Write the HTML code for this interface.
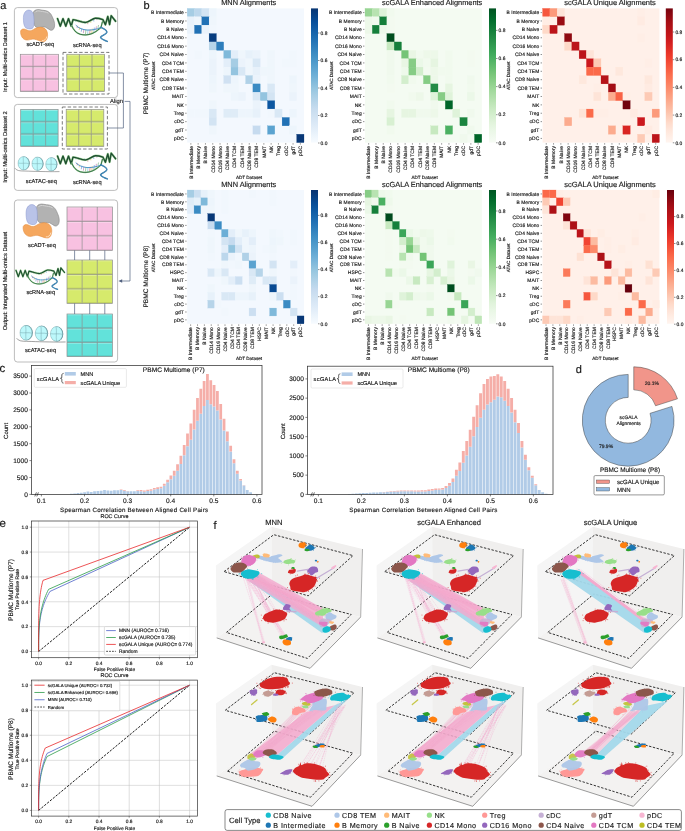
<!DOCTYPE html>
<html><head><meta charset="utf-8"><title>scGALA figure</title>
<style>html,body{margin:0;padding:0;background:#fff;} svg{display:block;will-change:transform;} text{font-family:'Liberation Sans', sans-serif;text-rendering:geometricPrecision;stroke:#1a1a1a;stroke-width:0.15px;} text.s{stroke-width:0.16px;}</style>
</head><body>
<svg width="685" height="831" viewBox="0 0 685 831" font-family="'Liberation Sans', sans-serif">
<rect width="685" height="831" fill="#fff"/>
<text transform="translate(0.20,8.60)" font-size="11" text-anchor="start" fill="#1a1a1a">a</text>
<rect x="14.4" y="7.6" width="103.2" height="90" rx="3" fill="#fff" stroke="#909090" stroke-width="0.6"/>
<rect x="14.4" y="104.4" width="103.2" height="86" rx="3" fill="#fff" stroke="#909090" stroke-width="0.6"/>
<rect x="14.4" y="200" width="103.2" height="162" rx="3" fill="#fff" stroke="#909090" stroke-width="0.6"/>
<text transform="translate(6.60,57.00) rotate(-90)" font-size="5.65" text-anchor="middle" fill="#1a1a1a">Input: Multi-omics Dataset 1</text>
<text transform="translate(6.60,147.00) rotate(-90)" font-size="5.75" text-anchor="middle" fill="#1a1a1a">Input: Multi-omics Dataset 2</text>
<text transform="translate(6.60,281.00) rotate(-90)" font-size="5.75" text-anchor="middle" fill="#1a1a1a">Output: Integrated Multi-omics Dataset</text>
<g transform="translate(0.00,0.00) scale(1.0)"><path d="M33.5,12 C34.5,9.8 37.5,9.2 40,9.8 C42,10.3 43.5,10.2 45.5,10.6 C48.5,11.2 51,13.5 52.2,16.5 C53.5,19.5 55,22.5 54.6,26 C54.3,29 52.5,30.8 50.5,30.2 C48.5,29.6 47.5,27.8 45.5,27.2 C43,26.5 40.5,27.8 38,27.6 C35.5,27.4 34,25.5 33.8,23 C33.5,19.5 32.8,15 33.5,12 Z" fill="#b2b2b2" stroke="#858585" stroke-width="0.6"/><path d="M35,12.5 C36,10.8 38.5,10.6 40.5,11.2 C43,11.8 46,11.6 48.5,13.2" fill="none" stroke="#d4d4d4" stroke-width="0.9"/><path d="M28.5,10.1 C31.5,10 33.6,12.5 33.8,16.5 C34,20 34.5,24.5 33.2,27.5 C32,29.5 28.5,29.3 26,28 C23.8,26.5 23.3,22 23.4,17.5 C23.5,13.5 25.5,10.2 28.5,10.1 Z" fill="#b9c3e8" stroke="#8d9bd0" stroke-width="0.5"/><path d="M20.6,31 C21.5,28.5 24.5,28.6 26.5,29.8 C29,31.2 31,31.2 33.5,29.4 C36,27.6 39.5,26.4 43,27.6 C46.5,28.8 47.8,32 47.6,35.5 C47.4,39 46,41.8 43,41.6 C40,41.4 37.5,39.8 34.5,39.2 C31.5,38.6 29,40.6 26,40 C22.5,39.2 20.3,35.5 20.6,31 Z" fill="#f5a75e" stroke="#e38a3c" stroke-width="0.5"/><path d="M42,40.6 C44.5,40.8 46.4,39.2 46.8,36.5" fill="none" stroke="#fde3c4" stroke-width="0.9"/></g>
<g transform="translate(0.00,0.00) scale(1.0)" fill="none" stroke-linecap="round" stroke-linejoin="round"><line x1="77.55" y1="26.09" x2="77.15" y2="27.48" stroke="#c84a5a" stroke-width="0.55"/><line x1="79.64" y1="27.40" x2="79.24" y2="29.56" stroke="#d8b040" stroke-width="0.55"/><line x1="81.73" y1="28.53" x2="81.33" y2="31.38" stroke="#4a7ac8" stroke-width="0.55"/><line x1="83.82" y1="29.39" x2="83.42" y2="32.79" stroke="#b060a0" stroke-width="0.55"/><line x1="85.91" y1="29.89" x2="85.51" y2="33.69" stroke="#5aa060" stroke-width="0.55"/><line x1="88.00" y1="29.99" x2="87.60" y2="34.00" stroke="#6ab0d8" stroke-width="0.55"/><line x1="90.09" y1="29.67" x2="89.69" y2="33.69" stroke="#c84a5a" stroke-width="0.55"/><line x1="92.18" y1="28.98" x2="91.78" y2="32.79" stroke="#d8b040" stroke-width="0.55"/><line x1="94.27" y1="27.97" x2="93.87" y2="31.38" stroke="#4a7ac8" stroke-width="0.55"/><line x1="96.36" y1="26.73" x2="95.96" y2="29.56" stroke="#b060a0" stroke-width="0.55"/><line x1="98.45" y1="25.40" x2="98.05" y2="27.48" stroke="#5aa060" stroke-width="0.55"/><line x1="75.50" y1="19.60" x2="75.80" y2="21.40" stroke="#4a7ac8" stroke-width="0.55"/><line x1="78.50" y1="20.28" x2="78.80" y2="22.08" stroke="#b060a0" stroke-width="0.55"/><line x1="81.50" y1="20.89" x2="81.80" y2="22.69" stroke="#5aa060" stroke-width="0.55"/><line x1="84.50" y1="21.38" x2="84.80" y2="23.18" stroke="#6ab0d8" stroke-width="0.55"/><line x1="87.50" y1="21.97" x2="87.80" y2="23.77" stroke="#c84a5a" stroke-width="0.55"/><line x1="90.50" y1="20.62" x2="90.80" y2="22.43" stroke="#d8b040" stroke-width="0.55"/><line x1="93.50" y1="19.27" x2="93.80" y2="21.07" stroke="#4a7ac8" stroke-width="0.55"/><line x1="96.50" y1="17.92" x2="96.80" y2="19.72" stroke="#b060a0" stroke-width="0.55"/><path d="M57.5,18.6 L60.3,26.2 L63,18.6 L65.8,26.2 L68.5,18.6 L71.2,26.2 L73,19.6 C78,20.2 82.5,23 86,22.4 C89.5,21.7 92.5,18.6 95.4,18.2 C98,18 100.5,18.8 102.9,19.6 L105.4,24.8 L107.8,16.4 L109.6,24.6 L111.2,15.6 L115.6,21.2" stroke="#a8d8a0" stroke-width="2.3"/><path d="M57.5,18.6 L60.3,26.2 L63,18.6 L65.8,26.2 L68.5,18.6 L71.2,26.2 L73,19.6 C78,20.2 82.5,23 86,22.4 C89.5,21.7 92.5,18.6 95.4,18.2 C98,18 100.5,18.8 102.9,19.6 L105.4,24.8 L107.8,16.4 L109.6,24.6 L111.2,15.6 L115.6,21.2" stroke="#1f4f32" stroke-width="1.4"/><path d="M71.8,25.8 C73.5,30 76,33 80,34.2 C84,35.3 88,35.2 92,33.6 C96,32 99,29.2 101,27.4 L102.4,21.9" stroke="#9ccf98" stroke-width="1.6"/><path d="M71.8,25.8 C73.5,30 76,33 80,34.2 C84,35.3 88,35.2 92,33.6 C96,32 99,29.2 101,27.4 L102.4,21.9" stroke="#2f6a44" stroke-width="0.9"/><path d="M76,25.4 C78,27.6 80.5,28.7 84,29.6 C88,30.5 92,30.1 96,29.1 C98.5,28.5 100,27.9 101,27.4" stroke="#3f8fc4" stroke-width="0.9"/><path d="M101,27.4 C104,28.8 107.2,30.6 106.8,32.4 C106.2,34.6 101.4,35.4 100.6,37.3 C100.8,39.4 105,40.4 107.3,41.4" stroke="#256a9a" stroke-width="1.5"/><path d="M101,27.4 C104,28.8 107.2,30.6 106.8,32.4 C106.2,34.6 101.4,35.4 100.6,37.3 C100.8,39.4 105,40.4 107.3,41.4" stroke="#6ab4e0" stroke-width="0.5"/></g>
<text transform="translate(40.30,46.40)" font-size="5.7" text-anchor="middle" fill="#1a1a1a">scADT-seq</text>
<text transform="translate(87.30,46.60)" font-size="5.7" text-anchor="middle" fill="#1a1a1a">scRNA-seq</text>
<rect x="20.30" y="54.30" width="38.20" height="37.20" fill="#f8c1e1" stroke="#8e8e8e" stroke-width="0.7"/>
<rect x="20.80" y="65.40" width="11.73" height="1.0" fill="#000" opacity="0.1"/>
<rect x="20.80" y="54.70" width="11.73" height="0.9" fill="#fff" opacity="0.35"/>
<rect x="20.80" y="77.80" width="11.73" height="1.0" fill="#000" opacity="0.1"/>
<rect x="20.80" y="67.10" width="11.73" height="0.9" fill="#fff" opacity="0.35"/>
<rect x="20.80" y="90.20" width="11.73" height="1.0" fill="#000" opacity="0.1"/>
<rect x="20.80" y="79.50" width="11.73" height="0.9" fill="#fff" opacity="0.35"/>
<rect x="33.53" y="65.40" width="11.73" height="1.0" fill="#000" opacity="0.1"/>
<rect x="33.53" y="54.70" width="11.73" height="0.9" fill="#fff" opacity="0.35"/>
<rect x="33.53" y="77.80" width="11.73" height="1.0" fill="#000" opacity="0.1"/>
<rect x="33.53" y="67.10" width="11.73" height="0.9" fill="#fff" opacity="0.35"/>
<rect x="33.53" y="90.20" width="11.73" height="1.0" fill="#000" opacity="0.1"/>
<rect x="33.53" y="79.50" width="11.73" height="0.9" fill="#fff" opacity="0.35"/>
<rect x="46.27" y="65.40" width="11.73" height="1.0" fill="#000" opacity="0.1"/>
<rect x="46.27" y="54.70" width="11.73" height="0.9" fill="#fff" opacity="0.35"/>
<rect x="46.27" y="77.80" width="11.73" height="1.0" fill="#000" opacity="0.1"/>
<rect x="46.27" y="67.10" width="11.73" height="0.9" fill="#fff" opacity="0.35"/>
<rect x="46.27" y="90.20" width="11.73" height="1.0" fill="#000" opacity="0.1"/>
<rect x="46.27" y="79.50" width="11.73" height="0.9" fill="#fff" opacity="0.35"/>
<line x1="33.03" y1="54.30" x2="33.03" y2="91.50" stroke="#8e8e8e" stroke-width="0.7"/>
<line x1="20.30" y1="66.70" x2="58.50" y2="66.70" stroke="#8e8e8e" stroke-width="0.7"/>
<line x1="45.77" y1="54.30" x2="45.77" y2="91.50" stroke="#8e8e8e" stroke-width="0.7"/>
<line x1="20.30" y1="79.10" x2="58.50" y2="79.10" stroke="#8e8e8e" stroke-width="0.7"/>
<rect x="63" y="52.4" width="46" height="41.6" fill="none" stroke="#5a5a5a" stroke-width="0.8" stroke-dasharray="3.4,2"/>
<rect x="66.80" y="54.30" width="37.80" height="37.20" fill="#d6ea6c" stroke="#8e8e8e" stroke-width="0.7"/>
<rect x="67.30" y="65.40" width="11.60" height="1.0" fill="#000" opacity="0.1"/>
<rect x="67.30" y="54.70" width="11.60" height="0.9" fill="#fff" opacity="0.35"/>
<rect x="67.30" y="77.80" width="11.60" height="1.0" fill="#000" opacity="0.1"/>
<rect x="67.30" y="67.10" width="11.60" height="0.9" fill="#fff" opacity="0.35"/>
<rect x="67.30" y="90.20" width="11.60" height="1.0" fill="#000" opacity="0.1"/>
<rect x="67.30" y="79.50" width="11.60" height="0.9" fill="#fff" opacity="0.35"/>
<rect x="79.90" y="65.40" width="11.60" height="1.0" fill="#000" opacity="0.1"/>
<rect x="79.90" y="54.70" width="11.60" height="0.9" fill="#fff" opacity="0.35"/>
<rect x="79.90" y="77.80" width="11.60" height="1.0" fill="#000" opacity="0.1"/>
<rect x="79.90" y="67.10" width="11.60" height="0.9" fill="#fff" opacity="0.35"/>
<rect x="79.90" y="90.20" width="11.60" height="1.0" fill="#000" opacity="0.1"/>
<rect x="79.90" y="79.50" width="11.60" height="0.9" fill="#fff" opacity="0.35"/>
<rect x="92.50" y="65.40" width="11.60" height="1.0" fill="#000" opacity="0.1"/>
<rect x="92.50" y="54.70" width="11.60" height="0.9" fill="#fff" opacity="0.35"/>
<rect x="92.50" y="77.80" width="11.60" height="1.0" fill="#000" opacity="0.1"/>
<rect x="92.50" y="67.10" width="11.60" height="0.9" fill="#fff" opacity="0.35"/>
<rect x="92.50" y="90.20" width="11.60" height="1.0" fill="#000" opacity="0.1"/>
<rect x="92.50" y="79.50" width="11.60" height="0.9" fill="#fff" opacity="0.35"/>
<line x1="79.40" y1="54.30" x2="79.40" y2="91.50" stroke="#8e8e8e" stroke-width="0.7"/>
<line x1="66.80" y1="66.70" x2="104.60" y2="66.70" stroke="#8e8e8e" stroke-width="0.7"/>
<line x1="92.00" y1="54.30" x2="92.00" y2="91.50" stroke="#8e8e8e" stroke-width="0.7"/>
<line x1="66.80" y1="79.10" x2="104.60" y2="79.10" stroke="#8e8e8e" stroke-width="0.7"/>
<rect x="20.70" y="109.60" width="37.40" height="36.80" fill="#62e2da" stroke="#8e8e8e" stroke-width="0.7"/>
<rect x="21.20" y="120.57" width="11.47" height="1.0" fill="#000" opacity="0.1"/>
<rect x="21.20" y="110.00" width="11.47" height="0.9" fill="#fff" opacity="0.35"/>
<rect x="21.20" y="132.83" width="11.47" height="1.0" fill="#000" opacity="0.1"/>
<rect x="21.20" y="122.27" width="11.47" height="0.9" fill="#fff" opacity="0.35"/>
<rect x="21.20" y="145.10" width="11.47" height="1.0" fill="#000" opacity="0.1"/>
<rect x="21.20" y="134.53" width="11.47" height="0.9" fill="#fff" opacity="0.35"/>
<rect x="33.67" y="120.57" width="11.47" height="1.0" fill="#000" opacity="0.1"/>
<rect x="33.67" y="110.00" width="11.47" height="0.9" fill="#fff" opacity="0.35"/>
<rect x="33.67" y="132.83" width="11.47" height="1.0" fill="#000" opacity="0.1"/>
<rect x="33.67" y="122.27" width="11.47" height="0.9" fill="#fff" opacity="0.35"/>
<rect x="33.67" y="145.10" width="11.47" height="1.0" fill="#000" opacity="0.1"/>
<rect x="33.67" y="134.53" width="11.47" height="0.9" fill="#fff" opacity="0.35"/>
<rect x="46.13" y="120.57" width="11.47" height="1.0" fill="#000" opacity="0.1"/>
<rect x="46.13" y="110.00" width="11.47" height="0.9" fill="#fff" opacity="0.35"/>
<rect x="46.13" y="132.83" width="11.47" height="1.0" fill="#000" opacity="0.1"/>
<rect x="46.13" y="122.27" width="11.47" height="0.9" fill="#fff" opacity="0.35"/>
<rect x="46.13" y="145.10" width="11.47" height="1.0" fill="#000" opacity="0.1"/>
<rect x="46.13" y="134.53" width="11.47" height="0.9" fill="#fff" opacity="0.35"/>
<line x1="33.17" y1="109.60" x2="33.17" y2="146.40" stroke="#8e8e8e" stroke-width="0.7"/>
<line x1="20.70" y1="121.87" x2="58.10" y2="121.87" stroke="#8e8e8e" stroke-width="0.7"/>
<line x1="45.63" y1="109.60" x2="45.63" y2="146.40" stroke="#8e8e8e" stroke-width="0.7"/>
<line x1="20.70" y1="134.13" x2="58.10" y2="134.13" stroke="#8e8e8e" stroke-width="0.7"/>
<rect x="62.3" y="107" width="45.1" height="42" fill="none" stroke="#5a5a5a" stroke-width="0.8" stroke-dasharray="3.4,2"/>
<rect x="66.20" y="109.60" width="37.60" height="36.80" fill="#d6ea6c" stroke="#8e8e8e" stroke-width="0.7"/>
<rect x="66.70" y="120.57" width="11.53" height="1.0" fill="#000" opacity="0.1"/>
<rect x="66.70" y="110.00" width="11.53" height="0.9" fill="#fff" opacity="0.35"/>
<rect x="66.70" y="132.83" width="11.53" height="1.0" fill="#000" opacity="0.1"/>
<rect x="66.70" y="122.27" width="11.53" height="0.9" fill="#fff" opacity="0.35"/>
<rect x="66.70" y="145.10" width="11.53" height="1.0" fill="#000" opacity="0.1"/>
<rect x="66.70" y="134.53" width="11.53" height="0.9" fill="#fff" opacity="0.35"/>
<rect x="79.23" y="120.57" width="11.53" height="1.0" fill="#000" opacity="0.1"/>
<rect x="79.23" y="110.00" width="11.53" height="0.9" fill="#fff" opacity="0.35"/>
<rect x="79.23" y="132.83" width="11.53" height="1.0" fill="#000" opacity="0.1"/>
<rect x="79.23" y="122.27" width="11.53" height="0.9" fill="#fff" opacity="0.35"/>
<rect x="79.23" y="145.10" width="11.53" height="1.0" fill="#000" opacity="0.1"/>
<rect x="79.23" y="134.53" width="11.53" height="0.9" fill="#fff" opacity="0.35"/>
<rect x="91.77" y="120.57" width="11.53" height="1.0" fill="#000" opacity="0.1"/>
<rect x="91.77" y="110.00" width="11.53" height="0.9" fill="#fff" opacity="0.35"/>
<rect x="91.77" y="132.83" width="11.53" height="1.0" fill="#000" opacity="0.1"/>
<rect x="91.77" y="122.27" width="11.53" height="0.9" fill="#fff" opacity="0.35"/>
<rect x="91.77" y="145.10" width="11.53" height="1.0" fill="#000" opacity="0.1"/>
<rect x="91.77" y="134.53" width="11.53" height="0.9" fill="#fff" opacity="0.35"/>
<line x1="78.73" y1="109.60" x2="78.73" y2="146.40" stroke="#8e8e8e" stroke-width="0.7"/>
<line x1="66.20" y1="121.87" x2="103.80" y2="121.87" stroke="#8e8e8e" stroke-width="0.7"/>
<line x1="91.27" y1="109.60" x2="91.27" y2="146.40" stroke="#8e8e8e" stroke-width="0.7"/>
<line x1="66.20" y1="134.13" x2="103.80" y2="134.13" stroke="#8e8e8e" stroke-width="0.7"/>
<g transform="translate(0.00,0.00) scale(1.0)"><path d="M15,168.2 C16.5,170.8 20,171 24,171 C30,171.2 34,171.4 40,171.5 C47,171.6 53,171.8 59.5,171.6" fill="none" stroke="#555" stroke-width="0.5"/><ellipse cx="24.0" cy="163.3" rx="5.7" ry="6.8" fill="#5f8f96"/><ellipse cx="23.5" cy="163.3" rx="5.5" ry="6.7" fill="#bdf8fb" stroke="#6d9aa0" stroke-width="0.35"/><path d="M23.2,156.8 C23.8,161.3 23.0,165.3 23.5,169.9 M18.1,163.10000000000002 C21.5,163.70000000000002 25.5,162.70000000000002 28.9,163.60000000000002" fill="none" stroke="#6d9aa0" stroke-width="0.4"/><ellipse cx="37.9" cy="163.7" rx="5.7" ry="6.8" fill="#5f8f96"/><ellipse cx="37.4" cy="163.7" rx="5.5" ry="6.7" fill="#bdf8fb" stroke="#6d9aa0" stroke-width="0.35"/><path d="M37.1,157.2 C37.699999999999996,161.7 36.9,165.7 37.4,170.29999999999998 M32.0,163.5 C35.4,164.1 39.4,163.1 42.8,164.0" fill="none" stroke="#6d9aa0" stroke-width="0.4"/><ellipse cx="51.7" cy="164.3" rx="5.7" ry="6.8" fill="#5f8f96"/><ellipse cx="51.2" cy="164.3" rx="5.5" ry="6.7" fill="#bdf8fb" stroke="#6d9aa0" stroke-width="0.35"/><path d="M50.900000000000006,157.8 C51.5,162.3 50.7,166.3 51.2,170.9 M45.800000000000004,164.10000000000002 C49.2,164.70000000000002 53.2,163.70000000000002 56.6,164.60000000000002" fill="none" stroke="#6d9aa0" stroke-width="0.4"/></g>
<g transform="translate(0.00,137.50) scale(1.0)" fill="none" stroke-linecap="round" stroke-linejoin="round"><line x1="77.55" y1="26.09" x2="77.15" y2="27.48" stroke="#c84a5a" stroke-width="0.55"/><line x1="79.64" y1="27.40" x2="79.24" y2="29.56" stroke="#d8b040" stroke-width="0.55"/><line x1="81.73" y1="28.53" x2="81.33" y2="31.38" stroke="#4a7ac8" stroke-width="0.55"/><line x1="83.82" y1="29.39" x2="83.42" y2="32.79" stroke="#b060a0" stroke-width="0.55"/><line x1="85.91" y1="29.89" x2="85.51" y2="33.69" stroke="#5aa060" stroke-width="0.55"/><line x1="88.00" y1="29.99" x2="87.60" y2="34.00" stroke="#6ab0d8" stroke-width="0.55"/><line x1="90.09" y1="29.67" x2="89.69" y2="33.69" stroke="#c84a5a" stroke-width="0.55"/><line x1="92.18" y1="28.98" x2="91.78" y2="32.79" stroke="#d8b040" stroke-width="0.55"/><line x1="94.27" y1="27.97" x2="93.87" y2="31.38" stroke="#4a7ac8" stroke-width="0.55"/><line x1="96.36" y1="26.73" x2="95.96" y2="29.56" stroke="#b060a0" stroke-width="0.55"/><line x1="98.45" y1="25.40" x2="98.05" y2="27.48" stroke="#5aa060" stroke-width="0.55"/><line x1="75.50" y1="19.60" x2="75.80" y2="21.40" stroke="#4a7ac8" stroke-width="0.55"/><line x1="78.50" y1="20.28" x2="78.80" y2="22.08" stroke="#b060a0" stroke-width="0.55"/><line x1="81.50" y1="20.89" x2="81.80" y2="22.69" stroke="#5aa060" stroke-width="0.55"/><line x1="84.50" y1="21.38" x2="84.80" y2="23.18" stroke="#6ab0d8" stroke-width="0.55"/><line x1="87.50" y1="21.97" x2="87.80" y2="23.77" stroke="#c84a5a" stroke-width="0.55"/><line x1="90.50" y1="20.62" x2="90.80" y2="22.43" stroke="#d8b040" stroke-width="0.55"/><line x1="93.50" y1="19.27" x2="93.80" y2="21.07" stroke="#4a7ac8" stroke-width="0.55"/><line x1="96.50" y1="17.92" x2="96.80" y2="19.72" stroke="#b060a0" stroke-width="0.55"/><path d="M57.5,18.6 L60.3,26.2 L63,18.6 L65.8,26.2 L68.5,18.6 L71.2,26.2 L73,19.6 C78,20.2 82.5,23 86,22.4 C89.5,21.7 92.5,18.6 95.4,18.2 C98,18 100.5,18.8 102.9,19.6 L105.4,24.8 L107.8,16.4 L109.6,24.6 L111.2,15.6 L115.6,21.2" stroke="#a8d8a0" stroke-width="2.3"/><path d="M57.5,18.6 L60.3,26.2 L63,18.6 L65.8,26.2 L68.5,18.6 L71.2,26.2 L73,19.6 C78,20.2 82.5,23 86,22.4 C89.5,21.7 92.5,18.6 95.4,18.2 C98,18 100.5,18.8 102.9,19.6 L105.4,24.8 L107.8,16.4 L109.6,24.6 L111.2,15.6 L115.6,21.2" stroke="#1f4f32" stroke-width="1.4"/><path d="M71.8,25.8 C73.5,30 76,33 80,34.2 C84,35.3 88,35.2 92,33.6 C96,32 99,29.2 101,27.4 L102.4,21.9" stroke="#9ccf98" stroke-width="1.6"/><path d="M71.8,25.8 C73.5,30 76,33 80,34.2 C84,35.3 88,35.2 92,33.6 C96,32 99,29.2 101,27.4 L102.4,21.9" stroke="#2f6a44" stroke-width="0.9"/><path d="M76,25.4 C78,27.6 80.5,28.7 84,29.6 C88,30.5 92,30.1 96,29.1 C98.5,28.5 100,27.9 101,27.4" stroke="#3f8fc4" stroke-width="0.9"/><path d="M101,27.4 C104,28.8 107.2,30.6 106.8,32.4 C106.2,34.6 101.4,35.4 100.6,37.3 C100.8,39.4 105,40.4 107.3,41.4" stroke="#256a9a" stroke-width="1.5"/><path d="M101,27.4 C104,28.8 107.2,30.6 106.8,32.4 C106.2,34.6 101.4,35.4 100.6,37.3 C100.8,39.4 105,40.4 107.3,41.4" stroke="#6ab4e0" stroke-width="0.5"/></g>
<text transform="translate(41.40,183.40)" font-size="5.7" text-anchor="middle" fill="#1a1a1a">scATAC-seq</text>
<text transform="translate(87.30,183.60)" font-size="5.7" text-anchor="middle" fill="#1a1a1a">scRNA-seq</text>
<path d="M109,73 H123.4 V128 H107.6" fill="none" stroke="#51617f" stroke-width="0.7"/>
<text transform="translate(110.00,103.30)" font-size="5.8" text-anchor="start" fill="#1a1a1a">Align</text>
<path d="M124.6,101.4 H130 V281 H120.5" fill="none" stroke="#51617f" stroke-width="0.7"/>
<path d="M118.4,281 L122.2,279.2 L122.2,282.8 Z" fill="#51617f"/>
<g transform="translate(1.30,193.90) scale(1.06)"><path d="M33.5,12 C34.5,9.8 37.5,9.2 40,9.8 C42,10.3 43.5,10.2 45.5,10.6 C48.5,11.2 51,13.5 52.2,16.5 C53.5,19.5 55,22.5 54.6,26 C54.3,29 52.5,30.8 50.5,30.2 C48.5,29.6 47.5,27.8 45.5,27.2 C43,26.5 40.5,27.8 38,27.6 C35.5,27.4 34,25.5 33.8,23 C33.5,19.5 32.8,15 33.5,12 Z" fill="#b2b2b2" stroke="#858585" stroke-width="0.6"/><path d="M35,12.5 C36,10.8 38.5,10.6 40.5,11.2 C43,11.8 46,11.6 48.5,13.2" fill="none" stroke="#d4d4d4" stroke-width="0.9"/><path d="M28.5,10.1 C31.5,10 33.6,12.5 33.8,16.5 C34,20 34.5,24.5 33.2,27.5 C32,29.5 28.5,29.3 26,28 C23.8,26.5 23.3,22 23.4,17.5 C23.5,13.5 25.5,10.2 28.5,10.1 Z" fill="#b9c3e8" stroke="#8d9bd0" stroke-width="0.5"/><path d="M20.6,31 C21.5,28.5 24.5,28.6 26.5,29.8 C29,31.2 31,31.2 33.5,29.4 C36,27.6 39.5,26.4 43,27.6 C46.5,28.8 47.8,32 47.6,35.5 C47.4,39 46,41.8 43,41.6 C40,41.4 37.5,39.8 34.5,39.2 C31.5,38.6 29,40.6 26,40 C22.5,39.2 20.3,35.5 20.6,31 Z" fill="#f5a75e" stroke="#e38a3c" stroke-width="0.5"/><path d="M42,40.6 C44.5,40.8 46.4,39.2 46.8,36.5" fill="none" stroke="#fde3c4" stroke-width="0.9"/></g>
<text transform="translate(42.00,246.60)" font-size="5.7" text-anchor="middle" fill="#1a1a1a">scADT-seq</text>
<rect x="67.00" y="207.00" width="45.40" height="43.40" fill="#f8c1e1" stroke="#8e8e8e" stroke-width="0.7"/>
<rect x="67.50" y="220.17" width="14.13" height="1.0" fill="#000" opacity="0.1"/>
<rect x="67.50" y="207.40" width="14.13" height="0.9" fill="#fff" opacity="0.35"/>
<rect x="67.50" y="234.63" width="14.13" height="1.0" fill="#000" opacity="0.1"/>
<rect x="67.50" y="221.87" width="14.13" height="0.9" fill="#fff" opacity="0.35"/>
<rect x="67.50" y="249.10" width="14.13" height="1.0" fill="#000" opacity="0.1"/>
<rect x="67.50" y="236.33" width="14.13" height="0.9" fill="#fff" opacity="0.35"/>
<rect x="82.63" y="220.17" width="14.13" height="1.0" fill="#000" opacity="0.1"/>
<rect x="82.63" y="207.40" width="14.13" height="0.9" fill="#fff" opacity="0.35"/>
<rect x="82.63" y="234.63" width="14.13" height="1.0" fill="#000" opacity="0.1"/>
<rect x="82.63" y="221.87" width="14.13" height="0.9" fill="#fff" opacity="0.35"/>
<rect x="82.63" y="249.10" width="14.13" height="1.0" fill="#000" opacity="0.1"/>
<rect x="82.63" y="236.33" width="14.13" height="0.9" fill="#fff" opacity="0.35"/>
<rect x="97.77" y="220.17" width="14.13" height="1.0" fill="#000" opacity="0.1"/>
<rect x="97.77" y="207.40" width="14.13" height="0.9" fill="#fff" opacity="0.35"/>
<rect x="97.77" y="234.63" width="14.13" height="1.0" fill="#000" opacity="0.1"/>
<rect x="97.77" y="221.87" width="14.13" height="0.9" fill="#fff" opacity="0.35"/>
<rect x="97.77" y="249.10" width="14.13" height="1.0" fill="#000" opacity="0.1"/>
<rect x="97.77" y="236.33" width="14.13" height="0.9" fill="#fff" opacity="0.35"/>
<line x1="82.13" y1="207.00" x2="82.13" y2="250.40" stroke="#8e8e8e" stroke-width="0.7"/>
<line x1="67.00" y1="221.47" x2="112.40" y2="221.47" stroke="#8e8e8e" stroke-width="0.7"/>
<line x1="97.27" y1="207.00" x2="97.27" y2="250.40" stroke="#8e8e8e" stroke-width="0.7"/>
<line x1="67.00" y1="235.93" x2="112.40" y2="235.93" stroke="#8e8e8e" stroke-width="0.7"/>
<rect x="67.00" y="260.00" width="45.40" height="43.40" fill="#d6ea6c" stroke="#8e8e8e" stroke-width="0.7"/>
<rect x="67.50" y="273.17" width="14.13" height="1.0" fill="#000" opacity="0.1"/>
<rect x="67.50" y="260.40" width="14.13" height="0.9" fill="#fff" opacity="0.35"/>
<rect x="67.50" y="287.63" width="14.13" height="1.0" fill="#000" opacity="0.1"/>
<rect x="67.50" y="274.87" width="14.13" height="0.9" fill="#fff" opacity="0.35"/>
<rect x="67.50" y="302.10" width="14.13" height="1.0" fill="#000" opacity="0.1"/>
<rect x="67.50" y="289.33" width="14.13" height="0.9" fill="#fff" opacity="0.35"/>
<rect x="82.63" y="273.17" width="14.13" height="1.0" fill="#000" opacity="0.1"/>
<rect x="82.63" y="260.40" width="14.13" height="0.9" fill="#fff" opacity="0.35"/>
<rect x="82.63" y="287.63" width="14.13" height="1.0" fill="#000" opacity="0.1"/>
<rect x="82.63" y="274.87" width="14.13" height="0.9" fill="#fff" opacity="0.35"/>
<rect x="82.63" y="302.10" width="14.13" height="1.0" fill="#000" opacity="0.1"/>
<rect x="82.63" y="289.33" width="14.13" height="0.9" fill="#fff" opacity="0.35"/>
<rect x="97.77" y="273.17" width="14.13" height="1.0" fill="#000" opacity="0.1"/>
<rect x="97.77" y="260.40" width="14.13" height="0.9" fill="#fff" opacity="0.35"/>
<rect x="97.77" y="287.63" width="14.13" height="1.0" fill="#000" opacity="0.1"/>
<rect x="97.77" y="274.87" width="14.13" height="0.9" fill="#fff" opacity="0.35"/>
<rect x="97.77" y="302.10" width="14.13" height="1.0" fill="#000" opacity="0.1"/>
<rect x="97.77" y="289.33" width="14.13" height="0.9" fill="#fff" opacity="0.35"/>
<line x1="82.13" y1="260.00" x2="82.13" y2="303.40" stroke="#8e8e8e" stroke-width="0.7"/>
<line x1="67.00" y1="274.47" x2="112.40" y2="274.47" stroke="#8e8e8e" stroke-width="0.7"/>
<line x1="97.27" y1="260.00" x2="97.27" y2="303.40" stroke="#8e8e8e" stroke-width="0.7"/>
<line x1="67.00" y1="288.93" x2="112.40" y2="288.93" stroke="#8e8e8e" stroke-width="0.7"/>
<rect x="67.00" y="314.00" width="45.40" height="42.60" fill="#62e2da" stroke="#8e8e8e" stroke-width="0.7"/>
<rect x="67.50" y="326.90" width="14.13" height="1.0" fill="#000" opacity="0.1"/>
<rect x="67.50" y="314.40" width="14.13" height="0.9" fill="#fff" opacity="0.35"/>
<rect x="67.50" y="341.10" width="14.13" height="1.0" fill="#000" opacity="0.1"/>
<rect x="67.50" y="328.60" width="14.13" height="0.9" fill="#fff" opacity="0.35"/>
<rect x="67.50" y="355.30" width="14.13" height="1.0" fill="#000" opacity="0.1"/>
<rect x="67.50" y="342.80" width="14.13" height="0.9" fill="#fff" opacity="0.35"/>
<rect x="82.63" y="326.90" width="14.13" height="1.0" fill="#000" opacity="0.1"/>
<rect x="82.63" y="314.40" width="14.13" height="0.9" fill="#fff" opacity="0.35"/>
<rect x="82.63" y="341.10" width="14.13" height="1.0" fill="#000" opacity="0.1"/>
<rect x="82.63" y="328.60" width="14.13" height="0.9" fill="#fff" opacity="0.35"/>
<rect x="82.63" y="355.30" width="14.13" height="1.0" fill="#000" opacity="0.1"/>
<rect x="82.63" y="342.80" width="14.13" height="0.9" fill="#fff" opacity="0.35"/>
<rect x="97.77" y="326.90" width="14.13" height="1.0" fill="#000" opacity="0.1"/>
<rect x="97.77" y="314.40" width="14.13" height="0.9" fill="#fff" opacity="0.35"/>
<rect x="97.77" y="341.10" width="14.13" height="1.0" fill="#000" opacity="0.1"/>
<rect x="97.77" y="328.60" width="14.13" height="0.9" fill="#fff" opacity="0.35"/>
<rect x="97.77" y="355.30" width="14.13" height="1.0" fill="#000" opacity="0.1"/>
<rect x="97.77" y="342.80" width="14.13" height="0.9" fill="#fff" opacity="0.35"/>
<line x1="82.13" y1="314.00" x2="82.13" y2="356.60" stroke="#8e8e8e" stroke-width="0.7"/>
<line x1="67.00" y1="328.20" x2="112.40" y2="328.20" stroke="#8e8e8e" stroke-width="0.7"/>
<line x1="97.27" y1="314.00" x2="97.27" y2="356.60" stroke="#8e8e8e" stroke-width="0.7"/>
<line x1="67.00" y1="342.40" x2="112.40" y2="342.40" stroke="#8e8e8e" stroke-width="0.7"/>
<line x1="74.6" y1="250.4" x2="74.6" y2="260" stroke="#51617f" stroke-width="0.7"/>
<line x1="74.6" y1="303.4" x2="74.6" y2="314" stroke="#51617f" stroke-width="0.7"/>
<line x1="89.7" y1="250.4" x2="89.7" y2="260" stroke="#51617f" stroke-width="0.7"/>
<line x1="89.7" y1="303.4" x2="89.7" y2="314" stroke="#51617f" stroke-width="0.7"/>
<line x1="104.8" y1="250.4" x2="104.8" y2="260" stroke="#51617f" stroke-width="0.7"/>
<line x1="104.8" y1="303.4" x2="104.8" y2="314" stroke="#51617f" stroke-width="0.7"/>
<g transform="translate(-32.00,254.80) scale(0.835)" fill="none" stroke-linecap="round" stroke-linejoin="round"><line x1="77.55" y1="26.09" x2="77.15" y2="27.48" stroke="#c84a5a" stroke-width="0.55"/><line x1="79.64" y1="27.40" x2="79.24" y2="29.56" stroke="#d8b040" stroke-width="0.55"/><line x1="81.73" y1="28.53" x2="81.33" y2="31.38" stroke="#4a7ac8" stroke-width="0.55"/><line x1="83.82" y1="29.39" x2="83.42" y2="32.79" stroke="#b060a0" stroke-width="0.55"/><line x1="85.91" y1="29.89" x2="85.51" y2="33.69" stroke="#5aa060" stroke-width="0.55"/><line x1="88.00" y1="29.99" x2="87.60" y2="34.00" stroke="#6ab0d8" stroke-width="0.55"/><line x1="90.09" y1="29.67" x2="89.69" y2="33.69" stroke="#c84a5a" stroke-width="0.55"/><line x1="92.18" y1="28.98" x2="91.78" y2="32.79" stroke="#d8b040" stroke-width="0.55"/><line x1="94.27" y1="27.97" x2="93.87" y2="31.38" stroke="#4a7ac8" stroke-width="0.55"/><line x1="96.36" y1="26.73" x2="95.96" y2="29.56" stroke="#b060a0" stroke-width="0.55"/><line x1="98.45" y1="25.40" x2="98.05" y2="27.48" stroke="#5aa060" stroke-width="0.55"/><line x1="75.50" y1="19.60" x2="75.80" y2="21.40" stroke="#4a7ac8" stroke-width="0.55"/><line x1="78.50" y1="20.28" x2="78.80" y2="22.08" stroke="#b060a0" stroke-width="0.55"/><line x1="81.50" y1="20.89" x2="81.80" y2="22.69" stroke="#5aa060" stroke-width="0.55"/><line x1="84.50" y1="21.38" x2="84.80" y2="23.18" stroke="#6ab0d8" stroke-width="0.55"/><line x1="87.50" y1="21.97" x2="87.80" y2="23.77" stroke="#c84a5a" stroke-width="0.55"/><line x1="90.50" y1="20.62" x2="90.80" y2="22.43" stroke="#d8b040" stroke-width="0.55"/><line x1="93.50" y1="19.27" x2="93.80" y2="21.07" stroke="#4a7ac8" stroke-width="0.55"/><line x1="96.50" y1="17.92" x2="96.80" y2="19.72" stroke="#b060a0" stroke-width="0.55"/><path d="M57.5,18.6 L60.3,26.2 L63,18.6 L65.8,26.2 L68.5,18.6 L71.2,26.2 L73,19.6 C78,20.2 82.5,23 86,22.4 C89.5,21.7 92.5,18.6 95.4,18.2 C98,18 100.5,18.8 102.9,19.6 L105.4,24.8 L107.8,16.4 L109.6,24.6 L111.2,15.6 L115.6,21.2" stroke="#a8d8a0" stroke-width="2.3"/><path d="M57.5,18.6 L60.3,26.2 L63,18.6 L65.8,26.2 L68.5,18.6 L71.2,26.2 L73,19.6 C78,20.2 82.5,23 86,22.4 C89.5,21.7 92.5,18.6 95.4,18.2 C98,18 100.5,18.8 102.9,19.6 L105.4,24.8 L107.8,16.4 L109.6,24.6 L111.2,15.6 L115.6,21.2" stroke="#1f4f32" stroke-width="1.4"/><path d="M71.8,25.8 C73.5,30 76,33 80,34.2 C84,35.3 88,35.2 92,33.6 C96,32 99,29.2 101,27.4 L102.4,21.9" stroke="#9ccf98" stroke-width="1.6"/><path d="M71.8,25.8 C73.5,30 76,33 80,34.2 C84,35.3 88,35.2 92,33.6 C96,32 99,29.2 101,27.4 L102.4,21.9" stroke="#2f6a44" stroke-width="0.9"/><path d="M76,25.4 C78,27.6 80.5,28.7 84,29.6 C88,30.5 92,30.1 96,29.1 C98.5,28.5 100,27.9 101,27.4" stroke="#3f8fc4" stroke-width="0.9"/><path d="M101,27.4 C104,28.8 107.2,30.6 106.8,32.4 C106.2,34.6 101.4,35.4 100.6,37.3 C100.8,39.4 105,40.4 107.3,41.4" stroke="#256a9a" stroke-width="1.5"/><path d="M101,27.4 C104,28.8 107.2,30.6 106.8,32.4 C106.2,34.6 101.4,35.4 100.6,37.3 C100.8,39.4 105,40.4 107.3,41.4" stroke="#6ab4e0" stroke-width="0.5"/></g>
<text transform="translate(40.80,294.20)" font-size="5.7" text-anchor="middle" fill="#1a1a1a">scRNA-seq</text>
<g transform="translate(0.15,153.20) scale(1.1)"><path d="M15,168.2 C16.5,170.8 20,171 24,171 C30,171.2 34,171.4 40,171.5 C47,171.6 53,171.8 59.5,171.6" fill="none" stroke="#555" stroke-width="0.5"/><ellipse cx="24.0" cy="163.3" rx="5.7" ry="6.8" fill="#5f8f96"/><ellipse cx="23.5" cy="163.3" rx="5.5" ry="6.7" fill="#bdf8fb" stroke="#6d9aa0" stroke-width="0.35"/><path d="M23.2,156.8 C23.8,161.3 23.0,165.3 23.5,169.9 M18.1,163.10000000000002 C21.5,163.70000000000002 25.5,162.70000000000002 28.9,163.60000000000002" fill="none" stroke="#6d9aa0" stroke-width="0.4"/><ellipse cx="37.9" cy="163.7" rx="5.7" ry="6.8" fill="#5f8f96"/><ellipse cx="37.4" cy="163.7" rx="5.5" ry="6.7" fill="#bdf8fb" stroke="#6d9aa0" stroke-width="0.35"/><path d="M37.1,157.2 C37.699999999999996,161.7 36.9,165.7 37.4,170.29999999999998 M32.0,163.5 C35.4,164.1 39.4,163.1 42.8,164.0" fill="none" stroke="#6d9aa0" stroke-width="0.4"/><ellipse cx="51.7" cy="164.3" rx="5.7" ry="6.8" fill="#5f8f96"/><ellipse cx="51.2" cy="164.3" rx="5.5" ry="6.7" fill="#bdf8fb" stroke="#6d9aa0" stroke-width="0.35"/><path d="M50.900000000000006,157.8 C51.5,162.3 50.7,166.3 51.2,170.9 M45.800000000000004,164.10000000000002 C49.2,164.70000000000002 53.2,163.70000000000002 56.6,164.60000000000002" fill="none" stroke="#6d9aa0" stroke-width="0.4"/></g>
<text transform="translate(40.50,351.80)" font-size="5.7" text-anchor="middle" fill="#1a1a1a">scATAC-seq</text>
<rect x="187.20" y="8.40" width="116.80" height="134.20" fill="#f3f8fe"/>
<rect x="187.20" y="8.40" width="7.30" height="8.39" fill="#a6cde4" stroke="#a6cde4" stroke-width="0.25"/>
<rect x="194.50" y="8.40" width="7.30" height="8.39" fill="#bcd7ec" stroke="#bcd7ec" stroke-width="0.25"/>
<rect x="201.80" y="8.40" width="7.30" height="8.39" fill="#d3e4f3" stroke="#d3e4f3" stroke-width="0.25"/>
<rect x="209.10" y="8.40" width="7.30" height="8.39" fill="#edf5fc" stroke="#edf5fc" stroke-width="0.25"/>
<rect x="187.20" y="16.79" width="7.30" height="8.39" fill="#e9f2fb" stroke="#e9f2fb" stroke-width="0.25"/>
<rect x="194.50" y="16.79" width="7.30" height="8.39" fill="#eff6fc" stroke="#eff6fc" stroke-width="0.25"/>
<rect x="201.80" y="16.79" width="7.30" height="8.39" fill="#2171b5" stroke="#2171b5" stroke-width="0.25"/>
<rect x="209.10" y="16.79" width="7.30" height="8.39" fill="#eff6fc" stroke="#eff6fc" stroke-width="0.25"/>
<rect x="187.20" y="25.17" width="7.30" height="8.39" fill="#ebf3fb" stroke="#ebf3fb" stroke-width="0.25"/>
<rect x="194.50" y="25.17" width="7.30" height="8.39" fill="#2171b5" stroke="#2171b5" stroke-width="0.25"/>
<rect x="201.80" y="25.17" width="7.30" height="8.39" fill="#ebf3fb" stroke="#ebf3fb" stroke-width="0.25"/>
<rect x="209.10" y="25.17" width="7.30" height="8.39" fill="#f1f7fd" stroke="#f1f7fd" stroke-width="0.25"/>
<rect x="209.10" y="33.56" width="7.30" height="8.39" fill="#083d7f" stroke="#083d7f" stroke-width="0.25"/>
<rect x="209.10" y="41.95" width="7.30" height="8.39" fill="#b6d4e9" stroke="#b6d4e9" stroke-width="0.25"/>
<rect x="216.40" y="41.95" width="7.30" height="8.39" fill="#2e7ebc" stroke="#2e7ebc" stroke-width="0.25"/>
<rect x="194.50" y="50.34" width="7.30" height="8.39" fill="#f1f7fd" stroke="#f1f7fd" stroke-width="0.25"/>
<rect x="209.10" y="50.34" width="7.30" height="8.39" fill="#edf5fc" stroke="#edf5fc" stroke-width="0.25"/>
<rect x="223.70" y="50.34" width="7.30" height="8.39" fill="#7fb9da" stroke="#7fb9da" stroke-width="0.25"/>
<rect x="231.00" y="50.34" width="7.30" height="8.39" fill="#e3eef9" stroke="#e3eef9" stroke-width="0.25"/>
<rect x="238.30" y="50.34" width="7.30" height="8.39" fill="#eff6fc" stroke="#eff6fc" stroke-width="0.25"/>
<rect x="245.60" y="50.34" width="7.30" height="8.39" fill="#e7f1fa" stroke="#e7f1fa" stroke-width="0.25"/>
<rect x="252.90" y="50.34" width="7.30" height="8.39" fill="#ebf3fb" stroke="#ebf3fb" stroke-width="0.25"/>
<rect x="267.50" y="50.34" width="7.30" height="8.39" fill="#eff6fc" stroke="#eff6fc" stroke-width="0.25"/>
<rect x="289.40" y="50.34" width="7.30" height="8.39" fill="#f1f7fd" stroke="#f1f7fd" stroke-width="0.25"/>
<rect x="209.10" y="58.72" width="7.30" height="8.39" fill="#ebf3fb" stroke="#ebf3fb" stroke-width="0.25"/>
<rect x="223.70" y="58.72" width="7.30" height="8.39" fill="#e3eef9" stroke="#e3eef9" stroke-width="0.25"/>
<rect x="231.00" y="58.72" width="7.30" height="8.39" fill="#a6cde4" stroke="#a6cde4" stroke-width="0.25"/>
<rect x="238.30" y="58.72" width="7.30" height="8.39" fill="#ebf3fb" stroke="#ebf3fb" stroke-width="0.25"/>
<rect x="245.60" y="58.72" width="7.30" height="8.39" fill="#eff6fc" stroke="#eff6fc" stroke-width="0.25"/>
<rect x="252.90" y="58.72" width="7.30" height="8.39" fill="#d9e8f5" stroke="#d9e8f5" stroke-width="0.25"/>
<rect x="267.50" y="58.72" width="7.30" height="8.39" fill="#eff6fc" stroke="#eff6fc" stroke-width="0.25"/>
<rect x="282.10" y="58.72" width="7.30" height="8.39" fill="#f1f7fd" stroke="#f1f7fd" stroke-width="0.25"/>
<rect x="289.40" y="58.72" width="7.30" height="8.39" fill="#f1f7fd" stroke="#f1f7fd" stroke-width="0.25"/>
<rect x="209.10" y="67.11" width="7.30" height="8.39" fill="#ebf3fb" stroke="#ebf3fb" stroke-width="0.25"/>
<rect x="223.70" y="67.11" width="7.30" height="8.39" fill="#edf5fc" stroke="#edf5fc" stroke-width="0.25"/>
<rect x="231.00" y="67.11" width="7.30" height="8.39" fill="#94c4df" stroke="#94c4df" stroke-width="0.25"/>
<rect x="238.30" y="67.11" width="7.30" height="8.39" fill="#d9e8f5" stroke="#d9e8f5" stroke-width="0.25"/>
<rect x="245.60" y="67.11" width="7.30" height="8.39" fill="#eff6fc" stroke="#eff6fc" stroke-width="0.25"/>
<rect x="252.90" y="67.11" width="7.30" height="8.39" fill="#e7f1fa" stroke="#e7f1fa" stroke-width="0.25"/>
<rect x="260.20" y="67.11" width="7.30" height="8.39" fill="#eff6fc" stroke="#eff6fc" stroke-width="0.25"/>
<rect x="267.50" y="67.11" width="7.30" height="8.39" fill="#eff6fc" stroke="#eff6fc" stroke-width="0.25"/>
<rect x="209.10" y="75.50" width="7.30" height="8.39" fill="#edf5fc" stroke="#edf5fc" stroke-width="0.25"/>
<rect x="223.70" y="75.50" width="7.30" height="8.39" fill="#d0e1f2" stroke="#d0e1f2" stroke-width="0.25"/>
<rect x="231.00" y="75.50" width="7.30" height="8.39" fill="#edf5fc" stroke="#edf5fc" stroke-width="0.25"/>
<rect x="245.60" y="75.50" width="7.30" height="8.39" fill="#b0d1e7" stroke="#b0d1e7" stroke-width="0.25"/>
<rect x="252.90" y="75.50" width="7.30" height="8.39" fill="#ebf3fb" stroke="#ebf3fb" stroke-width="0.25"/>
<rect x="267.50" y="75.50" width="7.30" height="8.39" fill="#eff6fc" stroke="#eff6fc" stroke-width="0.25"/>
<rect x="289.40" y="75.50" width="7.30" height="8.39" fill="#edf5fc" stroke="#edf5fc" stroke-width="0.25"/>
<rect x="209.10" y="83.89" width="7.30" height="8.39" fill="#eff6fc" stroke="#eff6fc" stroke-width="0.25"/>
<rect x="223.70" y="83.89" width="7.30" height="8.39" fill="#eff6fc" stroke="#eff6fc" stroke-width="0.25"/>
<rect x="231.00" y="83.89" width="7.30" height="8.39" fill="#eff6fc" stroke="#eff6fc" stroke-width="0.25"/>
<rect x="252.90" y="83.89" width="7.30" height="8.39" fill="#3b8bc3" stroke="#3b8bc3" stroke-width="0.25"/>
<rect x="267.50" y="83.89" width="7.30" height="8.39" fill="#d9e8f5" stroke="#d9e8f5" stroke-width="0.25"/>
<rect x="289.40" y="83.89" width="7.30" height="8.39" fill="#eff6fc" stroke="#eff6fc" stroke-width="0.25"/>
<rect x="231.00" y="92.28" width="7.30" height="8.39" fill="#edf5fc" stroke="#edf5fc" stroke-width="0.25"/>
<rect x="238.30" y="92.28" width="7.30" height="8.39" fill="#ebf3fb" stroke="#ebf3fb" stroke-width="0.25"/>
<rect x="252.90" y="92.28" width="7.30" height="8.39" fill="#d9e8f5" stroke="#d9e8f5" stroke-width="0.25"/>
<rect x="260.20" y="92.28" width="7.30" height="8.39" fill="#94c4df" stroke="#94c4df" stroke-width="0.25"/>
<rect x="267.50" y="92.28" width="7.30" height="8.39" fill="#d3e4f3" stroke="#d3e4f3" stroke-width="0.25"/>
<rect x="289.40" y="92.28" width="7.30" height="8.39" fill="#ebf3fb" stroke="#ebf3fb" stroke-width="0.25"/>
<rect x="209.10" y="100.66" width="7.30" height="8.39" fill="#eff6fc" stroke="#eff6fc" stroke-width="0.25"/>
<rect x="252.90" y="100.66" width="7.30" height="8.39" fill="#ebf3fb" stroke="#ebf3fb" stroke-width="0.25"/>
<rect x="267.50" y="100.66" width="7.30" height="8.39" fill="#0d57a1" stroke="#0d57a1" stroke-width="0.25"/>
<rect x="187.20" y="109.05" width="7.30" height="8.39" fill="#f1f7fd" stroke="#f1f7fd" stroke-width="0.25"/>
<rect x="194.50" y="109.05" width="7.30" height="8.39" fill="#f1f7fd" stroke="#f1f7fd" stroke-width="0.25"/>
<rect x="201.80" y="109.05" width="7.30" height="8.39" fill="#f1f7fd" stroke="#f1f7fd" stroke-width="0.25"/>
<rect x="209.10" y="109.05" width="7.30" height="8.39" fill="#d9e8f5" stroke="#d9e8f5" stroke-width="0.25"/>
<rect x="223.70" y="109.05" width="7.30" height="8.39" fill="#dfecf7" stroke="#dfecf7" stroke-width="0.25"/>
<rect x="231.00" y="109.05" width="7.30" height="8.39" fill="#dfecf7" stroke="#dfecf7" stroke-width="0.25"/>
<rect x="238.30" y="109.05" width="7.30" height="8.39" fill="#edf5fc" stroke="#edf5fc" stroke-width="0.25"/>
<rect x="245.60" y="109.05" width="7.30" height="8.39" fill="#edf5fc" stroke="#edf5fc" stroke-width="0.25"/>
<rect x="252.90" y="109.05" width="7.30" height="8.39" fill="#e7f1fa" stroke="#e7f1fa" stroke-width="0.25"/>
<rect x="267.50" y="109.05" width="7.30" height="8.39" fill="#f1f7fd" stroke="#f1f7fd" stroke-width="0.25"/>
<rect x="274.80" y="109.05" width="7.30" height="8.39" fill="#d9e8f5" stroke="#d9e8f5" stroke-width="0.25"/>
<rect x="289.40" y="109.05" width="7.30" height="8.39" fill="#edf5fc" stroke="#edf5fc" stroke-width="0.25"/>
<rect x="209.10" y="117.44" width="7.30" height="8.39" fill="#d3e4f3" stroke="#d3e4f3" stroke-width="0.25"/>
<rect x="282.10" y="117.44" width="7.30" height="8.39" fill="#2171b5" stroke="#2171b5" stroke-width="0.25"/>
<rect x="209.10" y="125.82" width="7.30" height="8.39" fill="#eff6fc" stroke="#eff6fc" stroke-width="0.25"/>
<rect x="252.90" y="125.82" width="7.30" height="8.39" fill="#c6dbef" stroke="#c6dbef" stroke-width="0.25"/>
<rect x="267.50" y="125.82" width="7.30" height="8.39" fill="#5ba3d0" stroke="#5ba3d0" stroke-width="0.25"/>
<rect x="289.40" y="125.82" width="7.30" height="8.39" fill="#edf5fc" stroke="#edf5fc" stroke-width="0.25"/>
<rect x="296.70" y="134.21" width="7.30" height="8.39" fill="#083877" stroke="#083877" stroke-width="0.25"/>
<line x1="185.20" y1="12.59" x2="186.60" y2="12.59" stroke="#222" stroke-width="0.5"/>
<text class="s" transform="translate(183.90,14.29)" font-size="4.9" text-anchor="end" fill="#1a1a1a" letter-spacing="0.07">B Intermediate</text>
<line x1="185.20" y1="20.98" x2="186.60" y2="20.98" stroke="#222" stroke-width="0.5"/>
<text class="s" transform="translate(183.90,22.68)" font-size="4.9" text-anchor="end" fill="#1a1a1a" letter-spacing="0.07">B Memory</text>
<line x1="185.20" y1="29.37" x2="186.60" y2="29.37" stroke="#222" stroke-width="0.5"/>
<text class="s" transform="translate(183.90,31.07)" font-size="4.9" text-anchor="end" fill="#1a1a1a" letter-spacing="0.07">B Naive</text>
<line x1="185.20" y1="37.76" x2="186.60" y2="37.76" stroke="#222" stroke-width="0.5"/>
<text class="s" transform="translate(183.90,39.46)" font-size="4.9" text-anchor="end" fill="#1a1a1a" letter-spacing="0.07">CD14 Mono</text>
<line x1="185.20" y1="46.14" x2="186.60" y2="46.14" stroke="#222" stroke-width="0.5"/>
<text class="s" transform="translate(183.90,47.84)" font-size="4.9" text-anchor="end" fill="#1a1a1a" letter-spacing="0.07">CD16 Mono</text>
<line x1="185.20" y1="54.53" x2="186.60" y2="54.53" stroke="#222" stroke-width="0.5"/>
<text class="s" transform="translate(183.90,56.23)" font-size="4.9" text-anchor="end" fill="#1a1a1a" letter-spacing="0.07">CD4 Naive</text>
<line x1="185.20" y1="62.92" x2="186.60" y2="62.92" stroke="#222" stroke-width="0.5"/>
<text class="s" transform="translate(183.90,64.62)" font-size="4.9" text-anchor="end" fill="#1a1a1a" letter-spacing="0.07">CD4 TCM</text>
<line x1="185.20" y1="71.31" x2="186.60" y2="71.31" stroke="#222" stroke-width="0.5"/>
<text class="s" transform="translate(183.90,73.01)" font-size="4.9" text-anchor="end" fill="#1a1a1a" letter-spacing="0.07">CD4 TEM</text>
<line x1="185.20" y1="79.69" x2="186.60" y2="79.69" stroke="#222" stroke-width="0.5"/>
<text class="s" transform="translate(183.90,81.39)" font-size="4.9" text-anchor="end" fill="#1a1a1a" letter-spacing="0.07">CD8 Naive</text>
<line x1="185.20" y1="88.08" x2="186.60" y2="88.08" stroke="#222" stroke-width="0.5"/>
<text class="s" transform="translate(183.90,89.78)" font-size="4.9" text-anchor="end" fill="#1a1a1a" letter-spacing="0.07">CD8 TEM</text>
<line x1="185.20" y1="96.47" x2="186.60" y2="96.47" stroke="#222" stroke-width="0.5"/>
<text class="s" transform="translate(183.90,98.17)" font-size="4.9" text-anchor="end" fill="#1a1a1a" letter-spacing="0.07">MAIT</text>
<line x1="185.20" y1="104.86" x2="186.60" y2="104.86" stroke="#222" stroke-width="0.5"/>
<text class="s" transform="translate(183.90,106.56)" font-size="4.9" text-anchor="end" fill="#1a1a1a" letter-spacing="0.07">NK</text>
<line x1="185.20" y1="113.24" x2="186.60" y2="113.24" stroke="#222" stroke-width="0.5"/>
<text class="s" transform="translate(183.90,114.94)" font-size="4.9" text-anchor="end" fill="#1a1a1a" letter-spacing="0.07">Treg</text>
<line x1="185.20" y1="121.63" x2="186.60" y2="121.63" stroke="#222" stroke-width="0.5"/>
<text class="s" transform="translate(183.90,123.33)" font-size="4.9" text-anchor="end" fill="#1a1a1a" letter-spacing="0.07">cDC</text>
<line x1="185.20" y1="130.02" x2="186.60" y2="130.02" stroke="#222" stroke-width="0.5"/>
<text class="s" transform="translate(183.90,131.72)" font-size="4.9" text-anchor="end" fill="#1a1a1a" letter-spacing="0.07">gdT</text>
<line x1="185.20" y1="138.41" x2="186.60" y2="138.41" stroke="#222" stroke-width="0.5"/>
<text class="s" transform="translate(183.90,140.11)" font-size="4.9" text-anchor="end" fill="#1a1a1a" letter-spacing="0.07">pDC</text>
<line x1="190.85" y1="143.20" x2="190.85" y2="144.60" stroke="#222" stroke-width="0.5"/>
<text class="s" transform="translate(192.60,145.90) rotate(-90)" font-size="4.9" text-anchor="end" fill="#1a1a1a" letter-spacing="0.07">B Intermediate</text>
<line x1="198.15" y1="143.20" x2="198.15" y2="144.60" stroke="#222" stroke-width="0.5"/>
<text class="s" transform="translate(199.90,145.90) rotate(-90)" font-size="4.9" text-anchor="end" fill="#1a1a1a" letter-spacing="0.07">B Memory</text>
<line x1="205.45" y1="143.20" x2="205.45" y2="144.60" stroke="#222" stroke-width="0.5"/>
<text class="s" transform="translate(207.20,145.90) rotate(-90)" font-size="4.9" text-anchor="end" fill="#1a1a1a" letter-spacing="0.07">B Naive</text>
<line x1="212.75" y1="143.20" x2="212.75" y2="144.60" stroke="#222" stroke-width="0.5"/>
<text class="s" transform="translate(214.50,145.90) rotate(-90)" font-size="4.9" text-anchor="end" fill="#1a1a1a" letter-spacing="0.07">CD14 Mono</text>
<line x1="220.05" y1="143.20" x2="220.05" y2="144.60" stroke="#222" stroke-width="0.5"/>
<text class="s" transform="translate(221.80,145.90) rotate(-90)" font-size="4.9" text-anchor="end" fill="#1a1a1a" letter-spacing="0.07">CD16 Mono</text>
<line x1="227.35" y1="143.20" x2="227.35" y2="144.60" stroke="#222" stroke-width="0.5"/>
<text class="s" transform="translate(229.10,145.90) rotate(-90)" font-size="4.9" text-anchor="end" fill="#1a1a1a" letter-spacing="0.07">CD4 Naive</text>
<line x1="234.65" y1="143.20" x2="234.65" y2="144.60" stroke="#222" stroke-width="0.5"/>
<text class="s" transform="translate(236.40,145.90) rotate(-90)" font-size="4.9" text-anchor="end" fill="#1a1a1a" letter-spacing="0.07">CD4 TCM</text>
<line x1="241.95" y1="143.20" x2="241.95" y2="144.60" stroke="#222" stroke-width="0.5"/>
<text class="s" transform="translate(243.70,145.90) rotate(-90)" font-size="4.9" text-anchor="end" fill="#1a1a1a" letter-spacing="0.07">CD4 TEM</text>
<line x1="249.25" y1="143.20" x2="249.25" y2="144.60" stroke="#222" stroke-width="0.5"/>
<text class="s" transform="translate(251.00,145.90) rotate(-90)" font-size="4.9" text-anchor="end" fill="#1a1a1a" letter-spacing="0.07">CD8 Naive</text>
<line x1="256.55" y1="143.20" x2="256.55" y2="144.60" stroke="#222" stroke-width="0.5"/>
<text class="s" transform="translate(258.30,145.90) rotate(-90)" font-size="4.9" text-anchor="end" fill="#1a1a1a" letter-spacing="0.07">CD8 TEM</text>
<line x1="263.85" y1="143.20" x2="263.85" y2="144.60" stroke="#222" stroke-width="0.5"/>
<text class="s" transform="translate(265.60,145.90) rotate(-90)" font-size="4.9" text-anchor="end" fill="#1a1a1a" letter-spacing="0.07">MAIT</text>
<line x1="271.15" y1="143.20" x2="271.15" y2="144.60" stroke="#222" stroke-width="0.5"/>
<text class="s" transform="translate(272.90,145.90) rotate(-90)" font-size="4.9" text-anchor="end" fill="#1a1a1a" letter-spacing="0.07">NK</text>
<line x1="278.45" y1="143.20" x2="278.45" y2="144.60" stroke="#222" stroke-width="0.5"/>
<text class="s" transform="translate(280.20,145.90) rotate(-90)" font-size="4.9" text-anchor="end" fill="#1a1a1a" letter-spacing="0.07">Treg</text>
<line x1="285.75" y1="143.20" x2="285.75" y2="144.60" stroke="#222" stroke-width="0.5"/>
<text class="s" transform="translate(287.50,145.90) rotate(-90)" font-size="4.9" text-anchor="end" fill="#1a1a1a" letter-spacing="0.07">cDC</text>
<line x1="293.05" y1="143.20" x2="293.05" y2="144.60" stroke="#222" stroke-width="0.5"/>
<text class="s" transform="translate(294.80,145.90) rotate(-90)" font-size="4.9" text-anchor="end" fill="#1a1a1a" letter-spacing="0.07">gdT</text>
<line x1="300.35" y1="143.20" x2="300.35" y2="144.60" stroke="#222" stroke-width="0.5"/>
<text class="s" transform="translate(302.10,145.90) rotate(-90)" font-size="4.9" text-anchor="end" fill="#1a1a1a" letter-spacing="0.07">pDC</text>
<rect x="365.00" y="8.40" width="116.80" height="134.20" fill="#f4fbf2"/>
<rect x="365.00" y="8.40" width="7.30" height="8.39" fill="#98d594" stroke="#98d594" stroke-width="0.25"/>
<rect x="372.30" y="8.40" width="7.30" height="8.39" fill="#b8e3b1" stroke="#b8e3b1" stroke-width="0.25"/>
<rect x="379.60" y="8.40" width="7.30" height="8.39" fill="#dff3da" stroke="#dff3da" stroke-width="0.25"/>
<rect x="386.90" y="8.40" width="7.30" height="8.39" fill="#f1faee" stroke="#f1faee" stroke-width="0.25"/>
<rect x="365.00" y="16.79" width="7.30" height="8.39" fill="#edf8e9" stroke="#edf8e9" stroke-width="0.25"/>
<rect x="372.30" y="16.79" width="7.30" height="8.39" fill="#f1faee" stroke="#f1faee" stroke-width="0.25"/>
<rect x="379.60" y="16.79" width="7.30" height="8.39" fill="#157f3b" stroke="#157f3b" stroke-width="0.25"/>
<rect x="386.90" y="16.79" width="7.30" height="8.39" fill="#f3faf0" stroke="#f3faf0" stroke-width="0.25"/>
<rect x="365.00" y="25.17" width="7.30" height="8.39" fill="#edf8e9" stroke="#edf8e9" stroke-width="0.25"/>
<rect x="372.30" y="25.17" width="7.30" height="8.39" fill="#157f3b" stroke="#157f3b" stroke-width="0.25"/>
<rect x="379.60" y="25.17" width="7.30" height="8.39" fill="#eef9eb" stroke="#eef9eb" stroke-width="0.25"/>
<rect x="386.90" y="25.17" width="7.30" height="8.39" fill="#f3faf0" stroke="#f3faf0" stroke-width="0.25"/>
<rect x="386.90" y="33.56" width="7.30" height="8.39" fill="#004e1f" stroke="#004e1f" stroke-width="0.25"/>
<rect x="386.90" y="41.95" width="7.30" height="8.39" fill="#c7e9c0" stroke="#c7e9c0" stroke-width="0.25"/>
<rect x="394.20" y="41.95" width="7.30" height="8.39" fill="#157f3b" stroke="#157f3b" stroke-width="0.25"/>
<rect x="386.90" y="50.34" width="7.30" height="8.39" fill="#f0f9ed" stroke="#f0f9ed" stroke-width="0.25"/>
<rect x="401.50" y="50.34" width="7.30" height="8.39" fill="#74c476" stroke="#74c476" stroke-width="0.25"/>
<rect x="408.80" y="50.34" width="7.30" height="8.39" fill="#e9f6e4" stroke="#e9f6e4" stroke-width="0.25"/>
<rect x="416.10" y="50.34" width="7.30" height="8.39" fill="#f1faee" stroke="#f1faee" stroke-width="0.25"/>
<rect x="423.40" y="50.34" width="7.30" height="8.39" fill="#edf8e9" stroke="#edf8e9" stroke-width="0.25"/>
<rect x="430.70" y="50.34" width="7.30" height="8.39" fill="#edf8e9" stroke="#edf8e9" stroke-width="0.25"/>
<rect x="445.30" y="50.34" width="7.30" height="8.39" fill="#f1faee" stroke="#f1faee" stroke-width="0.25"/>
<rect x="467.20" y="50.34" width="7.30" height="8.39" fill="#f3faf0" stroke="#f3faf0" stroke-width="0.25"/>
<rect x="386.90" y="58.72" width="7.30" height="8.39" fill="#f0f9ed" stroke="#f0f9ed" stroke-width="0.25"/>
<rect x="401.50" y="58.72" width="7.30" height="8.39" fill="#e9f6e4" stroke="#e9f6e4" stroke-width="0.25"/>
<rect x="408.80" y="58.72" width="7.30" height="8.39" fill="#86cc85" stroke="#86cc85" stroke-width="0.25"/>
<rect x="416.10" y="58.72" width="7.30" height="8.39" fill="#ebf8e8" stroke="#ebf8e8" stroke-width="0.25"/>
<rect x="423.40" y="58.72" width="7.30" height="8.39" fill="#f1faee" stroke="#f1faee" stroke-width="0.25"/>
<rect x="430.70" y="58.72" width="7.30" height="8.39" fill="#e6f5e1" stroke="#e6f5e1" stroke-width="0.25"/>
<rect x="445.30" y="58.72" width="7.30" height="8.39" fill="#f1faee" stroke="#f1faee" stroke-width="0.25"/>
<rect x="467.20" y="58.72" width="7.30" height="8.39" fill="#f3faf0" stroke="#f3faf0" stroke-width="0.25"/>
<rect x="386.90" y="67.11" width="7.30" height="8.39" fill="#f0f9ed" stroke="#f0f9ed" stroke-width="0.25"/>
<rect x="401.50" y="67.11" width="7.30" height="8.39" fill="#eef9eb" stroke="#eef9eb" stroke-width="0.25"/>
<rect x="408.80" y="67.11" width="7.30" height="8.39" fill="#86cc85" stroke="#86cc85" stroke-width="0.25"/>
<rect x="416.10" y="67.11" width="7.30" height="8.39" fill="#d3eecd" stroke="#d3eecd" stroke-width="0.25"/>
<rect x="423.40" y="67.11" width="7.30" height="8.39" fill="#f3faf0" stroke="#f3faf0" stroke-width="0.25"/>
<rect x="430.70" y="67.11" width="7.30" height="8.39" fill="#edf8e9" stroke="#edf8e9" stroke-width="0.25"/>
<rect x="438.00" y="67.11" width="7.30" height="8.39" fill="#f1faee" stroke="#f1faee" stroke-width="0.25"/>
<rect x="445.30" y="67.11" width="7.30" height="8.39" fill="#f1faee" stroke="#f1faee" stroke-width="0.25"/>
<rect x="386.90" y="75.50" width="7.30" height="8.39" fill="#f1faee" stroke="#f1faee" stroke-width="0.25"/>
<rect x="401.50" y="75.50" width="7.30" height="8.39" fill="#d3eecd" stroke="#d3eecd" stroke-width="0.25"/>
<rect x="408.80" y="75.50" width="7.30" height="8.39" fill="#f1faee" stroke="#f1faee" stroke-width="0.25"/>
<rect x="423.40" y="75.50" width="7.30" height="8.39" fill="#86cc85" stroke="#86cc85" stroke-width="0.25"/>
<rect x="430.70" y="75.50" width="7.30" height="8.39" fill="#edf8e9" stroke="#edf8e9" stroke-width="0.25"/>
<rect x="445.30" y="75.50" width="7.30" height="8.39" fill="#f1faee" stroke="#f1faee" stroke-width="0.25"/>
<rect x="467.20" y="75.50" width="7.30" height="8.39" fill="#f0f9ed" stroke="#f0f9ed" stroke-width="0.25"/>
<rect x="386.90" y="83.89" width="7.30" height="8.39" fill="#f3faf0" stroke="#f3faf0" stroke-width="0.25"/>
<rect x="430.70" y="83.89" width="7.30" height="8.39" fill="#238b45" stroke="#238b45" stroke-width="0.25"/>
<rect x="445.30" y="83.89" width="7.30" height="8.39" fill="#e6f5e1" stroke="#e6f5e1" stroke-width="0.25"/>
<rect x="467.20" y="83.89" width="7.30" height="8.39" fill="#f1faee" stroke="#f1faee" stroke-width="0.25"/>
<rect x="408.80" y="92.28" width="7.30" height="8.39" fill="#f1faee" stroke="#f1faee" stroke-width="0.25"/>
<rect x="416.10" y="92.28" width="7.30" height="8.39" fill="#edf8e9" stroke="#edf8e9" stroke-width="0.25"/>
<rect x="430.70" y="92.28" width="7.30" height="8.39" fill="#dff3da" stroke="#dff3da" stroke-width="0.25"/>
<rect x="438.00" y="92.28" width="7.30" height="8.39" fill="#86cc85" stroke="#86cc85" stroke-width="0.25"/>
<rect x="445.30" y="92.28" width="7.30" height="8.39" fill="#dff3da" stroke="#dff3da" stroke-width="0.25"/>
<rect x="467.20" y="92.28" width="7.30" height="8.39" fill="#ebf8e8" stroke="#ebf8e8" stroke-width="0.25"/>
<rect x="386.90" y="100.66" width="7.30" height="8.39" fill="#f1faee" stroke="#f1faee" stroke-width="0.25"/>
<rect x="430.70" y="100.66" width="7.30" height="8.39" fill="#f0f9ed" stroke="#f0f9ed" stroke-width="0.25"/>
<rect x="445.30" y="100.66" width="7.30" height="8.39" fill="#006529" stroke="#006529" stroke-width="0.25"/>
<rect x="386.90" y="109.05" width="7.30" height="8.39" fill="#e6f5e1" stroke="#e6f5e1" stroke-width="0.25"/>
<rect x="401.50" y="109.05" width="7.30" height="8.39" fill="#e6f5e1" stroke="#e6f5e1" stroke-width="0.25"/>
<rect x="408.80" y="109.05" width="7.30" height="8.39" fill="#e6f5e1" stroke="#e6f5e1" stroke-width="0.25"/>
<rect x="416.10" y="109.05" width="7.30" height="8.39" fill="#f0f9ed" stroke="#f0f9ed" stroke-width="0.25"/>
<rect x="423.40" y="109.05" width="7.30" height="8.39" fill="#f0f9ed" stroke="#f0f9ed" stroke-width="0.25"/>
<rect x="430.70" y="109.05" width="7.30" height="8.39" fill="#edf8e9" stroke="#edf8e9" stroke-width="0.25"/>
<rect x="452.60" y="109.05" width="7.30" height="8.39" fill="#dff3da" stroke="#dff3da" stroke-width="0.25"/>
<rect x="467.20" y="109.05" width="7.30" height="8.39" fill="#f0f9ed" stroke="#f0f9ed" stroke-width="0.25"/>
<rect x="386.90" y="117.44" width="7.30" height="8.39" fill="#d8f0d2" stroke="#d8f0d2" stroke-width="0.25"/>
<rect x="459.90" y="117.44" width="7.30" height="8.39" fill="#1b843f" stroke="#1b843f" stroke-width="0.25"/>
<rect x="386.90" y="125.82" width="7.30" height="8.39" fill="#f1faee" stroke="#f1faee" stroke-width="0.25"/>
<rect x="430.70" y="125.82" width="7.30" height="8.39" fill="#c7e9c0" stroke="#c7e9c0" stroke-width="0.25"/>
<rect x="445.30" y="125.82" width="7.30" height="8.39" fill="#4bb062" stroke="#4bb062" stroke-width="0.25"/>
<rect x="467.20" y="125.82" width="7.30" height="8.39" fill="#f0f9ed" stroke="#f0f9ed" stroke-width="0.25"/>
<rect x="459.90" y="134.21" width="7.30" height="8.39" fill="#f0f9ed" stroke="#f0f9ed" stroke-width="0.25"/>
<rect x="474.50" y="134.21" width="7.30" height="8.39" fill="#006529" stroke="#006529" stroke-width="0.25"/>
<line x1="363.00" y1="12.59" x2="364.40" y2="12.59" stroke="#222" stroke-width="0.5"/>
<text class="s" transform="translate(361.70,14.29)" font-size="4.9" text-anchor="end" fill="#1a1a1a" letter-spacing="0.07">B Intermediate</text>
<line x1="363.00" y1="20.98" x2="364.40" y2="20.98" stroke="#222" stroke-width="0.5"/>
<text class="s" transform="translate(361.70,22.68)" font-size="4.9" text-anchor="end" fill="#1a1a1a" letter-spacing="0.07">B Memory</text>
<line x1="363.00" y1="29.37" x2="364.40" y2="29.37" stroke="#222" stroke-width="0.5"/>
<text class="s" transform="translate(361.70,31.07)" font-size="4.9" text-anchor="end" fill="#1a1a1a" letter-spacing="0.07">B Naive</text>
<line x1="363.00" y1="37.76" x2="364.40" y2="37.76" stroke="#222" stroke-width="0.5"/>
<text class="s" transform="translate(361.70,39.46)" font-size="4.9" text-anchor="end" fill="#1a1a1a" letter-spacing="0.07">CD14 Mono</text>
<line x1="363.00" y1="46.14" x2="364.40" y2="46.14" stroke="#222" stroke-width="0.5"/>
<text class="s" transform="translate(361.70,47.84)" font-size="4.9" text-anchor="end" fill="#1a1a1a" letter-spacing="0.07">CD16 Mono</text>
<line x1="363.00" y1="54.53" x2="364.40" y2="54.53" stroke="#222" stroke-width="0.5"/>
<text class="s" transform="translate(361.70,56.23)" font-size="4.9" text-anchor="end" fill="#1a1a1a" letter-spacing="0.07">CD4 Naive</text>
<line x1="363.00" y1="62.92" x2="364.40" y2="62.92" stroke="#222" stroke-width="0.5"/>
<text class="s" transform="translate(361.70,64.62)" font-size="4.9" text-anchor="end" fill="#1a1a1a" letter-spacing="0.07">CD4 TCM</text>
<line x1="363.00" y1="71.31" x2="364.40" y2="71.31" stroke="#222" stroke-width="0.5"/>
<text class="s" transform="translate(361.70,73.01)" font-size="4.9" text-anchor="end" fill="#1a1a1a" letter-spacing="0.07">CD4 TEM</text>
<line x1="363.00" y1="79.69" x2="364.40" y2="79.69" stroke="#222" stroke-width="0.5"/>
<text class="s" transform="translate(361.70,81.39)" font-size="4.9" text-anchor="end" fill="#1a1a1a" letter-spacing="0.07">CD8 Naive</text>
<line x1="363.00" y1="88.08" x2="364.40" y2="88.08" stroke="#222" stroke-width="0.5"/>
<text class="s" transform="translate(361.70,89.78)" font-size="4.9" text-anchor="end" fill="#1a1a1a" letter-spacing="0.07">CD8 TEM</text>
<line x1="363.00" y1="96.47" x2="364.40" y2="96.47" stroke="#222" stroke-width="0.5"/>
<text class="s" transform="translate(361.70,98.17)" font-size="4.9" text-anchor="end" fill="#1a1a1a" letter-spacing="0.07">MAIT</text>
<line x1="363.00" y1="104.86" x2="364.40" y2="104.86" stroke="#222" stroke-width="0.5"/>
<text class="s" transform="translate(361.70,106.56)" font-size="4.9" text-anchor="end" fill="#1a1a1a" letter-spacing="0.07">NK</text>
<line x1="363.00" y1="113.24" x2="364.40" y2="113.24" stroke="#222" stroke-width="0.5"/>
<text class="s" transform="translate(361.70,114.94)" font-size="4.9" text-anchor="end" fill="#1a1a1a" letter-spacing="0.07">Treg</text>
<line x1="363.00" y1="121.63" x2="364.40" y2="121.63" stroke="#222" stroke-width="0.5"/>
<text class="s" transform="translate(361.70,123.33)" font-size="4.9" text-anchor="end" fill="#1a1a1a" letter-spacing="0.07">cDC</text>
<line x1="363.00" y1="130.02" x2="364.40" y2="130.02" stroke="#222" stroke-width="0.5"/>
<text class="s" transform="translate(361.70,131.72)" font-size="4.9" text-anchor="end" fill="#1a1a1a" letter-spacing="0.07">gdT</text>
<line x1="363.00" y1="138.41" x2="364.40" y2="138.41" stroke="#222" stroke-width="0.5"/>
<text class="s" transform="translate(361.70,140.11)" font-size="4.9" text-anchor="end" fill="#1a1a1a" letter-spacing="0.07">pDC</text>
<line x1="368.65" y1="143.20" x2="368.65" y2="144.60" stroke="#222" stroke-width="0.5"/>
<text class="s" transform="translate(370.40,145.90) rotate(-90)" font-size="4.9" text-anchor="end" fill="#1a1a1a" letter-spacing="0.07">B Intermediate</text>
<line x1="375.95" y1="143.20" x2="375.95" y2="144.60" stroke="#222" stroke-width="0.5"/>
<text class="s" transform="translate(377.70,145.90) rotate(-90)" font-size="4.9" text-anchor="end" fill="#1a1a1a" letter-spacing="0.07">B Memory</text>
<line x1="383.25" y1="143.20" x2="383.25" y2="144.60" stroke="#222" stroke-width="0.5"/>
<text class="s" transform="translate(385.00,145.90) rotate(-90)" font-size="4.9" text-anchor="end" fill="#1a1a1a" letter-spacing="0.07">B Naive</text>
<line x1="390.55" y1="143.20" x2="390.55" y2="144.60" stroke="#222" stroke-width="0.5"/>
<text class="s" transform="translate(392.30,145.90) rotate(-90)" font-size="4.9" text-anchor="end" fill="#1a1a1a" letter-spacing="0.07">CD14 Mono</text>
<line x1="397.85" y1="143.20" x2="397.85" y2="144.60" stroke="#222" stroke-width="0.5"/>
<text class="s" transform="translate(399.60,145.90) rotate(-90)" font-size="4.9" text-anchor="end" fill="#1a1a1a" letter-spacing="0.07">CD16 Mono</text>
<line x1="405.15" y1="143.20" x2="405.15" y2="144.60" stroke="#222" stroke-width="0.5"/>
<text class="s" transform="translate(406.90,145.90) rotate(-90)" font-size="4.9" text-anchor="end" fill="#1a1a1a" letter-spacing="0.07">CD4 Naive</text>
<line x1="412.45" y1="143.20" x2="412.45" y2="144.60" stroke="#222" stroke-width="0.5"/>
<text class="s" transform="translate(414.20,145.90) rotate(-90)" font-size="4.9" text-anchor="end" fill="#1a1a1a" letter-spacing="0.07">CD4 TCM</text>
<line x1="419.75" y1="143.20" x2="419.75" y2="144.60" stroke="#222" stroke-width="0.5"/>
<text class="s" transform="translate(421.50,145.90) rotate(-90)" font-size="4.9" text-anchor="end" fill="#1a1a1a" letter-spacing="0.07">CD4 TEM</text>
<line x1="427.05" y1="143.20" x2="427.05" y2="144.60" stroke="#222" stroke-width="0.5"/>
<text class="s" transform="translate(428.80,145.90) rotate(-90)" font-size="4.9" text-anchor="end" fill="#1a1a1a" letter-spacing="0.07">CD8 Naive</text>
<line x1="434.35" y1="143.20" x2="434.35" y2="144.60" stroke="#222" stroke-width="0.5"/>
<text class="s" transform="translate(436.10,145.90) rotate(-90)" font-size="4.9" text-anchor="end" fill="#1a1a1a" letter-spacing="0.07">CD8 TEM</text>
<line x1="441.65" y1="143.20" x2="441.65" y2="144.60" stroke="#222" stroke-width="0.5"/>
<text class="s" transform="translate(443.40,145.90) rotate(-90)" font-size="4.9" text-anchor="end" fill="#1a1a1a" letter-spacing="0.07">MAIT</text>
<line x1="448.95" y1="143.20" x2="448.95" y2="144.60" stroke="#222" stroke-width="0.5"/>
<text class="s" transform="translate(450.70,145.90) rotate(-90)" font-size="4.9" text-anchor="end" fill="#1a1a1a" letter-spacing="0.07">NK</text>
<line x1="456.25" y1="143.20" x2="456.25" y2="144.60" stroke="#222" stroke-width="0.5"/>
<text class="s" transform="translate(458.00,145.90) rotate(-90)" font-size="4.9" text-anchor="end" fill="#1a1a1a" letter-spacing="0.07">Treg</text>
<line x1="463.55" y1="143.20" x2="463.55" y2="144.60" stroke="#222" stroke-width="0.5"/>
<text class="s" transform="translate(465.30,145.90) rotate(-90)" font-size="4.9" text-anchor="end" fill="#1a1a1a" letter-spacing="0.07">cDC</text>
<line x1="470.85" y1="143.20" x2="470.85" y2="144.60" stroke="#222" stroke-width="0.5"/>
<text class="s" transform="translate(472.60,145.90) rotate(-90)" font-size="4.9" text-anchor="end" fill="#1a1a1a" letter-spacing="0.07">gdT</text>
<line x1="478.15" y1="143.20" x2="478.15" y2="144.60" stroke="#222" stroke-width="0.5"/>
<text class="s" transform="translate(479.90,145.90) rotate(-90)" font-size="4.9" text-anchor="end" fill="#1a1a1a" letter-spacing="0.07">pDC</text>
<rect x="542.60" y="8.40" width="116.80" height="134.20" fill="#fff0e9"/>
<rect x="542.60" y="8.40" width="7.30" height="8.39" fill="#f6573e" stroke="#f6573e" stroke-width="0.25"/>
<rect x="549.90" y="8.40" width="7.30" height="8.39" fill="#fc9a7b" stroke="#fc9a7b" stroke-width="0.25"/>
<rect x="557.20" y="8.40" width="7.30" height="8.39" fill="#fee4d8" stroke="#fee4d8" stroke-width="0.25"/>
<rect x="637.50" y="8.40" width="7.30" height="8.39" fill="#ffeee6" stroke="#ffeee6" stroke-width="0.25"/>
<rect x="542.60" y="16.79" width="7.30" height="8.39" fill="#ffede4" stroke="#ffede4" stroke-width="0.25"/>
<rect x="557.20" y="16.79" width="7.30" height="8.39" fill="#990c13" stroke="#990c13" stroke-width="0.25"/>
<rect x="637.50" y="16.79" width="7.30" height="8.39" fill="#ffebe2" stroke="#ffebe2" stroke-width="0.25"/>
<rect x="542.60" y="25.17" width="7.30" height="8.39" fill="#fed9c8" stroke="#fed9c8" stroke-width="0.25"/>
<rect x="549.90" y="25.17" width="7.30" height="8.39" fill="#bc141a" stroke="#bc141a" stroke-width="0.25"/>
<rect x="564.50" y="33.56" width="7.30" height="8.39" fill="#8f0a12" stroke="#8f0a12" stroke-width="0.25"/>
<rect x="637.50" y="33.56" width="7.30" height="8.39" fill="#ffeee6" stroke="#ffeee6" stroke-width="0.25"/>
<rect x="564.50" y="41.95" width="7.30" height="8.39" fill="#fed9c8" stroke="#fed9c8" stroke-width="0.25"/>
<rect x="571.80" y="41.95" width="7.30" height="8.39" fill="#bc141a" stroke="#bc141a" stroke-width="0.25"/>
<rect x="579.10" y="50.34" width="7.30" height="8.39" fill="#bc141a" stroke="#bc141a" stroke-width="0.25"/>
<rect x="586.40" y="50.34" width="7.30" height="8.39" fill="#fee4d8" stroke="#fee4d8" stroke-width="0.25"/>
<rect x="586.40" y="58.72" width="7.30" height="8.39" fill="#cb181d" stroke="#cb181d" stroke-width="0.25"/>
<rect x="593.70" y="58.72" width="7.30" height="8.39" fill="#fdcab5" stroke="#fdcab5" stroke-width="0.25"/>
<rect x="644.80" y="58.72" width="7.30" height="8.39" fill="#ffeee6" stroke="#ffeee6" stroke-width="0.25"/>
<rect x="586.40" y="67.11" width="7.30" height="8.39" fill="#fb6a4a" stroke="#fb6a4a" stroke-width="0.25"/>
<rect x="593.70" y="67.11" width="7.30" height="8.39" fill="#fb6a4a" stroke="#fb6a4a" stroke-width="0.25"/>
<rect x="615.60" y="67.11" width="7.30" height="8.39" fill="#fee8dd" stroke="#fee8dd" stroke-width="0.25"/>
<rect x="579.10" y="75.50" width="7.30" height="8.39" fill="#fee8dd" stroke="#fee8dd" stroke-width="0.25"/>
<rect x="601.00" y="75.50" width="7.30" height="8.39" fill="#b61319" stroke="#b61319" stroke-width="0.25"/>
<rect x="644.80" y="75.50" width="7.30" height="8.39" fill="#fee8dd" stroke="#fee8dd" stroke-width="0.25"/>
<rect x="593.70" y="83.89" width="7.30" height="8.39" fill="#ffeee6" stroke="#ffeee6" stroke-width="0.25"/>
<rect x="608.30" y="83.89" width="7.30" height="8.39" fill="#a30e15" stroke="#a30e15" stroke-width="0.25"/>
<rect x="644.80" y="83.89" width="7.30" height="8.39" fill="#ffebe2" stroke="#ffebe2" stroke-width="0.25"/>
<rect x="593.70" y="92.28" width="7.30" height="8.39" fill="#fee4d8" stroke="#fee4d8" stroke-width="0.25"/>
<rect x="608.30" y="92.28" width="7.30" height="8.39" fill="#fcab8e" stroke="#fcab8e" stroke-width="0.25"/>
<rect x="615.60" y="92.28" width="7.30" height="8.39" fill="#f96245" stroke="#f96245" stroke-width="0.25"/>
<rect x="622.90" y="92.28" width="7.30" height="8.39" fill="#ffeee6" stroke="#ffeee6" stroke-width="0.25"/>
<rect x="644.80" y="92.28" width="7.30" height="8.39" fill="#fdcab5" stroke="#fdcab5" stroke-width="0.25"/>
<rect x="622.90" y="100.66" width="7.30" height="8.39" fill="#71020e" stroke="#71020e" stroke-width="0.25"/>
<rect x="579.10" y="109.05" width="7.30" height="8.39" fill="#fee4d8" stroke="#fee4d8" stroke-width="0.25"/>
<rect x="586.40" y="109.05" width="7.30" height="8.39" fill="#fb6a4a" stroke="#fb6a4a" stroke-width="0.25"/>
<rect x="593.70" y="109.05" width="7.30" height="8.39" fill="#ffeee6" stroke="#ffeee6" stroke-width="0.25"/>
<rect x="601.00" y="109.05" width="7.30" height="8.39" fill="#ffeee6" stroke="#ffeee6" stroke-width="0.25"/>
<rect x="630.20" y="109.05" width="7.30" height="8.39" fill="#ffebe2" stroke="#ffebe2" stroke-width="0.25"/>
<rect x="652.10" y="109.05" width="7.30" height="8.39" fill="#fc9a7b" stroke="#fc9a7b" stroke-width="0.25"/>
<rect x="564.50" y="117.44" width="7.30" height="8.39" fill="#fcab8e" stroke="#fcab8e" stroke-width="0.25"/>
<rect x="637.50" y="117.44" width="7.30" height="8.39" fill="#cb181d" stroke="#cb181d" stroke-width="0.25"/>
<rect x="608.30" y="125.82" width="7.30" height="8.39" fill="#fcab8e" stroke="#fcab8e" stroke-width="0.25"/>
<rect x="622.90" y="125.82" width="7.30" height="8.39" fill="#d92623" stroke="#d92623" stroke-width="0.25"/>
<rect x="644.80" y="125.82" width="7.30" height="8.39" fill="#ffebe2" stroke="#ffebe2" stroke-width="0.25"/>
<rect x="637.50" y="134.21" width="7.30" height="8.39" fill="#fdcab5" stroke="#fdcab5" stroke-width="0.25"/>
<rect x="652.10" y="134.21" width="7.30" height="8.39" fill="#bc141a" stroke="#bc141a" stroke-width="0.25"/>
<line x1="540.60" y1="12.59" x2="542.00" y2="12.59" stroke="#222" stroke-width="0.5"/>
<text class="s" transform="translate(539.30,14.29)" font-size="4.9" text-anchor="end" fill="#1a1a1a" letter-spacing="0.07">B Intermediate</text>
<line x1="540.60" y1="20.98" x2="542.00" y2="20.98" stroke="#222" stroke-width="0.5"/>
<text class="s" transform="translate(539.30,22.68)" font-size="4.9" text-anchor="end" fill="#1a1a1a" letter-spacing="0.07">B Memory</text>
<line x1="540.60" y1="29.37" x2="542.00" y2="29.37" stroke="#222" stroke-width="0.5"/>
<text class="s" transform="translate(539.30,31.07)" font-size="4.9" text-anchor="end" fill="#1a1a1a" letter-spacing="0.07">B Naive</text>
<line x1="540.60" y1="37.76" x2="542.00" y2="37.76" stroke="#222" stroke-width="0.5"/>
<text class="s" transform="translate(539.30,39.46)" font-size="4.9" text-anchor="end" fill="#1a1a1a" letter-spacing="0.07">CD14 Mono</text>
<line x1="540.60" y1="46.14" x2="542.00" y2="46.14" stroke="#222" stroke-width="0.5"/>
<text class="s" transform="translate(539.30,47.84)" font-size="4.9" text-anchor="end" fill="#1a1a1a" letter-spacing="0.07">CD16 Mono</text>
<line x1="540.60" y1="54.53" x2="542.00" y2="54.53" stroke="#222" stroke-width="0.5"/>
<text class="s" transform="translate(539.30,56.23)" font-size="4.9" text-anchor="end" fill="#1a1a1a" letter-spacing="0.07">CD4 Naive</text>
<line x1="540.60" y1="62.92" x2="542.00" y2="62.92" stroke="#222" stroke-width="0.5"/>
<text class="s" transform="translate(539.30,64.62)" font-size="4.9" text-anchor="end" fill="#1a1a1a" letter-spacing="0.07">CD4 TCM</text>
<line x1="540.60" y1="71.31" x2="542.00" y2="71.31" stroke="#222" stroke-width="0.5"/>
<text class="s" transform="translate(539.30,73.01)" font-size="4.9" text-anchor="end" fill="#1a1a1a" letter-spacing="0.07">CD4 TEM</text>
<line x1="540.60" y1="79.69" x2="542.00" y2="79.69" stroke="#222" stroke-width="0.5"/>
<text class="s" transform="translate(539.30,81.39)" font-size="4.9" text-anchor="end" fill="#1a1a1a" letter-spacing="0.07">CD8 Naive</text>
<line x1="540.60" y1="88.08" x2="542.00" y2="88.08" stroke="#222" stroke-width="0.5"/>
<text class="s" transform="translate(539.30,89.78)" font-size="4.9" text-anchor="end" fill="#1a1a1a" letter-spacing="0.07">CD8 TEM</text>
<line x1="540.60" y1="96.47" x2="542.00" y2="96.47" stroke="#222" stroke-width="0.5"/>
<text class="s" transform="translate(539.30,98.17)" font-size="4.9" text-anchor="end" fill="#1a1a1a" letter-spacing="0.07">MAIT</text>
<line x1="540.60" y1="104.86" x2="542.00" y2="104.86" stroke="#222" stroke-width="0.5"/>
<text class="s" transform="translate(539.30,106.56)" font-size="4.9" text-anchor="end" fill="#1a1a1a" letter-spacing="0.07">NK</text>
<line x1="540.60" y1="113.24" x2="542.00" y2="113.24" stroke="#222" stroke-width="0.5"/>
<text class="s" transform="translate(539.30,114.94)" font-size="4.9" text-anchor="end" fill="#1a1a1a" letter-spacing="0.07">Treg</text>
<line x1="540.60" y1="121.63" x2="542.00" y2="121.63" stroke="#222" stroke-width="0.5"/>
<text class="s" transform="translate(539.30,123.33)" font-size="4.9" text-anchor="end" fill="#1a1a1a" letter-spacing="0.07">cDC</text>
<line x1="540.60" y1="130.02" x2="542.00" y2="130.02" stroke="#222" stroke-width="0.5"/>
<text class="s" transform="translate(539.30,131.72)" font-size="4.9" text-anchor="end" fill="#1a1a1a" letter-spacing="0.07">gdT</text>
<line x1="540.60" y1="138.41" x2="542.00" y2="138.41" stroke="#222" stroke-width="0.5"/>
<text class="s" transform="translate(539.30,140.11)" font-size="4.9" text-anchor="end" fill="#1a1a1a" letter-spacing="0.07">pDC</text>
<line x1="546.25" y1="143.20" x2="546.25" y2="144.60" stroke="#222" stroke-width="0.5"/>
<text class="s" transform="translate(548.00,145.90) rotate(-90)" font-size="4.9" text-anchor="end" fill="#1a1a1a" letter-spacing="0.07">B Intermediate</text>
<line x1="553.55" y1="143.20" x2="553.55" y2="144.60" stroke="#222" stroke-width="0.5"/>
<text class="s" transform="translate(555.30,145.90) rotate(-90)" font-size="4.9" text-anchor="end" fill="#1a1a1a" letter-spacing="0.07">B Memory</text>
<line x1="560.85" y1="143.20" x2="560.85" y2="144.60" stroke="#222" stroke-width="0.5"/>
<text class="s" transform="translate(562.60,145.90) rotate(-90)" font-size="4.9" text-anchor="end" fill="#1a1a1a" letter-spacing="0.07">B Naive</text>
<line x1="568.15" y1="143.20" x2="568.15" y2="144.60" stroke="#222" stroke-width="0.5"/>
<text class="s" transform="translate(569.90,145.90) rotate(-90)" font-size="4.9" text-anchor="end" fill="#1a1a1a" letter-spacing="0.07">CD14 Mono</text>
<line x1="575.45" y1="143.20" x2="575.45" y2="144.60" stroke="#222" stroke-width="0.5"/>
<text class="s" transform="translate(577.20,145.90) rotate(-90)" font-size="4.9" text-anchor="end" fill="#1a1a1a" letter-spacing="0.07">CD16 Mono</text>
<line x1="582.75" y1="143.20" x2="582.75" y2="144.60" stroke="#222" stroke-width="0.5"/>
<text class="s" transform="translate(584.50,145.90) rotate(-90)" font-size="4.9" text-anchor="end" fill="#1a1a1a" letter-spacing="0.07">CD4 Naive</text>
<line x1="590.05" y1="143.20" x2="590.05" y2="144.60" stroke="#222" stroke-width="0.5"/>
<text class="s" transform="translate(591.80,145.90) rotate(-90)" font-size="4.9" text-anchor="end" fill="#1a1a1a" letter-spacing="0.07">CD4 TCM</text>
<line x1="597.35" y1="143.20" x2="597.35" y2="144.60" stroke="#222" stroke-width="0.5"/>
<text class="s" transform="translate(599.10,145.90) rotate(-90)" font-size="4.9" text-anchor="end" fill="#1a1a1a" letter-spacing="0.07">CD4 TEM</text>
<line x1="604.65" y1="143.20" x2="604.65" y2="144.60" stroke="#222" stroke-width="0.5"/>
<text class="s" transform="translate(606.40,145.90) rotate(-90)" font-size="4.9" text-anchor="end" fill="#1a1a1a" letter-spacing="0.07">CD8 Naive</text>
<line x1="611.95" y1="143.20" x2="611.95" y2="144.60" stroke="#222" stroke-width="0.5"/>
<text class="s" transform="translate(613.70,145.90) rotate(-90)" font-size="4.9" text-anchor="end" fill="#1a1a1a" letter-spacing="0.07">CD8 TEM</text>
<line x1="619.25" y1="143.20" x2="619.25" y2="144.60" stroke="#222" stroke-width="0.5"/>
<text class="s" transform="translate(621.00,145.90) rotate(-90)" font-size="4.9" text-anchor="end" fill="#1a1a1a" letter-spacing="0.07">MAIT</text>
<line x1="626.55" y1="143.20" x2="626.55" y2="144.60" stroke="#222" stroke-width="0.5"/>
<text class="s" transform="translate(628.30,145.90) rotate(-90)" font-size="4.9" text-anchor="end" fill="#1a1a1a" letter-spacing="0.07">NK</text>
<line x1="633.85" y1="143.20" x2="633.85" y2="144.60" stroke="#222" stroke-width="0.5"/>
<text class="s" transform="translate(635.60,145.90) rotate(-90)" font-size="4.9" text-anchor="end" fill="#1a1a1a" letter-spacing="0.07">Treg</text>
<line x1="641.15" y1="143.20" x2="641.15" y2="144.60" stroke="#222" stroke-width="0.5"/>
<text class="s" transform="translate(642.90,145.90) rotate(-90)" font-size="4.9" text-anchor="end" fill="#1a1a1a" letter-spacing="0.07">cDC</text>
<line x1="648.45" y1="143.20" x2="648.45" y2="144.60" stroke="#222" stroke-width="0.5"/>
<text class="s" transform="translate(650.20,145.90) rotate(-90)" font-size="4.9" text-anchor="end" fill="#1a1a1a" letter-spacing="0.07">gdT</text>
<line x1="655.75" y1="143.20" x2="655.75" y2="144.60" stroke="#222" stroke-width="0.5"/>
<text class="s" transform="translate(657.50,145.90) rotate(-90)" font-size="4.9" text-anchor="end" fill="#1a1a1a" letter-spacing="0.07">pDC</text>
<rect x="187.20" y="190.00" width="116.80" height="133.80" fill="#f3f8fe"/>
<rect x="187.20" y="190.00" width="6.87" height="7.87" fill="#a6cde4" stroke="#a6cde4" stroke-width="0.25"/>
<rect x="194.07" y="190.00" width="6.87" height="7.87" fill="#ccdff1" stroke="#ccdff1" stroke-width="0.25"/>
<rect x="200.94" y="190.00" width="6.87" height="7.87" fill="#e7f1fa" stroke="#e7f1fa" stroke-width="0.25"/>
<rect x="207.81" y="190.00" width="6.87" height="7.87" fill="#eff6fc" stroke="#eff6fc" stroke-width="0.25"/>
<rect x="221.55" y="190.00" width="6.87" height="7.87" fill="#f1f7fd" stroke="#f1f7fd" stroke-width="0.25"/>
<rect x="249.04" y="190.00" width="6.87" height="7.87" fill="#f1f7fd" stroke="#f1f7fd" stroke-width="0.25"/>
<rect x="269.65" y="190.00" width="6.87" height="7.87" fill="#f1f7fd" stroke="#f1f7fd" stroke-width="0.25"/>
<rect x="187.20" y="197.87" width="6.87" height="7.87" fill="#dfecf7" stroke="#dfecf7" stroke-width="0.25"/>
<rect x="194.07" y="197.87" width="6.87" height="7.87" fill="#e7f1fa" stroke="#e7f1fa" stroke-width="0.25"/>
<rect x="200.94" y="197.87" width="6.87" height="7.87" fill="#7fb9da" stroke="#7fb9da" stroke-width="0.25"/>
<rect x="207.81" y="197.87" width="6.87" height="7.87" fill="#edf5fc" stroke="#edf5fc" stroke-width="0.25"/>
<rect x="221.55" y="197.87" width="6.87" height="7.87" fill="#f1f7fd" stroke="#f1f7fd" stroke-width="0.25"/>
<rect x="269.65" y="197.87" width="6.87" height="7.87" fill="#f1f7fd" stroke="#f1f7fd" stroke-width="0.25"/>
<rect x="187.20" y="205.74" width="6.87" height="7.87" fill="#e3eef9" stroke="#e3eef9" stroke-width="0.25"/>
<rect x="194.07" y="205.74" width="6.87" height="7.87" fill="#3b8bc3" stroke="#3b8bc3" stroke-width="0.25"/>
<rect x="200.94" y="205.74" width="6.87" height="7.87" fill="#eff6fc" stroke="#eff6fc" stroke-width="0.25"/>
<rect x="207.81" y="205.74" width="6.87" height="7.87" fill="#eff6fc" stroke="#eff6fc" stroke-width="0.25"/>
<rect x="221.55" y="205.74" width="6.87" height="7.87" fill="#f1f7fd" stroke="#f1f7fd" stroke-width="0.25"/>
<rect x="207.81" y="213.61" width="6.87" height="7.87" fill="#083877" stroke="#083877" stroke-width="0.25"/>
<rect x="207.81" y="221.48" width="6.87" height="7.87" fill="#c6dbef" stroke="#c6dbef" stroke-width="0.25"/>
<rect x="214.68" y="221.48" width="6.87" height="7.87" fill="#3b8bc3" stroke="#3b8bc3" stroke-width="0.25"/>
<rect x="207.81" y="229.35" width="6.87" height="7.87" fill="#f1f7fd" stroke="#f1f7fd" stroke-width="0.25"/>
<rect x="221.55" y="229.35" width="6.87" height="7.87" fill="#6baed6" stroke="#6baed6" stroke-width="0.25"/>
<rect x="228.42" y="229.35" width="6.87" height="7.87" fill="#e3eef9" stroke="#e3eef9" stroke-width="0.25"/>
<rect x="235.29" y="229.35" width="6.87" height="7.87" fill="#eff6fc" stroke="#eff6fc" stroke-width="0.25"/>
<rect x="242.16" y="229.35" width="6.87" height="7.87" fill="#e7f1fa" stroke="#e7f1fa" stroke-width="0.25"/>
<rect x="249.04" y="229.35" width="6.87" height="7.87" fill="#edf5fc" stroke="#edf5fc" stroke-width="0.25"/>
<rect x="269.65" y="229.35" width="6.87" height="7.87" fill="#eff6fc" stroke="#eff6fc" stroke-width="0.25"/>
<rect x="276.52" y="229.35" width="6.87" height="7.87" fill="#f1f7fd" stroke="#f1f7fd" stroke-width="0.25"/>
<rect x="290.26" y="229.35" width="6.87" height="7.87" fill="#f1f7fd" stroke="#f1f7fd" stroke-width="0.25"/>
<rect x="207.81" y="237.22" width="6.87" height="7.87" fill="#eff6fc" stroke="#eff6fc" stroke-width="0.25"/>
<rect x="221.55" y="237.22" width="6.87" height="7.87" fill="#d3e4f3" stroke="#d3e4f3" stroke-width="0.25"/>
<rect x="228.42" y="237.22" width="6.87" height="7.87" fill="#c6dbef" stroke="#c6dbef" stroke-width="0.25"/>
<rect x="235.29" y="237.22" width="6.87" height="7.87" fill="#e3eef9" stroke="#e3eef9" stroke-width="0.25"/>
<rect x="242.16" y="237.22" width="6.87" height="7.87" fill="#eff6fc" stroke="#eff6fc" stroke-width="0.25"/>
<rect x="249.04" y="237.22" width="6.87" height="7.87" fill="#e3eef9" stroke="#e3eef9" stroke-width="0.25"/>
<rect x="269.65" y="237.22" width="6.87" height="7.87" fill="#edf5fc" stroke="#edf5fc" stroke-width="0.25"/>
<rect x="276.52" y="237.22" width="6.87" height="7.87" fill="#eff6fc" stroke="#eff6fc" stroke-width="0.25"/>
<rect x="290.26" y="237.22" width="6.87" height="7.87" fill="#f1f7fd" stroke="#f1f7fd" stroke-width="0.25"/>
<rect x="207.81" y="245.09" width="6.87" height="7.87" fill="#eff6fc" stroke="#eff6fc" stroke-width="0.25"/>
<rect x="221.55" y="245.09" width="6.87" height="7.87" fill="#e3eef9" stroke="#e3eef9" stroke-width="0.25"/>
<rect x="228.42" y="245.09" width="6.87" height="7.87" fill="#94c4df" stroke="#94c4df" stroke-width="0.25"/>
<rect x="235.29" y="245.09" width="6.87" height="7.87" fill="#d3e4f3" stroke="#d3e4f3" stroke-width="0.25"/>
<rect x="242.16" y="245.09" width="6.87" height="7.87" fill="#eff6fc" stroke="#eff6fc" stroke-width="0.25"/>
<rect x="249.04" y="245.09" width="6.87" height="7.87" fill="#edf5fc" stroke="#edf5fc" stroke-width="0.25"/>
<rect x="262.78" y="245.09" width="6.87" height="7.87" fill="#f1f7fd" stroke="#f1f7fd" stroke-width="0.25"/>
<rect x="269.65" y="245.09" width="6.87" height="7.87" fill="#eff6fc" stroke="#eff6fc" stroke-width="0.25"/>
<rect x="207.81" y="252.96" width="6.87" height="7.87" fill="#f1f7fd" stroke="#f1f7fd" stroke-width="0.25"/>
<rect x="221.55" y="252.96" width="6.87" height="7.87" fill="#bcd7ec" stroke="#bcd7ec" stroke-width="0.25"/>
<rect x="228.42" y="252.96" width="6.87" height="7.87" fill="#ebf3fb" stroke="#ebf3fb" stroke-width="0.25"/>
<rect x="235.29" y="252.96" width="6.87" height="7.87" fill="#f1f7fd" stroke="#f1f7fd" stroke-width="0.25"/>
<rect x="242.16" y="252.96" width="6.87" height="7.87" fill="#b0d1e7" stroke="#b0d1e7" stroke-width="0.25"/>
<rect x="249.04" y="252.96" width="6.87" height="7.87" fill="#ebf3fb" stroke="#ebf3fb" stroke-width="0.25"/>
<rect x="269.65" y="252.96" width="6.87" height="7.87" fill="#f1f7fd" stroke="#f1f7fd" stroke-width="0.25"/>
<rect x="221.55" y="260.84" width="6.87" height="7.87" fill="#eff6fc" stroke="#eff6fc" stroke-width="0.25"/>
<rect x="228.42" y="260.84" width="6.87" height="7.87" fill="#f1f7fd" stroke="#f1f7fd" stroke-width="0.25"/>
<rect x="235.29" y="260.84" width="6.87" height="7.87" fill="#eff6fc" stroke="#eff6fc" stroke-width="0.25"/>
<rect x="249.04" y="260.84" width="6.87" height="7.87" fill="#5ba3d0" stroke="#5ba3d0" stroke-width="0.25"/>
<rect x="269.65" y="260.84" width="6.87" height="7.87" fill="#d3e4f3" stroke="#d3e4f3" stroke-width="0.25"/>
<rect x="290.26" y="260.84" width="6.87" height="7.87" fill="#e3eef9" stroke="#e3eef9" stroke-width="0.25"/>
<rect x="207.81" y="268.71" width="6.87" height="7.87" fill="#d9e8f5" stroke="#d9e8f5" stroke-width="0.25"/>
<rect x="214.68" y="268.71" width="6.87" height="7.87" fill="#edf5fc" stroke="#edf5fc" stroke-width="0.25"/>
<rect x="221.55" y="268.71" width="6.87" height="7.87" fill="#d9e8f5" stroke="#d9e8f5" stroke-width="0.25"/>
<rect x="249.04" y="268.71" width="6.87" height="7.87" fill="#d9e8f5" stroke="#d9e8f5" stroke-width="0.25"/>
<rect x="255.91" y="268.71" width="6.87" height="7.87" fill="#b6d4e9" stroke="#b6d4e9" stroke-width="0.25"/>
<rect x="269.65" y="268.71" width="6.87" height="7.87" fill="#eff6fc" stroke="#eff6fc" stroke-width="0.25"/>
<rect x="290.26" y="268.71" width="6.87" height="7.87" fill="#f1f7fd" stroke="#f1f7fd" stroke-width="0.25"/>
<rect x="221.55" y="276.58" width="6.87" height="7.87" fill="#eff6fc" stroke="#eff6fc" stroke-width="0.25"/>
<rect x="228.42" y="276.58" width="6.87" height="7.87" fill="#e3eef9" stroke="#e3eef9" stroke-width="0.25"/>
<rect x="235.29" y="276.58" width="6.87" height="7.87" fill="#ccdff1" stroke="#ccdff1" stroke-width="0.25"/>
<rect x="249.04" y="276.58" width="6.87" height="7.87" fill="#dfecf7" stroke="#dfecf7" stroke-width="0.25"/>
<rect x="262.78" y="276.58" width="6.87" height="7.87" fill="#d9e8f5" stroke="#d9e8f5" stroke-width="0.25"/>
<rect x="269.65" y="276.58" width="6.87" height="7.87" fill="#d9e8f5" stroke="#d9e8f5" stroke-width="0.25"/>
<rect x="290.26" y="276.58" width="6.87" height="7.87" fill="#ebf3fb" stroke="#ebf3fb" stroke-width="0.25"/>
<rect x="207.81" y="284.45" width="6.87" height="7.87" fill="#eff6fc" stroke="#eff6fc" stroke-width="0.25"/>
<rect x="249.04" y="284.45" width="6.87" height="7.87" fill="#eff6fc" stroke="#eff6fc" stroke-width="0.25"/>
<rect x="269.65" y="284.45" width="6.87" height="7.87" fill="#084a92" stroke="#084a92" stroke-width="0.25"/>
<rect x="290.26" y="284.45" width="6.87" height="7.87" fill="#f1f7fd" stroke="#f1f7fd" stroke-width="0.25"/>
<rect x="207.81" y="292.32" width="6.87" height="7.87" fill="#e7f1fa" stroke="#e7f1fa" stroke-width="0.25"/>
<rect x="221.55" y="292.32" width="6.87" height="7.87" fill="#d9e8f5" stroke="#d9e8f5" stroke-width="0.25"/>
<rect x="228.42" y="292.32" width="6.87" height="7.87" fill="#d9e8f5" stroke="#d9e8f5" stroke-width="0.25"/>
<rect x="235.29" y="292.32" width="6.87" height="7.87" fill="#edf5fc" stroke="#edf5fc" stroke-width="0.25"/>
<rect x="242.16" y="292.32" width="6.87" height="7.87" fill="#edf5fc" stroke="#edf5fc" stroke-width="0.25"/>
<rect x="249.04" y="292.32" width="6.87" height="7.87" fill="#e7f1fa" stroke="#e7f1fa" stroke-width="0.25"/>
<rect x="269.65" y="292.32" width="6.87" height="7.87" fill="#edf5fc" stroke="#edf5fc" stroke-width="0.25"/>
<rect x="276.52" y="292.32" width="6.87" height="7.87" fill="#ccdff1" stroke="#ccdff1" stroke-width="0.25"/>
<rect x="290.26" y="292.32" width="6.87" height="7.87" fill="#f1f7fd" stroke="#f1f7fd" stroke-width="0.25"/>
<rect x="207.81" y="300.19" width="6.87" height="7.87" fill="#b6d4e9" stroke="#b6d4e9" stroke-width="0.25"/>
<rect x="214.68" y="300.19" width="6.87" height="7.87" fill="#f1f7fd" stroke="#f1f7fd" stroke-width="0.25"/>
<rect x="283.39" y="300.19" width="6.87" height="7.87" fill="#3b8bc3" stroke="#3b8bc3" stroke-width="0.25"/>
<rect x="221.55" y="308.06" width="6.87" height="7.87" fill="#f1f7fd" stroke="#f1f7fd" stroke-width="0.25"/>
<rect x="249.04" y="308.06" width="6.87" height="7.87" fill="#ccdff1" stroke="#ccdff1" stroke-width="0.25"/>
<rect x="269.65" y="308.06" width="6.87" height="7.87" fill="#7fb9da" stroke="#7fb9da" stroke-width="0.25"/>
<rect x="290.26" y="308.06" width="6.87" height="7.87" fill="#d3e4f3" stroke="#d3e4f3" stroke-width="0.25"/>
<rect x="297.13" y="315.93" width="6.87" height="7.87" fill="#083877" stroke="#083877" stroke-width="0.25"/>
<line x1="185.20" y1="193.94" x2="186.60" y2="193.94" stroke="#222" stroke-width="0.5"/>
<text class="s" transform="translate(183.90,195.64)" font-size="4.9" text-anchor="end" fill="#1a1a1a" letter-spacing="0.07">B Intermediate</text>
<line x1="185.20" y1="201.81" x2="186.60" y2="201.81" stroke="#222" stroke-width="0.5"/>
<text class="s" transform="translate(183.90,203.51)" font-size="4.9" text-anchor="end" fill="#1a1a1a" letter-spacing="0.07">B Memory</text>
<line x1="185.20" y1="209.68" x2="186.60" y2="209.68" stroke="#222" stroke-width="0.5"/>
<text class="s" transform="translate(183.90,211.38)" font-size="4.9" text-anchor="end" fill="#1a1a1a" letter-spacing="0.07">B Naive</text>
<line x1="185.20" y1="217.55" x2="186.60" y2="217.55" stroke="#222" stroke-width="0.5"/>
<text class="s" transform="translate(183.90,219.25)" font-size="4.9" text-anchor="end" fill="#1a1a1a" letter-spacing="0.07">CD14 Mono</text>
<line x1="185.20" y1="225.42" x2="186.60" y2="225.42" stroke="#222" stroke-width="0.5"/>
<text class="s" transform="translate(183.90,227.12)" font-size="4.9" text-anchor="end" fill="#1a1a1a" letter-spacing="0.07">CD16 Mono</text>
<line x1="185.20" y1="233.29" x2="186.60" y2="233.29" stroke="#222" stroke-width="0.5"/>
<text class="s" transform="translate(183.90,234.99)" font-size="4.9" text-anchor="end" fill="#1a1a1a" letter-spacing="0.07">CD4 Naive</text>
<line x1="185.20" y1="241.16" x2="186.60" y2="241.16" stroke="#222" stroke-width="0.5"/>
<text class="s" transform="translate(183.90,242.86)" font-size="4.9" text-anchor="end" fill="#1a1a1a" letter-spacing="0.07">CD4 TCM</text>
<line x1="185.20" y1="249.03" x2="186.60" y2="249.03" stroke="#222" stroke-width="0.5"/>
<text class="s" transform="translate(183.90,250.73)" font-size="4.9" text-anchor="end" fill="#1a1a1a" letter-spacing="0.07">CD4 TEM</text>
<line x1="185.20" y1="256.90" x2="186.60" y2="256.90" stroke="#222" stroke-width="0.5"/>
<text class="s" transform="translate(183.90,258.60)" font-size="4.9" text-anchor="end" fill="#1a1a1a" letter-spacing="0.07">CD8 Naive</text>
<line x1="185.20" y1="264.77" x2="186.60" y2="264.77" stroke="#222" stroke-width="0.5"/>
<text class="s" transform="translate(183.90,266.47)" font-size="4.9" text-anchor="end" fill="#1a1a1a" letter-spacing="0.07">CD8 TEM</text>
<line x1="185.20" y1="272.64" x2="186.60" y2="272.64" stroke="#222" stroke-width="0.5"/>
<text class="s" transform="translate(183.90,274.34)" font-size="4.9" text-anchor="end" fill="#1a1a1a" letter-spacing="0.07">HSPC</text>
<line x1="185.20" y1="280.51" x2="186.60" y2="280.51" stroke="#222" stroke-width="0.5"/>
<text class="s" transform="translate(183.90,282.21)" font-size="4.9" text-anchor="end" fill="#1a1a1a" letter-spacing="0.07">MAIT</text>
<line x1="185.20" y1="288.38" x2="186.60" y2="288.38" stroke="#222" stroke-width="0.5"/>
<text class="s" transform="translate(183.90,290.08)" font-size="4.9" text-anchor="end" fill="#1a1a1a" letter-spacing="0.07">NK</text>
<line x1="185.20" y1="296.25" x2="186.60" y2="296.25" stroke="#222" stroke-width="0.5"/>
<text class="s" transform="translate(183.90,297.95)" font-size="4.9" text-anchor="end" fill="#1a1a1a" letter-spacing="0.07">Treg</text>
<line x1="185.20" y1="304.12" x2="186.60" y2="304.12" stroke="#222" stroke-width="0.5"/>
<text class="s" transform="translate(183.90,305.82)" font-size="4.9" text-anchor="end" fill="#1a1a1a" letter-spacing="0.07">cDC</text>
<line x1="185.20" y1="311.99" x2="186.60" y2="311.99" stroke="#222" stroke-width="0.5"/>
<text class="s" transform="translate(183.90,313.69)" font-size="4.9" text-anchor="end" fill="#1a1a1a" letter-spacing="0.07">gdT</text>
<line x1="185.20" y1="319.86" x2="186.60" y2="319.86" stroke="#222" stroke-width="0.5"/>
<text class="s" transform="translate(183.90,321.56)" font-size="4.9" text-anchor="end" fill="#1a1a1a" letter-spacing="0.07">pDC</text>
<line x1="190.64" y1="324.40" x2="190.64" y2="325.80" stroke="#222" stroke-width="0.5"/>
<text class="s" transform="translate(192.39,327.10) rotate(-90)" font-size="4.9" text-anchor="end" fill="#1a1a1a" letter-spacing="0.07">B Intermediate</text>
<line x1="197.51" y1="324.40" x2="197.51" y2="325.80" stroke="#222" stroke-width="0.5"/>
<text class="s" transform="translate(199.26,327.10) rotate(-90)" font-size="4.9" text-anchor="end" fill="#1a1a1a" letter-spacing="0.07">B Memory</text>
<line x1="204.38" y1="324.40" x2="204.38" y2="325.80" stroke="#222" stroke-width="0.5"/>
<text class="s" transform="translate(206.13,327.10) rotate(-90)" font-size="4.9" text-anchor="end" fill="#1a1a1a" letter-spacing="0.07">B Naive</text>
<line x1="211.25" y1="324.40" x2="211.25" y2="325.80" stroke="#222" stroke-width="0.5"/>
<text class="s" transform="translate(213.00,327.10) rotate(-90)" font-size="4.9" text-anchor="end" fill="#1a1a1a" letter-spacing="0.07">CD14 Mono</text>
<line x1="218.12" y1="324.40" x2="218.12" y2="325.80" stroke="#222" stroke-width="0.5"/>
<text class="s" transform="translate(219.87,327.10) rotate(-90)" font-size="4.9" text-anchor="end" fill="#1a1a1a" letter-spacing="0.07">CD16 Mono</text>
<line x1="224.99" y1="324.40" x2="224.99" y2="325.80" stroke="#222" stroke-width="0.5"/>
<text class="s" transform="translate(226.74,327.10) rotate(-90)" font-size="4.9" text-anchor="end" fill="#1a1a1a" letter-spacing="0.07">CD4 Naive</text>
<line x1="231.86" y1="324.40" x2="231.86" y2="325.80" stroke="#222" stroke-width="0.5"/>
<text class="s" transform="translate(233.61,327.10) rotate(-90)" font-size="4.9" text-anchor="end" fill="#1a1a1a" letter-spacing="0.07">CD4 TCM</text>
<line x1="238.73" y1="324.40" x2="238.73" y2="325.80" stroke="#222" stroke-width="0.5"/>
<text class="s" transform="translate(240.48,327.10) rotate(-90)" font-size="4.9" text-anchor="end" fill="#1a1a1a" letter-spacing="0.07">CD4 TEM</text>
<line x1="245.60" y1="324.40" x2="245.60" y2="325.80" stroke="#222" stroke-width="0.5"/>
<text class="s" transform="translate(247.35,327.10) rotate(-90)" font-size="4.9" text-anchor="end" fill="#1a1a1a" letter-spacing="0.07">CD8 Naive</text>
<line x1="252.47" y1="324.40" x2="252.47" y2="325.80" stroke="#222" stroke-width="0.5"/>
<text class="s" transform="translate(254.22,327.10) rotate(-90)" font-size="4.9" text-anchor="end" fill="#1a1a1a" letter-spacing="0.07">CD8 TEM</text>
<line x1="259.34" y1="324.40" x2="259.34" y2="325.80" stroke="#222" stroke-width="0.5"/>
<text class="s" transform="translate(261.09,327.10) rotate(-90)" font-size="4.9" text-anchor="end" fill="#1a1a1a" letter-spacing="0.07">HSPC</text>
<line x1="266.21" y1="324.40" x2="266.21" y2="325.80" stroke="#222" stroke-width="0.5"/>
<text class="s" transform="translate(267.96,327.10) rotate(-90)" font-size="4.9" text-anchor="end" fill="#1a1a1a" letter-spacing="0.07">MAIT</text>
<line x1="273.08" y1="324.40" x2="273.08" y2="325.80" stroke="#222" stroke-width="0.5"/>
<text class="s" transform="translate(274.83,327.10) rotate(-90)" font-size="4.9" text-anchor="end" fill="#1a1a1a" letter-spacing="0.07">NK</text>
<line x1="279.95" y1="324.40" x2="279.95" y2="325.80" stroke="#222" stroke-width="0.5"/>
<text class="s" transform="translate(281.70,327.10) rotate(-90)" font-size="4.9" text-anchor="end" fill="#1a1a1a" letter-spacing="0.07">Treg</text>
<line x1="286.82" y1="324.40" x2="286.82" y2="325.80" stroke="#222" stroke-width="0.5"/>
<text class="s" transform="translate(288.57,327.10) rotate(-90)" font-size="4.9" text-anchor="end" fill="#1a1a1a" letter-spacing="0.07">cDC</text>
<line x1="293.69" y1="324.40" x2="293.69" y2="325.80" stroke="#222" stroke-width="0.5"/>
<text class="s" transform="translate(295.44,327.10) rotate(-90)" font-size="4.9" text-anchor="end" fill="#1a1a1a" letter-spacing="0.07">gdT</text>
<line x1="300.56" y1="324.40" x2="300.56" y2="325.80" stroke="#222" stroke-width="0.5"/>
<text class="s" transform="translate(302.31,327.10) rotate(-90)" font-size="4.9" text-anchor="end" fill="#1a1a1a" letter-spacing="0.07">pDC</text>
<rect x="365.00" y="190.00" width="116.80" height="133.80" fill="#f4fbf2"/>
<rect x="365.00" y="190.00" width="6.87" height="7.87" fill="#86cc85" stroke="#86cc85" stroke-width="0.25"/>
<rect x="371.87" y="190.00" width="6.87" height="7.87" fill="#b8e3b1" stroke="#b8e3b1" stroke-width="0.25"/>
<rect x="378.74" y="190.00" width="6.87" height="7.87" fill="#eef9eb" stroke="#eef9eb" stroke-width="0.25"/>
<rect x="385.61" y="190.00" width="6.87" height="7.87" fill="#f1faee" stroke="#f1faee" stroke-width="0.25"/>
<rect x="365.00" y="197.87" width="6.87" height="7.87" fill="#e6f5e1" stroke="#e6f5e1" stroke-width="0.25"/>
<rect x="371.87" y="197.87" width="6.87" height="7.87" fill="#f0f9ed" stroke="#f0f9ed" stroke-width="0.25"/>
<rect x="378.74" y="197.87" width="6.87" height="7.87" fill="#4bb062" stroke="#4bb062" stroke-width="0.25"/>
<rect x="385.61" y="197.87" width="6.87" height="7.87" fill="#eef9eb" stroke="#eef9eb" stroke-width="0.25"/>
<rect x="365.00" y="205.74" width="6.87" height="7.87" fill="#ebf8e8" stroke="#ebf8e8" stroke-width="0.25"/>
<rect x="371.87" y="205.74" width="6.87" height="7.87" fill="#157f3b" stroke="#157f3b" stroke-width="0.25"/>
<rect x="378.74" y="205.74" width="6.87" height="7.87" fill="#f3faf0" stroke="#f3faf0" stroke-width="0.25"/>
<rect x="385.61" y="205.74" width="6.87" height="7.87" fill="#f3faf0" stroke="#f3faf0" stroke-width="0.25"/>
<rect x="385.61" y="213.61" width="6.87" height="7.87" fill="#004b1e" stroke="#004b1e" stroke-width="0.25"/>
<rect x="385.61" y="221.48" width="6.87" height="7.87" fill="#c7e9c0" stroke="#c7e9c0" stroke-width="0.25"/>
<rect x="392.48" y="221.48" width="6.87" height="7.87" fill="#157f3b" stroke="#157f3b" stroke-width="0.25"/>
<rect x="385.61" y="229.35" width="6.87" height="7.87" fill="#f3faf0" stroke="#f3faf0" stroke-width="0.25"/>
<rect x="399.35" y="229.35" width="6.87" height="7.87" fill="#3ba558" stroke="#3ba558" stroke-width="0.25"/>
<rect x="406.22" y="229.35" width="6.87" height="7.87" fill="#ebf8e8" stroke="#ebf8e8" stroke-width="0.25"/>
<rect x="413.09" y="229.35" width="6.87" height="7.87" fill="#f1faee" stroke="#f1faee" stroke-width="0.25"/>
<rect x="419.96" y="229.35" width="6.87" height="7.87" fill="#edf8e9" stroke="#edf8e9" stroke-width="0.25"/>
<rect x="426.84" y="229.35" width="6.87" height="7.87" fill="#eef9eb" stroke="#eef9eb" stroke-width="0.25"/>
<rect x="447.45" y="229.35" width="6.87" height="7.87" fill="#f3faf0" stroke="#f3faf0" stroke-width="0.25"/>
<rect x="385.61" y="237.22" width="6.87" height="7.87" fill="#f3faf0" stroke="#f3faf0" stroke-width="0.25"/>
<rect x="399.35" y="237.22" width="6.87" height="7.87" fill="#d3eecd" stroke="#d3eecd" stroke-width="0.25"/>
<rect x="406.22" y="237.22" width="6.87" height="7.87" fill="#98d594" stroke="#98d594" stroke-width="0.25"/>
<rect x="413.09" y="237.22" width="6.87" height="7.87" fill="#e6f5e1" stroke="#e6f5e1" stroke-width="0.25"/>
<rect x="419.96" y="237.22" width="6.87" height="7.87" fill="#f1faee" stroke="#f1faee" stroke-width="0.25"/>
<rect x="426.84" y="237.22" width="6.87" height="7.87" fill="#ebf8e8" stroke="#ebf8e8" stroke-width="0.25"/>
<rect x="447.45" y="237.22" width="6.87" height="7.87" fill="#f1faee" stroke="#f1faee" stroke-width="0.25"/>
<rect x="385.61" y="245.09" width="6.87" height="7.87" fill="#f3faf0" stroke="#f3faf0" stroke-width="0.25"/>
<rect x="399.35" y="245.09" width="6.87" height="7.87" fill="#edf8e9" stroke="#edf8e9" stroke-width="0.25"/>
<rect x="406.22" y="245.09" width="6.87" height="7.87" fill="#74c476" stroke="#74c476" stroke-width="0.25"/>
<rect x="413.09" y="245.09" width="6.87" height="7.87" fill="#c7e9c0" stroke="#c7e9c0" stroke-width="0.25"/>
<rect x="419.96" y="245.09" width="6.87" height="7.87" fill="#f1faee" stroke="#f1faee" stroke-width="0.25"/>
<rect x="426.84" y="245.09" width="6.87" height="7.87" fill="#f0f9ed" stroke="#f0f9ed" stroke-width="0.25"/>
<rect x="385.61" y="252.96" width="6.87" height="7.87" fill="#f3faf0" stroke="#f3faf0" stroke-width="0.25"/>
<rect x="399.35" y="252.96" width="6.87" height="7.87" fill="#b8e3b1" stroke="#b8e3b1" stroke-width="0.25"/>
<rect x="406.22" y="252.96" width="6.87" height="7.87" fill="#f0f9ed" stroke="#f0f9ed" stroke-width="0.25"/>
<rect x="419.96" y="252.96" width="6.87" height="7.87" fill="#74c476" stroke="#74c476" stroke-width="0.25"/>
<rect x="426.84" y="252.96" width="6.87" height="7.87" fill="#f0f9ed" stroke="#f0f9ed" stroke-width="0.25"/>
<rect x="399.35" y="260.84" width="6.87" height="7.87" fill="#f3faf0" stroke="#f3faf0" stroke-width="0.25"/>
<rect x="406.22" y="260.84" width="6.87" height="7.87" fill="#f3faf0" stroke="#f3faf0" stroke-width="0.25"/>
<rect x="426.84" y="260.84" width="6.87" height="7.87" fill="#3ba558" stroke="#3ba558" stroke-width="0.25"/>
<rect x="447.45" y="260.84" width="6.87" height="7.87" fill="#dff3da" stroke="#dff3da" stroke-width="0.25"/>
<rect x="468.06" y="260.84" width="6.87" height="7.87" fill="#e9f6e4" stroke="#e9f6e4" stroke-width="0.25"/>
<rect x="385.61" y="268.71" width="6.87" height="7.87" fill="#b8e3b1" stroke="#b8e3b1" stroke-width="0.25"/>
<rect x="392.48" y="268.71" width="6.87" height="7.87" fill="#f1faee" stroke="#f1faee" stroke-width="0.25"/>
<rect x="399.35" y="268.71" width="6.87" height="7.87" fill="#ebf8e8" stroke="#ebf8e8" stroke-width="0.25"/>
<rect x="426.84" y="268.71" width="6.87" height="7.87" fill="#e6f5e1" stroke="#e6f5e1" stroke-width="0.25"/>
<rect x="433.71" y="268.71" width="6.87" height="7.87" fill="#d3eecd" stroke="#d3eecd" stroke-width="0.25"/>
<rect x="447.45" y="268.71" width="6.87" height="7.87" fill="#ebf8e8" stroke="#ebf8e8" stroke-width="0.25"/>
<rect x="468.06" y="268.71" width="6.87" height="7.87" fill="#f3faf0" stroke="#f3faf0" stroke-width="0.25"/>
<rect x="474.93" y="268.71" width="6.87" height="7.87" fill="#f0f9ed" stroke="#f0f9ed" stroke-width="0.25"/>
<rect x="406.22" y="276.58" width="6.87" height="7.87" fill="#ebf8e8" stroke="#ebf8e8" stroke-width="0.25"/>
<rect x="413.09" y="276.58" width="6.87" height="7.87" fill="#c7e9c0" stroke="#c7e9c0" stroke-width="0.25"/>
<rect x="426.84" y="276.58" width="6.87" height="7.87" fill="#d8f0d2" stroke="#d8f0d2" stroke-width="0.25"/>
<rect x="440.58" y="276.58" width="6.87" height="7.87" fill="#d8f0d2" stroke="#d8f0d2" stroke-width="0.25"/>
<rect x="447.45" y="276.58" width="6.87" height="7.87" fill="#e9f6e4" stroke="#e9f6e4" stroke-width="0.25"/>
<rect x="468.06" y="276.58" width="6.87" height="7.87" fill="#ebf8e8" stroke="#ebf8e8" stroke-width="0.25"/>
<rect x="426.84" y="284.45" width="6.87" height="7.87" fill="#f3faf0" stroke="#f3faf0" stroke-width="0.25"/>
<rect x="447.45" y="284.45" width="6.87" height="7.87" fill="#004e1f" stroke="#004e1f" stroke-width="0.25"/>
<rect x="385.61" y="292.32" width="6.87" height="7.87" fill="#f0f9ed" stroke="#f0f9ed" stroke-width="0.25"/>
<rect x="399.35" y="292.32" width="6.87" height="7.87" fill="#dff3da" stroke="#dff3da" stroke-width="0.25"/>
<rect x="406.22" y="292.32" width="6.87" height="7.87" fill="#d3eecd" stroke="#d3eecd" stroke-width="0.25"/>
<rect x="413.09" y="292.32" width="6.87" height="7.87" fill="#eef9eb" stroke="#eef9eb" stroke-width="0.25"/>
<rect x="419.96" y="292.32" width="6.87" height="7.87" fill="#f0f9ed" stroke="#f0f9ed" stroke-width="0.25"/>
<rect x="426.84" y="292.32" width="6.87" height="7.87" fill="#ebf8e8" stroke="#ebf8e8" stroke-width="0.25"/>
<rect x="447.45" y="292.32" width="6.87" height="7.87" fill="#f1faee" stroke="#f1faee" stroke-width="0.25"/>
<rect x="454.32" y="292.32" width="6.87" height="7.87" fill="#c7e9c0" stroke="#c7e9c0" stroke-width="0.25"/>
<rect x="385.61" y="300.19" width="6.87" height="7.87" fill="#98d594" stroke="#98d594" stroke-width="0.25"/>
<rect x="392.48" y="300.19" width="6.87" height="7.87" fill="#f3faf0" stroke="#f3faf0" stroke-width="0.25"/>
<rect x="461.19" y="300.19" width="6.87" height="7.87" fill="#3ba558" stroke="#3ba558" stroke-width="0.25"/>
<rect x="426.84" y="308.06" width="6.87" height="7.87" fill="#c7e9c0" stroke="#c7e9c0" stroke-width="0.25"/>
<rect x="447.45" y="308.06" width="6.87" height="7.87" fill="#74c476" stroke="#74c476" stroke-width="0.25"/>
<rect x="468.06" y="308.06" width="6.87" height="7.87" fill="#d3eecd" stroke="#d3eecd" stroke-width="0.25"/>
<rect x="365.00" y="315.93" width="6.87" height="7.87" fill="#e9f6e4" stroke="#e9f6e4" stroke-width="0.25"/>
<rect x="371.87" y="315.93" width="6.87" height="7.87" fill="#edf8e9" stroke="#edf8e9" stroke-width="0.25"/>
<rect x="378.74" y="315.93" width="6.87" height="7.87" fill="#edf8e9" stroke="#edf8e9" stroke-width="0.25"/>
<rect x="385.61" y="315.93" width="6.87" height="7.87" fill="#e9f6e4" stroke="#e9f6e4" stroke-width="0.25"/>
<rect x="399.35" y="315.93" width="6.87" height="7.87" fill="#f3faf0" stroke="#f3faf0" stroke-width="0.25"/>
<rect x="447.45" y="315.93" width="6.87" height="7.87" fill="#f1faee" stroke="#f1faee" stroke-width="0.25"/>
<rect x="461.19" y="315.93" width="6.87" height="7.87" fill="#e6f5e1" stroke="#e6f5e1" stroke-width="0.25"/>
<rect x="474.93" y="315.93" width="6.87" height="7.87" fill="#bee5b7" stroke="#bee5b7" stroke-width="0.25"/>
<line x1="363.00" y1="193.94" x2="364.40" y2="193.94" stroke="#222" stroke-width="0.5"/>
<text class="s" transform="translate(361.70,195.64)" font-size="4.9" text-anchor="end" fill="#1a1a1a" letter-spacing="0.07">B Intermediate</text>
<line x1="363.00" y1="201.81" x2="364.40" y2="201.81" stroke="#222" stroke-width="0.5"/>
<text class="s" transform="translate(361.70,203.51)" font-size="4.9" text-anchor="end" fill="#1a1a1a" letter-spacing="0.07">B Memory</text>
<line x1="363.00" y1="209.68" x2="364.40" y2="209.68" stroke="#222" stroke-width="0.5"/>
<text class="s" transform="translate(361.70,211.38)" font-size="4.9" text-anchor="end" fill="#1a1a1a" letter-spacing="0.07">B Naive</text>
<line x1="363.00" y1="217.55" x2="364.40" y2="217.55" stroke="#222" stroke-width="0.5"/>
<text class="s" transform="translate(361.70,219.25)" font-size="4.9" text-anchor="end" fill="#1a1a1a" letter-spacing="0.07">CD14 Mono</text>
<line x1="363.00" y1="225.42" x2="364.40" y2="225.42" stroke="#222" stroke-width="0.5"/>
<text class="s" transform="translate(361.70,227.12)" font-size="4.9" text-anchor="end" fill="#1a1a1a" letter-spacing="0.07">CD16 Mono</text>
<line x1="363.00" y1="233.29" x2="364.40" y2="233.29" stroke="#222" stroke-width="0.5"/>
<text class="s" transform="translate(361.70,234.99)" font-size="4.9" text-anchor="end" fill="#1a1a1a" letter-spacing="0.07">CD4 Naive</text>
<line x1="363.00" y1="241.16" x2="364.40" y2="241.16" stroke="#222" stroke-width="0.5"/>
<text class="s" transform="translate(361.70,242.86)" font-size="4.9" text-anchor="end" fill="#1a1a1a" letter-spacing="0.07">CD4 TCM</text>
<line x1="363.00" y1="249.03" x2="364.40" y2="249.03" stroke="#222" stroke-width="0.5"/>
<text class="s" transform="translate(361.70,250.73)" font-size="4.9" text-anchor="end" fill="#1a1a1a" letter-spacing="0.07">CD4 TEM</text>
<line x1="363.00" y1="256.90" x2="364.40" y2="256.90" stroke="#222" stroke-width="0.5"/>
<text class="s" transform="translate(361.70,258.60)" font-size="4.9" text-anchor="end" fill="#1a1a1a" letter-spacing="0.07">CD8 Naive</text>
<line x1="363.00" y1="264.77" x2="364.40" y2="264.77" stroke="#222" stroke-width="0.5"/>
<text class="s" transform="translate(361.70,266.47)" font-size="4.9" text-anchor="end" fill="#1a1a1a" letter-spacing="0.07">CD8 TEM</text>
<line x1="363.00" y1="272.64" x2="364.40" y2="272.64" stroke="#222" stroke-width="0.5"/>
<text class="s" transform="translate(361.70,274.34)" font-size="4.9" text-anchor="end" fill="#1a1a1a" letter-spacing="0.07">HSPC</text>
<line x1="363.00" y1="280.51" x2="364.40" y2="280.51" stroke="#222" stroke-width="0.5"/>
<text class="s" transform="translate(361.70,282.21)" font-size="4.9" text-anchor="end" fill="#1a1a1a" letter-spacing="0.07">MAIT</text>
<line x1="363.00" y1="288.38" x2="364.40" y2="288.38" stroke="#222" stroke-width="0.5"/>
<text class="s" transform="translate(361.70,290.08)" font-size="4.9" text-anchor="end" fill="#1a1a1a" letter-spacing="0.07">NK</text>
<line x1="363.00" y1="296.25" x2="364.40" y2="296.25" stroke="#222" stroke-width="0.5"/>
<text class="s" transform="translate(361.70,297.95)" font-size="4.9" text-anchor="end" fill="#1a1a1a" letter-spacing="0.07">Treg</text>
<line x1="363.00" y1="304.12" x2="364.40" y2="304.12" stroke="#222" stroke-width="0.5"/>
<text class="s" transform="translate(361.70,305.82)" font-size="4.9" text-anchor="end" fill="#1a1a1a" letter-spacing="0.07">cDC</text>
<line x1="363.00" y1="311.99" x2="364.40" y2="311.99" stroke="#222" stroke-width="0.5"/>
<text class="s" transform="translate(361.70,313.69)" font-size="4.9" text-anchor="end" fill="#1a1a1a" letter-spacing="0.07">gdT</text>
<line x1="363.00" y1="319.86" x2="364.40" y2="319.86" stroke="#222" stroke-width="0.5"/>
<text class="s" transform="translate(361.70,321.56)" font-size="4.9" text-anchor="end" fill="#1a1a1a" letter-spacing="0.07">pDC</text>
<line x1="368.44" y1="324.40" x2="368.44" y2="325.80" stroke="#222" stroke-width="0.5"/>
<text class="s" transform="translate(370.19,327.10) rotate(-90)" font-size="4.9" text-anchor="end" fill="#1a1a1a" letter-spacing="0.07">B Intermediate</text>
<line x1="375.31" y1="324.40" x2="375.31" y2="325.80" stroke="#222" stroke-width="0.5"/>
<text class="s" transform="translate(377.06,327.10) rotate(-90)" font-size="4.9" text-anchor="end" fill="#1a1a1a" letter-spacing="0.07">B Memory</text>
<line x1="382.18" y1="324.40" x2="382.18" y2="325.80" stroke="#222" stroke-width="0.5"/>
<text class="s" transform="translate(383.93,327.10) rotate(-90)" font-size="4.9" text-anchor="end" fill="#1a1a1a" letter-spacing="0.07">B Naive</text>
<line x1="389.05" y1="324.40" x2="389.05" y2="325.80" stroke="#222" stroke-width="0.5"/>
<text class="s" transform="translate(390.80,327.10) rotate(-90)" font-size="4.9" text-anchor="end" fill="#1a1a1a" letter-spacing="0.07">CD14 Mono</text>
<line x1="395.92" y1="324.40" x2="395.92" y2="325.80" stroke="#222" stroke-width="0.5"/>
<text class="s" transform="translate(397.67,327.10) rotate(-90)" font-size="4.9" text-anchor="end" fill="#1a1a1a" letter-spacing="0.07">CD16 Mono</text>
<line x1="402.79" y1="324.40" x2="402.79" y2="325.80" stroke="#222" stroke-width="0.5"/>
<text class="s" transform="translate(404.54,327.10) rotate(-90)" font-size="4.9" text-anchor="end" fill="#1a1a1a" letter-spacing="0.07">CD4 Naive</text>
<line x1="409.66" y1="324.40" x2="409.66" y2="325.80" stroke="#222" stroke-width="0.5"/>
<text class="s" transform="translate(411.41,327.10) rotate(-90)" font-size="4.9" text-anchor="end" fill="#1a1a1a" letter-spacing="0.07">CD4 TCM</text>
<line x1="416.53" y1="324.40" x2="416.53" y2="325.80" stroke="#222" stroke-width="0.5"/>
<text class="s" transform="translate(418.28,327.10) rotate(-90)" font-size="4.9" text-anchor="end" fill="#1a1a1a" letter-spacing="0.07">CD4 TEM</text>
<line x1="423.40" y1="324.40" x2="423.40" y2="325.80" stroke="#222" stroke-width="0.5"/>
<text class="s" transform="translate(425.15,327.10) rotate(-90)" font-size="4.9" text-anchor="end" fill="#1a1a1a" letter-spacing="0.07">CD8 Naive</text>
<line x1="430.27" y1="324.40" x2="430.27" y2="325.80" stroke="#222" stroke-width="0.5"/>
<text class="s" transform="translate(432.02,327.10) rotate(-90)" font-size="4.9" text-anchor="end" fill="#1a1a1a" letter-spacing="0.07">CD8 TEM</text>
<line x1="437.14" y1="324.40" x2="437.14" y2="325.80" stroke="#222" stroke-width="0.5"/>
<text class="s" transform="translate(438.89,327.10) rotate(-90)" font-size="4.9" text-anchor="end" fill="#1a1a1a" letter-spacing="0.07">HSPC</text>
<line x1="444.01" y1="324.40" x2="444.01" y2="325.80" stroke="#222" stroke-width="0.5"/>
<text class="s" transform="translate(445.76,327.10) rotate(-90)" font-size="4.9" text-anchor="end" fill="#1a1a1a" letter-spacing="0.07">MAIT</text>
<line x1="450.88" y1="324.40" x2="450.88" y2="325.80" stroke="#222" stroke-width="0.5"/>
<text class="s" transform="translate(452.63,327.10) rotate(-90)" font-size="4.9" text-anchor="end" fill="#1a1a1a" letter-spacing="0.07">NK</text>
<line x1="457.75" y1="324.40" x2="457.75" y2="325.80" stroke="#222" stroke-width="0.5"/>
<text class="s" transform="translate(459.50,327.10) rotate(-90)" font-size="4.9" text-anchor="end" fill="#1a1a1a" letter-spacing="0.07">Treg</text>
<line x1="464.62" y1="324.40" x2="464.62" y2="325.80" stroke="#222" stroke-width="0.5"/>
<text class="s" transform="translate(466.37,327.10) rotate(-90)" font-size="4.9" text-anchor="end" fill="#1a1a1a" letter-spacing="0.07">cDC</text>
<line x1="471.49" y1="324.40" x2="471.49" y2="325.80" stroke="#222" stroke-width="0.5"/>
<text class="s" transform="translate(473.24,327.10) rotate(-90)" font-size="4.9" text-anchor="end" fill="#1a1a1a" letter-spacing="0.07">gdT</text>
<line x1="478.36" y1="324.40" x2="478.36" y2="325.80" stroke="#222" stroke-width="0.5"/>
<text class="s" transform="translate(480.11,327.10) rotate(-90)" font-size="4.9" text-anchor="end" fill="#1a1a1a" letter-spacing="0.07">pDC</text>
<rect x="542.60" y="190.00" width="116.80" height="133.80" fill="#fff0e9"/>
<rect x="542.60" y="190.00" width="6.87" height="7.87" fill="#fb6a4a" stroke="#fb6a4a" stroke-width="0.25"/>
<rect x="549.47" y="190.00" width="6.87" height="7.87" fill="#fb6a4a" stroke="#fb6a4a" stroke-width="0.25"/>
<rect x="556.34" y="190.00" width="6.87" height="7.87" fill="#ffeee6" stroke="#ffeee6" stroke-width="0.25"/>
<rect x="652.53" y="190.00" width="6.87" height="7.87" fill="#ffede4" stroke="#ffede4" stroke-width="0.25"/>
<rect x="542.60" y="197.87" width="6.87" height="7.87" fill="#fdcab5" stroke="#fdcab5" stroke-width="0.25"/>
<rect x="556.34" y="197.87" width="6.87" height="7.87" fill="#f14432" stroke="#f14432" stroke-width="0.25"/>
<rect x="563.21" y="197.87" width="6.87" height="7.87" fill="#fdcab5" stroke="#fdcab5" stroke-width="0.25"/>
<rect x="542.60" y="205.74" width="6.87" height="7.87" fill="#fee4d8" stroke="#fee4d8" stroke-width="0.25"/>
<rect x="549.47" y="205.74" width="6.87" height="7.87" fill="#ad1117" stroke="#ad1117" stroke-width="0.25"/>
<rect x="563.21" y="213.61" width="6.87" height="7.87" fill="#800610" stroke="#800610" stroke-width="0.25"/>
<rect x="638.79" y="213.61" width="6.87" height="7.87" fill="#ffeee6" stroke="#ffeee6" stroke-width="0.25"/>
<rect x="563.21" y="221.48" width="6.87" height="7.87" fill="#fee4d8" stroke="#fee4d8" stroke-width="0.25"/>
<rect x="570.08" y="221.48" width="6.87" height="7.87" fill="#ad1117" stroke="#ad1117" stroke-width="0.25"/>
<rect x="576.95" y="229.35" width="6.87" height="7.87" fill="#bc141a" stroke="#bc141a" stroke-width="0.25"/>
<rect x="583.82" y="229.35" width="6.87" height="7.87" fill="#fee4d8" stroke="#fee4d8" stroke-width="0.25"/>
<rect x="597.56" y="229.35" width="6.87" height="7.87" fill="#ffede4" stroke="#ffede4" stroke-width="0.25"/>
<rect x="631.92" y="229.35" width="6.87" height="7.87" fill="#ffeee6" stroke="#ffeee6" stroke-width="0.25"/>
<rect x="583.82" y="237.22" width="6.87" height="7.87" fill="#f14432" stroke="#f14432" stroke-width="0.25"/>
<rect x="590.69" y="237.22" width="6.87" height="7.87" fill="#fcbba1" stroke="#fcbba1" stroke-width="0.25"/>
<rect x="604.44" y="237.22" width="6.87" height="7.87" fill="#ffeee6" stroke="#ffeee6" stroke-width="0.25"/>
<rect x="631.92" y="237.22" width="6.87" height="7.87" fill="#ffebe2" stroke="#ffebe2" stroke-width="0.25"/>
<rect x="583.82" y="245.09" width="6.87" height="7.87" fill="#fb6a4a" stroke="#fb6a4a" stroke-width="0.25"/>
<rect x="590.69" y="245.09" width="6.87" height="7.87" fill="#fc8a6a" stroke="#fc8a6a" stroke-width="0.25"/>
<rect x="604.44" y="245.09" width="6.87" height="7.87" fill="#ffeee6" stroke="#ffeee6" stroke-width="0.25"/>
<rect x="618.18" y="245.09" width="6.87" height="7.87" fill="#ffede4" stroke="#ffede4" stroke-width="0.25"/>
<rect x="576.95" y="252.96" width="6.87" height="7.87" fill="#fee1d3" stroke="#fee1d3" stroke-width="0.25"/>
<rect x="597.56" y="252.96" width="6.87" height="7.87" fill="#ad1117" stroke="#ad1117" stroke-width="0.25"/>
<rect x="604.44" y="260.84" width="6.87" height="7.87" fill="#b61319" stroke="#b61319" stroke-width="0.25"/>
<rect x="625.05" y="260.84" width="6.87" height="7.87" fill="#ffeee6" stroke="#ffeee6" stroke-width="0.25"/>
<rect x="645.66" y="260.84" width="6.87" height="7.87" fill="#fee1d3" stroke="#fee1d3" stroke-width="0.25"/>
<rect x="563.21" y="268.71" width="6.87" height="7.87" fill="#fb7a5a" stroke="#fb7a5a" stroke-width="0.25"/>
<rect x="611.31" y="268.71" width="6.87" height="7.87" fill="#fee4d8" stroke="#fee4d8" stroke-width="0.25"/>
<rect x="625.05" y="268.71" width="6.87" height="7.87" fill="#fcbba1" stroke="#fcbba1" stroke-width="0.25"/>
<rect x="652.53" y="268.71" width="6.87" height="7.87" fill="#fdcab5" stroke="#fdcab5" stroke-width="0.25"/>
<rect x="583.82" y="276.58" width="6.87" height="7.87" fill="#fee4d8" stroke="#fee4d8" stroke-width="0.25"/>
<rect x="590.69" y="276.58" width="6.87" height="7.87" fill="#fcbba1" stroke="#fcbba1" stroke-width="0.25"/>
<rect x="604.44" y="276.58" width="6.87" height="7.87" fill="#fc9a7b" stroke="#fc9a7b" stroke-width="0.25"/>
<rect x="618.18" y="276.58" width="6.87" height="7.87" fill="#fcbba1" stroke="#fcbba1" stroke-width="0.25"/>
<rect x="645.66" y="276.58" width="6.87" height="7.87" fill="#fee4d8" stroke="#fee4d8" stroke-width="0.25"/>
<rect x="625.05" y="284.45" width="6.87" height="7.87" fill="#67000d" stroke="#67000d" stroke-width="0.25"/>
<rect x="583.82" y="292.32" width="6.87" height="7.87" fill="#f6573e" stroke="#f6573e" stroke-width="0.25"/>
<rect x="590.69" y="292.32" width="6.87" height="7.87" fill="#fed9c8" stroke="#fed9c8" stroke-width="0.25"/>
<rect x="618.18" y="292.32" width="6.87" height="7.87" fill="#ffeee6" stroke="#ffeee6" stroke-width="0.25"/>
<rect x="631.92" y="292.32" width="6.87" height="7.87" fill="#fcbba1" stroke="#fcbba1" stroke-width="0.25"/>
<rect x="563.21" y="300.19" width="6.87" height="7.87" fill="#fb7a5a" stroke="#fb7a5a" stroke-width="0.25"/>
<rect x="638.79" y="300.19" width="6.87" height="7.87" fill="#fb6a4a" stroke="#fb6a4a" stroke-width="0.25"/>
<rect x="652.53" y="300.19" width="6.87" height="7.87" fill="#ffede4" stroke="#ffede4" stroke-width="0.25"/>
<rect x="604.44" y="308.06" width="6.87" height="7.87" fill="#fdcab5" stroke="#fdcab5" stroke-width="0.25"/>
<rect x="625.05" y="308.06" width="6.87" height="7.87" fill="#fb6a4a" stroke="#fb6a4a" stroke-width="0.25"/>
<rect x="645.66" y="308.06" width="6.87" height="7.87" fill="#fcab8e" stroke="#fcab8e" stroke-width="0.25"/>
<rect x="542.60" y="315.93" width="6.87" height="7.87" fill="#fdcab5" stroke="#fdcab5" stroke-width="0.25"/>
<rect x="549.47" y="315.93" width="6.87" height="7.87" fill="#fee4d8" stroke="#fee4d8" stroke-width="0.25"/>
<rect x="556.34" y="315.93" width="6.87" height="7.87" fill="#fee4d8" stroke="#fee4d8" stroke-width="0.25"/>
<rect x="563.21" y="315.93" width="6.87" height="7.87" fill="#fed9c8" stroke="#fed9c8" stroke-width="0.25"/>
<rect x="576.95" y="315.93" width="6.87" height="7.87" fill="#ffeee6" stroke="#ffeee6" stroke-width="0.25"/>
<rect x="625.05" y="315.93" width="6.87" height="7.87" fill="#ffede4" stroke="#ffede4" stroke-width="0.25"/>
<rect x="638.79" y="315.93" width="6.87" height="7.87" fill="#fcbba1" stroke="#fcbba1" stroke-width="0.25"/>
<line x1="540.60" y1="193.94" x2="542.00" y2="193.94" stroke="#222" stroke-width="0.5"/>
<text class="s" transform="translate(539.30,195.64)" font-size="4.9" text-anchor="end" fill="#1a1a1a" letter-spacing="0.07">B Intermediate</text>
<line x1="540.60" y1="201.81" x2="542.00" y2="201.81" stroke="#222" stroke-width="0.5"/>
<text class="s" transform="translate(539.30,203.51)" font-size="4.9" text-anchor="end" fill="#1a1a1a" letter-spacing="0.07">B Memory</text>
<line x1="540.60" y1="209.68" x2="542.00" y2="209.68" stroke="#222" stroke-width="0.5"/>
<text class="s" transform="translate(539.30,211.38)" font-size="4.9" text-anchor="end" fill="#1a1a1a" letter-spacing="0.07">B Naive</text>
<line x1="540.60" y1="217.55" x2="542.00" y2="217.55" stroke="#222" stroke-width="0.5"/>
<text class="s" transform="translate(539.30,219.25)" font-size="4.9" text-anchor="end" fill="#1a1a1a" letter-spacing="0.07">CD14 Mono</text>
<line x1="540.60" y1="225.42" x2="542.00" y2="225.42" stroke="#222" stroke-width="0.5"/>
<text class="s" transform="translate(539.30,227.12)" font-size="4.9" text-anchor="end" fill="#1a1a1a" letter-spacing="0.07">CD16 Mono</text>
<line x1="540.60" y1="233.29" x2="542.00" y2="233.29" stroke="#222" stroke-width="0.5"/>
<text class="s" transform="translate(539.30,234.99)" font-size="4.9" text-anchor="end" fill="#1a1a1a" letter-spacing="0.07">CD4 Naive</text>
<line x1="540.60" y1="241.16" x2="542.00" y2="241.16" stroke="#222" stroke-width="0.5"/>
<text class="s" transform="translate(539.30,242.86)" font-size="4.9" text-anchor="end" fill="#1a1a1a" letter-spacing="0.07">CD4 TCM</text>
<line x1="540.60" y1="249.03" x2="542.00" y2="249.03" stroke="#222" stroke-width="0.5"/>
<text class="s" transform="translate(539.30,250.73)" font-size="4.9" text-anchor="end" fill="#1a1a1a" letter-spacing="0.07">CD4 TEM</text>
<line x1="540.60" y1="256.90" x2="542.00" y2="256.90" stroke="#222" stroke-width="0.5"/>
<text class="s" transform="translate(539.30,258.60)" font-size="4.9" text-anchor="end" fill="#1a1a1a" letter-spacing="0.07">CD8 Naive</text>
<line x1="540.60" y1="264.77" x2="542.00" y2="264.77" stroke="#222" stroke-width="0.5"/>
<text class="s" transform="translate(539.30,266.47)" font-size="4.9" text-anchor="end" fill="#1a1a1a" letter-spacing="0.07">CD8 TEM</text>
<line x1="540.60" y1="272.64" x2="542.00" y2="272.64" stroke="#222" stroke-width="0.5"/>
<text class="s" transform="translate(539.30,274.34)" font-size="4.9" text-anchor="end" fill="#1a1a1a" letter-spacing="0.07">HSPC</text>
<line x1="540.60" y1="280.51" x2="542.00" y2="280.51" stroke="#222" stroke-width="0.5"/>
<text class="s" transform="translate(539.30,282.21)" font-size="4.9" text-anchor="end" fill="#1a1a1a" letter-spacing="0.07">MAIT</text>
<line x1="540.60" y1="288.38" x2="542.00" y2="288.38" stroke="#222" stroke-width="0.5"/>
<text class="s" transform="translate(539.30,290.08)" font-size="4.9" text-anchor="end" fill="#1a1a1a" letter-spacing="0.07">NK</text>
<line x1="540.60" y1="296.25" x2="542.00" y2="296.25" stroke="#222" stroke-width="0.5"/>
<text class="s" transform="translate(539.30,297.95)" font-size="4.9" text-anchor="end" fill="#1a1a1a" letter-spacing="0.07">Treg</text>
<line x1="540.60" y1="304.12" x2="542.00" y2="304.12" stroke="#222" stroke-width="0.5"/>
<text class="s" transform="translate(539.30,305.82)" font-size="4.9" text-anchor="end" fill="#1a1a1a" letter-spacing="0.07">cDC</text>
<line x1="540.60" y1="311.99" x2="542.00" y2="311.99" stroke="#222" stroke-width="0.5"/>
<text class="s" transform="translate(539.30,313.69)" font-size="4.9" text-anchor="end" fill="#1a1a1a" letter-spacing="0.07">gdT</text>
<line x1="540.60" y1="319.86" x2="542.00" y2="319.86" stroke="#222" stroke-width="0.5"/>
<text class="s" transform="translate(539.30,321.56)" font-size="4.9" text-anchor="end" fill="#1a1a1a" letter-spacing="0.07">pDC</text>
<line x1="546.04" y1="324.40" x2="546.04" y2="325.80" stroke="#222" stroke-width="0.5"/>
<text class="s" transform="translate(547.79,327.10) rotate(-90)" font-size="4.9" text-anchor="end" fill="#1a1a1a" letter-spacing="0.07">B Intermediate</text>
<line x1="552.91" y1="324.40" x2="552.91" y2="325.80" stroke="#222" stroke-width="0.5"/>
<text class="s" transform="translate(554.66,327.10) rotate(-90)" font-size="4.9" text-anchor="end" fill="#1a1a1a" letter-spacing="0.07">B Memory</text>
<line x1="559.78" y1="324.40" x2="559.78" y2="325.80" stroke="#222" stroke-width="0.5"/>
<text class="s" transform="translate(561.53,327.10) rotate(-90)" font-size="4.9" text-anchor="end" fill="#1a1a1a" letter-spacing="0.07">B Naive</text>
<line x1="566.65" y1="324.40" x2="566.65" y2="325.80" stroke="#222" stroke-width="0.5"/>
<text class="s" transform="translate(568.40,327.10) rotate(-90)" font-size="4.9" text-anchor="end" fill="#1a1a1a" letter-spacing="0.07">CD14 Mono</text>
<line x1="573.52" y1="324.40" x2="573.52" y2="325.80" stroke="#222" stroke-width="0.5"/>
<text class="s" transform="translate(575.27,327.10) rotate(-90)" font-size="4.9" text-anchor="end" fill="#1a1a1a" letter-spacing="0.07">CD16 Mono</text>
<line x1="580.39" y1="324.40" x2="580.39" y2="325.80" stroke="#222" stroke-width="0.5"/>
<text class="s" transform="translate(582.14,327.10) rotate(-90)" font-size="4.9" text-anchor="end" fill="#1a1a1a" letter-spacing="0.07">CD4 Naive</text>
<line x1="587.26" y1="324.40" x2="587.26" y2="325.80" stroke="#222" stroke-width="0.5"/>
<text class="s" transform="translate(589.01,327.10) rotate(-90)" font-size="4.9" text-anchor="end" fill="#1a1a1a" letter-spacing="0.07">CD4 TCM</text>
<line x1="594.13" y1="324.40" x2="594.13" y2="325.80" stroke="#222" stroke-width="0.5"/>
<text class="s" transform="translate(595.88,327.10) rotate(-90)" font-size="4.9" text-anchor="end" fill="#1a1a1a" letter-spacing="0.07">CD4 TEM</text>
<line x1="601.00" y1="324.40" x2="601.00" y2="325.80" stroke="#222" stroke-width="0.5"/>
<text class="s" transform="translate(602.75,327.10) rotate(-90)" font-size="4.9" text-anchor="end" fill="#1a1a1a" letter-spacing="0.07">CD8 Naive</text>
<line x1="607.87" y1="324.40" x2="607.87" y2="325.80" stroke="#222" stroke-width="0.5"/>
<text class="s" transform="translate(609.62,327.10) rotate(-90)" font-size="4.9" text-anchor="end" fill="#1a1a1a" letter-spacing="0.07">CD8 TEM</text>
<line x1="614.74" y1="324.40" x2="614.74" y2="325.80" stroke="#222" stroke-width="0.5"/>
<text class="s" transform="translate(616.49,327.10) rotate(-90)" font-size="4.9" text-anchor="end" fill="#1a1a1a" letter-spacing="0.07">HSPC</text>
<line x1="621.61" y1="324.40" x2="621.61" y2="325.80" stroke="#222" stroke-width="0.5"/>
<text class="s" transform="translate(623.36,327.10) rotate(-90)" font-size="4.9" text-anchor="end" fill="#1a1a1a" letter-spacing="0.07">MAIT</text>
<line x1="628.48" y1="324.40" x2="628.48" y2="325.80" stroke="#222" stroke-width="0.5"/>
<text class="s" transform="translate(630.23,327.10) rotate(-90)" font-size="4.9" text-anchor="end" fill="#1a1a1a" letter-spacing="0.07">NK</text>
<line x1="635.35" y1="324.40" x2="635.35" y2="325.80" stroke="#222" stroke-width="0.5"/>
<text class="s" transform="translate(637.10,327.10) rotate(-90)" font-size="4.9" text-anchor="end" fill="#1a1a1a" letter-spacing="0.07">Treg</text>
<line x1="642.22" y1="324.40" x2="642.22" y2="325.80" stroke="#222" stroke-width="0.5"/>
<text class="s" transform="translate(643.97,327.10) rotate(-90)" font-size="4.9" text-anchor="end" fill="#1a1a1a" letter-spacing="0.07">cDC</text>
<line x1="649.09" y1="324.40" x2="649.09" y2="325.80" stroke="#222" stroke-width="0.5"/>
<text class="s" transform="translate(650.84,327.10) rotate(-90)" font-size="4.9" text-anchor="end" fill="#1a1a1a" letter-spacing="0.07">gdT</text>
<line x1="655.96" y1="324.40" x2="655.96" y2="325.80" stroke="#222" stroke-width="0.5"/>
<text class="s" transform="translate(657.71,327.10) rotate(-90)" font-size="4.9" text-anchor="end" fill="#1a1a1a" letter-spacing="0.07">pDC</text>
<defs><linearGradient id="cb_Blues_311_8" x1="0" y1="0" x2="0" y2="1"><stop offset="0.000" stop-color="#083673"/><stop offset="0.050" stop-color="#084286"/><stop offset="0.100" stop-color="#084f9a"/><stop offset="0.150" stop-color="#115ca5"/><stop offset="0.200" stop-color="#1a69ae"/><stop offset="0.250" stop-color="#2575b7"/><stop offset="0.300" stop-color="#3282be"/><stop offset="0.350" stop-color="#3f8fc4"/><stop offset="0.400" stop-color="#4e9acb"/><stop offset="0.450" stop-color="#5ea5d1"/><stop offset="0.500" stop-color="#6fb0d7"/><stop offset="0.550" stop-color="#83bbdb"/><stop offset="0.600" stop-color="#97c6e0"/><stop offset="0.650" stop-color="#a8cee5"/><stop offset="0.700" stop-color="#b8d5ea"/><stop offset="0.750" stop-color="#c7dcef"/><stop offset="0.800" stop-color="#d0e2f2"/><stop offset="0.850" stop-color="#dae8f6"/><stop offset="0.900" stop-color="#e3eef9"/><stop offset="0.950" stop-color="#edf5fc"/><stop offset="1.000" stop-color="#f7fbff"/></linearGradient></defs>
<rect x="311.0" y="8.4" width="7" height="134.2" fill="url(#cb_Blues_311_8)"/>
<line x1="318.00" y1="143.00" x2="319.50" y2="143.00" stroke="#222" stroke-width="0.5"/>
<text class="s" transform="translate(320.60,144.75)" font-size="4.9" text-anchor="start" fill="#1a1a1a">0.0</text>
<line x1="318.00" y1="115.50" x2="319.50" y2="115.50" stroke="#222" stroke-width="0.5"/>
<text class="s" transform="translate(320.60,117.25)" font-size="4.9" text-anchor="start" fill="#1a1a1a">0.2</text>
<line x1="318.00" y1="88.00" x2="319.50" y2="88.00" stroke="#222" stroke-width="0.5"/>
<text class="s" transform="translate(320.60,89.75)" font-size="4.9" text-anchor="start" fill="#1a1a1a">0.4</text>
<line x1="318.00" y1="60.50" x2="319.50" y2="60.50" stroke="#222" stroke-width="0.5"/>
<text class="s" transform="translate(320.60,62.25)" font-size="4.9" text-anchor="start" fill="#1a1a1a">0.6</text>
<line x1="318.00" y1="33.00" x2="319.50" y2="33.00" stroke="#222" stroke-width="0.5"/>
<text class="s" transform="translate(320.60,34.75)" font-size="4.9" text-anchor="start" fill="#1a1a1a">0.8</text>
<defs><linearGradient id="cb_Blues_311_190" x1="0" y1="0" x2="0" y2="1"><stop offset="0.000" stop-color="#083370"/><stop offset="0.050" stop-color="#084083"/><stop offset="0.100" stop-color="#084d97"/><stop offset="0.150" stop-color="#0f5aa3"/><stop offset="0.200" stop-color="#1967ad"/><stop offset="0.250" stop-color="#2373b6"/><stop offset="0.300" stop-color="#3181bd"/><stop offset="0.350" stop-color="#3e8ec4"/><stop offset="0.400" stop-color="#4d99ca"/><stop offset="0.450" stop-color="#5da4d0"/><stop offset="0.500" stop-color="#6eafd7"/><stop offset="0.550" stop-color="#82badb"/><stop offset="0.600" stop-color="#96c6df"/><stop offset="0.650" stop-color="#a7cee4"/><stop offset="0.700" stop-color="#b7d5ea"/><stop offset="0.750" stop-color="#c7dbef"/><stop offset="0.800" stop-color="#d0e2f2"/><stop offset="0.850" stop-color="#dae8f6"/><stop offset="0.900" stop-color="#e3eef9"/><stop offset="0.950" stop-color="#edf5fc"/><stop offset="1.000" stop-color="#f7fbff"/></linearGradient></defs>
<rect x="311.0" y="190.0" width="7" height="133.8" fill="url(#cb_Blues_311_190)"/>
<line x1="318.00" y1="323.80" x2="319.50" y2="323.80" stroke="#222" stroke-width="0.5"/>
<text class="s" transform="translate(320.60,325.55)" font-size="4.9" text-anchor="start" fill="#1a1a1a">0.0</text>
<line x1="318.00" y1="296.70" x2="319.50" y2="296.70" stroke="#222" stroke-width="0.5"/>
<text class="s" transform="translate(320.60,298.45)" font-size="4.9" text-anchor="start" fill="#1a1a1a">0.2</text>
<line x1="318.00" y1="269.60" x2="319.50" y2="269.60" stroke="#222" stroke-width="0.5"/>
<text class="s" transform="translate(320.60,271.35)" font-size="4.9" text-anchor="start" fill="#1a1a1a">0.4</text>
<line x1="318.00" y1="242.50" x2="319.50" y2="242.50" stroke="#222" stroke-width="0.5"/>
<text class="s" transform="translate(320.60,244.25)" font-size="4.9" text-anchor="start" fill="#1a1a1a">0.6</text>
<line x1="318.00" y1="215.40" x2="319.50" y2="215.40" stroke="#222" stroke-width="0.5"/>
<text class="s" transform="translate(320.60,217.15)" font-size="4.9" text-anchor="start" fill="#1a1a1a">0.8</text>
<defs><linearGradient id="cb_Greens_489_8" x1="0" y1="0" x2="0" y2="1"><stop offset="0.000" stop-color="#005221"/><stop offset="0.050" stop-color="#006227"/><stop offset="0.100" stop-color="#04702f"/><stop offset="0.150" stop-color="#117c38"/><stop offset="0.200" stop-color="#1f8742"/><stop offset="0.250" stop-color="#2b934b"/><stop offset="0.300" stop-color="#36a054"/><stop offset="0.350" stop-color="#42ac5e"/><stop offset="0.400" stop-color="#56b567"/><stop offset="0.450" stop-color="#69bf71"/><stop offset="0.500" stop-color="#7cc87c"/><stop offset="0.550" stop-color="#8dd08b"/><stop offset="0.600" stop-color="#9ed899"/><stop offset="0.650" stop-color="#addea7"/><stop offset="0.700" stop-color="#bce4b5"/><stop offset="0.750" stop-color="#caeac3"/><stop offset="0.800" stop-color="#d5efcf"/><stop offset="0.850" stop-color="#e1f3db"/><stop offset="0.900" stop-color="#e9f7e5"/><stop offset="0.950" stop-color="#f0f9ed"/><stop offset="1.000" stop-color="#f7fcf5"/></linearGradient></defs>
<rect x="489.0" y="8.4" width="7" height="134.2" fill="url(#cb_Greens_489_8)"/>
<line x1="496.00" y1="142.80" x2="497.50" y2="142.80" stroke="#222" stroke-width="0.5"/>
<text class="s" transform="translate(498.60,144.55)" font-size="4.9" text-anchor="start" fill="#1a1a1a">0.0</text>
<line x1="496.00" y1="114.70" x2="497.50" y2="114.70" stroke="#222" stroke-width="0.5"/>
<text class="s" transform="translate(498.60,116.45)" font-size="4.9" text-anchor="start" fill="#1a1a1a">0.2</text>
<line x1="496.00" y1="86.60" x2="497.50" y2="86.60" stroke="#222" stroke-width="0.5"/>
<text class="s" transform="translate(498.60,88.35)" font-size="4.9" text-anchor="start" fill="#1a1a1a">0.4</text>
<line x1="496.00" y1="58.50" x2="497.50" y2="58.50" stroke="#222" stroke-width="0.5"/>
<text class="s" transform="translate(498.60,60.25)" font-size="4.9" text-anchor="start" fill="#1a1a1a">0.6</text>
<line x1="496.00" y1="30.40" x2="497.50" y2="30.40" stroke="#222" stroke-width="0.5"/>
<text class="s" transform="translate(498.60,32.15)" font-size="4.9" text-anchor="start" fill="#1a1a1a">0.8</text>
<defs><linearGradient id="cb_Greens_489_190" x1="0" y1="0" x2="0" y2="1"><stop offset="0.000" stop-color="#005522"/><stop offset="0.050" stop-color="#006428"/><stop offset="0.100" stop-color="#067230"/><stop offset="0.150" stop-color="#137d3a"/><stop offset="0.200" stop-color="#208943"/><stop offset="0.250" stop-color="#2c954c"/><stop offset="0.300" stop-color="#38a155"/><stop offset="0.350" stop-color="#44ad5f"/><stop offset="0.400" stop-color="#58b668"/><stop offset="0.450" stop-color="#6bc072"/><stop offset="0.500" stop-color="#7dc87e"/><stop offset="0.550" stop-color="#8ed08c"/><stop offset="0.600" stop-color="#9fd89a"/><stop offset="0.650" stop-color="#aedea8"/><stop offset="0.700" stop-color="#bce5b6"/><stop offset="0.750" stop-color="#caeac3"/><stop offset="0.800" stop-color="#d5efcf"/><stop offset="0.850" stop-color="#e1f3dc"/><stop offset="0.900" stop-color="#e9f7e5"/><stop offset="0.950" stop-color="#f0f9ed"/><stop offset="1.000" stop-color="#f7fcf5"/></linearGradient></defs>
<rect x="489.0" y="190.0" width="7" height="133.8" fill="url(#cb_Greens_489_190)"/>
<line x1="496.00" y1="323.80" x2="497.50" y2="323.80" stroke="#222" stroke-width="0.5"/>
<text class="s" transform="translate(498.60,325.55)" font-size="4.9" text-anchor="start" fill="#1a1a1a">0.0</text>
<line x1="496.00" y1="295.60" x2="497.50" y2="295.60" stroke="#222" stroke-width="0.5"/>
<text class="s" transform="translate(498.60,297.35)" font-size="4.9" text-anchor="start" fill="#1a1a1a">0.2</text>
<line x1="496.00" y1="267.40" x2="497.50" y2="267.40" stroke="#222" stroke-width="0.5"/>
<text class="s" transform="translate(498.60,269.15)" font-size="4.9" text-anchor="start" fill="#1a1a1a">0.4</text>
<line x1="496.00" y1="239.20" x2="497.50" y2="239.20" stroke="#222" stroke-width="0.5"/>
<text class="s" transform="translate(498.60,240.95)" font-size="4.9" text-anchor="start" fill="#1a1a1a">0.6</text>
<line x1="496.00" y1="211.00" x2="497.50" y2="211.00" stroke="#222" stroke-width="0.5"/>
<text class="s" transform="translate(498.60,212.75)" font-size="4.9" text-anchor="start" fill="#1a1a1a">0.8</text>
<defs><linearGradient id="cb_Reds_665_8" x1="0" y1="0" x2="0" y2="1"><stop offset="0.000" stop-color="#76040f"/><stop offset="0.050" stop-color="#8e0912"/><stop offset="0.100" stop-color="#a50f15"/><stop offset="0.150" stop-color="#b41318"/><stop offset="0.200" stop-color="#c3161b"/><stop offset="0.250" stop-color="#d11e20"/><stop offset="0.300" stop-color="#df2c25"/><stop offset="0.350" stop-color="#ed392b"/><stop offset="0.400" stop-color="#f34b36"/><stop offset="0.450" stop-color="#f85d42"/><stop offset="0.500" stop-color="#fb6f4f"/><stop offset="0.550" stop-color="#fc7e5e"/><stop offset="0.600" stop-color="#fc8e6e"/><stop offset="0.650" stop-color="#fc9e7f"/><stop offset="0.700" stop-color="#fcae92"/><stop offset="0.750" stop-color="#fcbda4"/><stop offset="0.800" stop-color="#fdccb7"/><stop offset="0.850" stop-color="#fedaca"/><stop offset="0.900" stop-color="#fee5d9"/><stop offset="0.950" stop-color="#ffede4"/><stop offset="1.000" stop-color="#fff5f0"/></linearGradient></defs>
<rect x="665.8" y="8.4" width="7" height="134.2" fill="url(#cb_Reds_665_8)"/>
<line x1="672.80" y1="142.80" x2="674.30" y2="142.80" stroke="#222" stroke-width="0.5"/>
<text class="s" transform="translate(675.40,144.55)" font-size="4.9" text-anchor="start" fill="#1a1a1a">0.0</text>
<line x1="672.80" y1="115.10" x2="674.30" y2="115.10" stroke="#222" stroke-width="0.5"/>
<text class="s" transform="translate(675.40,116.85)" font-size="4.9" text-anchor="start" fill="#1a1a1a">0.2</text>
<line x1="672.80" y1="87.40" x2="674.30" y2="87.40" stroke="#222" stroke-width="0.5"/>
<text class="s" transform="translate(675.40,89.15)" font-size="4.9" text-anchor="start" fill="#1a1a1a">0.4</text>
<line x1="672.80" y1="59.70" x2="674.30" y2="59.70" stroke="#222" stroke-width="0.5"/>
<text class="s" transform="translate(675.40,61.45)" font-size="4.9" text-anchor="start" fill="#1a1a1a">0.6</text>
<line x1="672.80" y1="32.00" x2="674.30" y2="32.00" stroke="#222" stroke-width="0.5"/>
<text class="s" transform="translate(675.40,33.75)" font-size="4.9" text-anchor="start" fill="#1a1a1a">0.8</text>
<defs><linearGradient id="cb_Reds_667_190" x1="0" y1="0" x2="0" y2="1"><stop offset="0.000" stop-color="#68000d"/><stop offset="0.050" stop-color="#810610"/><stop offset="0.100" stop-color="#9a0c14"/><stop offset="0.150" stop-color="#ad1117"/><stop offset="0.200" stop-color="#bc151a"/><stop offset="0.250" stop-color="#cb181d"/><stop offset="0.300" stop-color="#da2623"/><stop offset="0.350" stop-color="#e83429"/><stop offset="0.400" stop-color="#f24532"/><stop offset="0.450" stop-color="#f6583e"/><stop offset="0.500" stop-color="#fb6a4a"/><stop offset="0.550" stop-color="#fb7a5a"/><stop offset="0.600" stop-color="#fc8a6a"/><stop offset="0.650" stop-color="#fc9a7c"/><stop offset="0.700" stop-color="#fcab8e"/><stop offset="0.750" stop-color="#fcbba1"/><stop offset="0.800" stop-color="#fdcab5"/><stop offset="0.850" stop-color="#fed9c8"/><stop offset="0.900" stop-color="#fee4d8"/><stop offset="0.950" stop-color="#ffede4"/><stop offset="1.000" stop-color="#fff5f0"/></linearGradient></defs>
<rect x="667.0" y="190.0" width="7" height="133.8" fill="url(#cb_Reds_667_190)"/>
<line x1="674.00" y1="324.20" x2="675.50" y2="324.20" stroke="#222" stroke-width="0.5"/>
<text class="s" transform="translate(676.60,325.95)" font-size="4.9" text-anchor="start" fill="#1a1a1a">0.0</text>
<line x1="674.00" y1="297.30" x2="675.50" y2="297.30" stroke="#222" stroke-width="0.5"/>
<text class="s" transform="translate(676.60,299.05)" font-size="4.9" text-anchor="start" fill="#1a1a1a">0.2</text>
<line x1="674.00" y1="270.40" x2="675.50" y2="270.40" stroke="#222" stroke-width="0.5"/>
<text class="s" transform="translate(676.60,272.15)" font-size="4.9" text-anchor="start" fill="#1a1a1a">0.4</text>
<line x1="674.00" y1="243.50" x2="675.50" y2="243.50" stroke="#222" stroke-width="0.5"/>
<text class="s" transform="translate(676.60,245.25)" font-size="4.9" text-anchor="start" fill="#1a1a1a">0.6</text>
<line x1="674.00" y1="216.60" x2="675.50" y2="216.60" stroke="#222" stroke-width="0.5"/>
<text class="s" transform="translate(676.60,218.35)" font-size="4.9" text-anchor="start" fill="#1a1a1a">0.8</text>
<text transform="translate(248.70,5.20)" font-size="7.4" text-anchor="middle" fill="#1a1a1a">MNN Alignments</text>
<text transform="translate(432.20,5.20)" font-size="7.4" text-anchor="middle" fill="#1a1a1a">scGALA Enhanced Alignments</text>
<text transform="translate(610.00,5.20)" font-size="7.5" text-anchor="middle" fill="#1a1a1a">scGALA Unique Alignments</text>
<text transform="translate(248.70,187.00)" font-size="7.4" text-anchor="middle" fill="#1a1a1a">MNN Alignments</text>
<text transform="translate(432.20,187.00)" font-size="7.4" text-anchor="middle" fill="#1a1a1a">scGALA Enhanced Alignments</text>
<text transform="translate(610.00,187.00)" font-size="7.5" text-anchor="middle" fill="#1a1a1a">scGALA Unique Alignments</text>
<text class="s" transform="translate(249.00,178.80)" font-size="4.6" text-anchor="middle" fill="#1a1a1a">ADT Dataset</text>
<text class="s" transform="translate(249.00,360.20)" font-size="4.6" text-anchor="middle" fill="#1a1a1a">ADT Dataset</text>
<text class="s" transform="translate(424.60,178.80)" font-size="4.6" text-anchor="middle" fill="#1a1a1a">ADT Dataset</text>
<text class="s" transform="translate(424.60,360.20)" font-size="4.6" text-anchor="middle" fill="#1a1a1a">ADT Dataset</text>
<text class="s" transform="translate(605.40,178.80)" font-size="4.6" text-anchor="middle" fill="#1a1a1a">ADT Dataset</text>
<text class="s" transform="translate(605.40,360.20)" font-size="4.6" text-anchor="middle" fill="#1a1a1a">ADT Dataset</text>
<text class="s" transform="translate(154.80,75.70) rotate(-90)" font-size="4.6" text-anchor="middle" fill="#1a1a1a">ATAC Dataset</text>
<text class="s" transform="translate(154.80,257.80) rotate(-90)" font-size="4.6" text-anchor="middle" fill="#1a1a1a">ATAC Dataset</text>
<text class="s" transform="translate(333.40,75.70) rotate(-90)" font-size="4.6" text-anchor="middle" fill="#1a1a1a">ATAC Dataset</text>
<text class="s" transform="translate(333.40,257.80) rotate(-90)" font-size="4.6" text-anchor="middle" fill="#1a1a1a">ATAC Dataset</text>
<text class="s" transform="translate(510.20,75.70) rotate(-90)" font-size="4.6" text-anchor="middle" fill="#1a1a1a">ATAC Dataset</text>
<text class="s" transform="translate(510.20,257.80) rotate(-90)" font-size="4.6" text-anchor="middle" fill="#1a1a1a">ATAC Dataset</text>
<text transform="translate(147.60,83.40) rotate(-90)" font-size="6.6" text-anchor="middle" fill="#1a1a1a">PBMC Multiome (P7)</text>
<text transform="translate(147.60,276.60) rotate(-90)" font-size="6.6" text-anchor="middle" fill="#1a1a1a">PBMC Multiome (P8)</text>
<text transform="translate(143.60,9.00)" font-size="11" text-anchor="start" fill="#1a1a1a">b</text>
<text transform="translate(-0.60,372.00)" font-size="11.5" text-anchor="start" fill="#1a1a1a">c</text>
<path d="M69.93,493.74h2.77V494.4h-2.77zM73.25,493.42h2.77V494.4h-2.77zM76.57,493.10h2.77V494.4h-2.77zM79.89,492.78h2.77V494.4h-2.77zM83.21,492.18h2.77V494.4h-2.77zM86.53,491.50h2.77V494.4h-2.77zM89.85,491.99h2.77V494.4h-2.77zM93.17,491.33h2.77V494.4h-2.77zM96.49,491.05h2.77V494.4h-2.77zM99.81,490.65h2.77V494.4h-2.77zM103.13,490.08h2.77V494.4h-2.77zM106.45,490.45h2.77V494.4h-2.77zM109.77,490.72h2.77V494.4h-2.77zM113.09,490.37h2.77V494.4h-2.77zM116.41,490.24h2.77V494.4h-2.77zM119.73,489.89h2.77V494.4h-2.77zM123.05,490.64h2.77V494.4h-2.77zM126.37,491.13h2.77V494.4h-2.77zM129.69,491.19h2.77V494.4h-2.77zM133.01,491.19h2.77V494.4h-2.77zM136.33,490.89h2.77V494.4h-2.77zM139.65,491.32h2.77V494.4h-2.77zM142.97,491.78h2.77V494.4h-2.77zM146.29,491.08h2.77V494.4h-2.77zM149.61,490.72h2.77V494.4h-2.77zM152.93,489.55h2.77V494.4h-2.77zM156.25,488.96h2.77V494.4h-2.77zM159.57,488.25h2.77V494.4h-2.77zM162.89,485.86h2.77V494.4h-2.77zM166.21,482.36h2.77V494.4h-2.77zM169.53,479.15h2.77V494.4h-2.77zM172.85,475.85h2.77V494.4h-2.77zM176.17,470.73h2.77V494.4h-2.77zM179.49,464.04h2.77V494.4h-2.77zM182.81,455.35h2.77V494.4h-2.77zM186.13,446.33h2.77V494.4h-2.77zM189.45,439.65h2.77V494.4h-2.77zM192.77,429.55h2.77V494.4h-2.77zM196.09,420.79h2.77V494.4h-2.77zM199.41,413.77h2.77V494.4h-2.77zM202.73,405.96h2.77V494.4h-2.77zM206.05,399.96h2.77V494.4h-2.77zM209.37,404.20h2.77V494.4h-2.77zM212.69,406.49h2.77V494.4h-2.77zM216.01,410.59h2.77V494.4h-2.77zM219.33,419.62h2.77V494.4h-2.77zM222.65,430.57h2.77V494.4h-2.77zM225.97,441.30h2.77V494.4h-2.77zM229.29,451.59h2.77V494.4h-2.77zM232.61,463.29h2.77V494.4h-2.77zM235.93,473.64h2.77V494.4h-2.77zM239.25,480.50h2.77V494.4h-2.77zM242.57,485.60h2.77V494.4h-2.77zM245.89,490.00h2.77V494.4h-2.77zM249.21,492.25h2.77V494.4h-2.77z" fill="#b1cbe7"/>
<path d="M119.73,489.52h2.77V489.89h-2.77zM123.05,490.04h2.77V490.64h-2.77zM126.37,490.90h2.77V491.13h-2.77zM136.33,490.18h2.77V490.89h-2.77zM139.65,490.10h2.77V491.32h-2.77zM142.97,490.38h2.77V491.78h-2.77zM146.29,489.63h2.77V491.08h-2.77zM149.61,489.26h2.77V490.72h-2.77zM152.93,487.99h2.77V489.55h-2.77zM156.25,487.34h2.77V488.96h-2.77zM159.57,486.65h2.77V488.25h-2.77zM162.89,483.78h2.77V485.86h-2.77zM166.21,479.66h2.77V482.36h-2.77zM169.53,475.50h2.77V479.15h-2.77zM172.85,470.86h2.77V475.85h-2.77zM176.17,464.14h2.77V470.73h-2.77zM179.49,455.63h2.77V464.04h-2.77zM182.81,444.91h2.77V455.35h-2.77zM186.13,433.46h2.77V446.33h-2.77zM189.45,423.48h2.77V439.65h-2.77zM192.77,409.66h2.77V429.55h-2.77zM196.09,398.08h2.77V420.79h-2.77zM199.41,388.77h2.77V413.77h-2.77zM202.73,381.07h2.77V405.96h-2.77zM206.05,374.09h2.77V399.96h-2.77zM209.37,380.30h2.77V404.20h-2.77zM212.69,385.07h2.77V406.49h-2.77zM216.01,391.02h2.77V410.59h-2.77zM219.33,403.98h2.77V419.62h-2.77zM222.65,418.63h2.77V430.57h-2.77zM225.97,431.44h2.77V441.30h-2.77zM229.29,445.87h2.77V451.59h-2.77zM232.61,459.37h2.77V463.29h-2.77zM235.93,470.65h2.77V473.64h-2.77zM239.25,479.00h2.77V480.50h-2.77zM242.57,485.18h2.77V485.60h-2.77z" fill="#f5aea8"/>
<rect x="31.4" y="365.5" width="230.6" height="128.89999999999998" fill="none" stroke="#333333" stroke-width="0.75"/>
<line x1="29.4" y1="494.40" x2="31.4" y2="494.40" stroke="#333333" stroke-width="0.6"/>
<text transform="translate(27.80,496.70)" font-size="6.6" text-anchor="end" fill="#1a1a1a">0</text>
<line x1="29.4" y1="477.50" x2="31.4" y2="477.50" stroke="#333333" stroke-width="0.6"/>
<text transform="translate(27.80,479.80)" font-size="6.6" text-anchor="end" fill="#1a1a1a">500</text>
<line x1="29.4" y1="460.60" x2="31.4" y2="460.60" stroke="#333333" stroke-width="0.6"/>
<text transform="translate(27.80,462.90)" font-size="6.6" text-anchor="end" fill="#1a1a1a">1000</text>
<line x1="29.4" y1="443.70" x2="31.4" y2="443.70" stroke="#333333" stroke-width="0.6"/>
<text transform="translate(27.80,446.00)" font-size="6.6" text-anchor="end" fill="#1a1a1a">1500</text>
<line x1="29.4" y1="426.80" x2="31.4" y2="426.80" stroke="#333333" stroke-width="0.6"/>
<text transform="translate(27.80,429.10)" font-size="6.6" text-anchor="end" fill="#1a1a1a">2000</text>
<line x1="29.4" y1="409.90" x2="31.4" y2="409.90" stroke="#333333" stroke-width="0.6"/>
<text transform="translate(27.80,412.20)" font-size="6.6" text-anchor="end" fill="#1a1a1a">2500</text>
<line x1="29.4" y1="393.00" x2="31.4" y2="393.00" stroke="#333333" stroke-width="0.6"/>
<text transform="translate(27.80,395.30)" font-size="6.6" text-anchor="end" fill="#1a1a1a">3000</text>
<line x1="29.4" y1="376.10" x2="31.4" y2="376.10" stroke="#333333" stroke-width="0.6"/>
<text transform="translate(27.80,378.40)" font-size="6.6" text-anchor="end" fill="#1a1a1a">3500</text>
<line x1="41.40" y1="494.4" x2="41.40" y2="496.4" stroke="#333333" stroke-width="0.6"/>
<text transform="translate(41.40,503.40)" font-size="6.6" text-anchor="middle" fill="#1a1a1a">0.1</text>
<line x1="84.50" y1="494.4" x2="84.50" y2="496.4" stroke="#333333" stroke-width="0.6"/>
<text transform="translate(84.50,503.40)" font-size="6.6" text-anchor="middle" fill="#1a1a1a">0.2</text>
<line x1="127.60" y1="494.4" x2="127.60" y2="496.4" stroke="#333333" stroke-width="0.6"/>
<text transform="translate(127.60,503.40)" font-size="6.6" text-anchor="middle" fill="#1a1a1a">0.3</text>
<line x1="170.70" y1="494.4" x2="170.70" y2="496.4" stroke="#333333" stroke-width="0.6"/>
<text transform="translate(170.70,503.40)" font-size="6.6" text-anchor="middle" fill="#1a1a1a">0.4</text>
<line x1="213.80" y1="494.4" x2="213.80" y2="496.4" stroke="#333333" stroke-width="0.6"/>
<text transform="translate(213.80,503.40)" font-size="6.6" text-anchor="middle" fill="#1a1a1a">0.5</text>
<line x1="256.90" y1="494.4" x2="256.90" y2="496.4" stroke="#333333" stroke-width="0.6"/>
<text transform="translate(256.90,503.40)" font-size="6.6" text-anchor="middle" fill="#1a1a1a">0.6</text>
<path d="M34.8,496.4 l1.6,-4.0 M36.8,496.4 l1.6,-4.0" stroke="#222" stroke-width="0.7" fill="none"/>
<text transform="translate(134.20,512.00)" font-size="6.2" text-anchor="middle" fill="#1a1a1a" letter-spacing="0.25">Spearman Correlation Between Aligned Cell Pairs</text>
<text transform="translate(7.90,430.95) rotate(-90)" font-size="6.0" text-anchor="middle" fill="#1a1a1a">Count</text>
<text transform="translate(173.80,371.90)" font-size="6.6" text-anchor="middle" fill="#1a1a1a">PBMC Multiome (P7)</text>
<rect x="34.2" y="368.6" width="92.2" height="18.69999999999999" rx="1.2" fill="#fff" stroke="#d4d4d4" stroke-width="0.5"/>
<text transform="translate(36.80,380.50)" font-size="5.6" text-anchor="start" fill="#1a1a1a" letter-spacing="0.35">scGALA</text>
<path d="M63.50,373.40 C62.10,373.50 61.80,374.40 61.80,376.10 L61.80,377.20 C61.80,378.00 61.30,378.20 60.50,378.30 C61.30,378.40 61.80,378.70 61.80,379.50 L61.80,380.60 C61.80,382.20 62.10,383.00 63.50,383.10" fill="none" stroke="#111" stroke-width="0.7"/>
<rect x="64.80" y="372.00" width="11" height="3.6" fill="#b1cbe7"/>
<rect x="64.80" y="381.00" width="11" height="3.2" fill="#f5aea8"/>
<text transform="translate(80.60,376.00)" font-size="5.6" text-anchor="start" fill="#1a1a1a">MNN</text>
<text transform="translate(80.60,384.90)" font-size="5.6" text-anchor="start" fill="#1a1a1a">scGALA Unique</text>
<path d="M348.00,494.02h2.90V494.4h-2.90zM351.45,493.76h2.90V494.4h-2.90zM354.90,493.50h2.90V494.4h-2.90zM358.35,493.25h2.90V494.4h-2.90zM361.80,493.05h2.90V494.4h-2.90zM365.25,492.91h2.90V494.4h-2.90zM368.70,492.74h2.90V494.4h-2.90zM372.15,492.55h2.90V494.4h-2.90zM375.60,492.43h2.90V494.4h-2.90zM379.05,492.34h2.90V494.4h-2.90zM382.50,492.20h2.90V494.4h-2.90zM385.95,491.92h2.90V494.4h-2.90zM389.40,491.67h2.90V494.4h-2.90zM392.85,491.54h2.90V494.4h-2.90zM396.30,491.41h2.90V494.4h-2.90zM399.75,491.29h2.90V494.4h-2.90zM403.20,491.17h2.90V494.4h-2.90zM406.65,491.27h2.90V494.4h-2.90zM410.10,491.36h2.90V494.4h-2.90zM413.55,491.46h2.90V494.4h-2.90zM417.00,491.51h2.90V494.4h-2.90zM420.45,491.51h2.90V494.4h-2.90zM423.90,491.46h2.90V494.4h-2.90zM427.35,490.98h2.90V494.4h-2.90zM430.80,490.50h2.90V494.4h-2.90zM434.25,489.95h2.90V494.4h-2.90zM437.70,489.74h2.90V494.4h-2.90zM441.15,489.46h2.90V494.4h-2.90zM444.60,488.06h2.90V494.4h-2.90zM448.05,485.68h2.90V494.4h-2.90zM451.50,481.92h2.90V494.4h-2.90zM454.95,475.86h2.90V494.4h-2.90zM458.40,471.10h2.90V494.4h-2.90zM461.85,462.73h2.90V494.4h-2.90zM465.30,455.47h2.90V494.4h-2.90zM468.75,446.77h2.90V494.4h-2.90zM472.20,436.24h2.90V494.4h-2.90zM475.65,426.99h2.90V494.4h-2.90zM479.10,417.76h2.90V494.4h-2.90zM482.55,409.74h2.90V494.4h-2.90zM486.00,404.51h2.90V494.4h-2.90zM489.45,402.25h2.90V494.4h-2.90zM492.90,399.82h2.90V494.4h-2.90zM496.35,396.54h2.90V494.4h-2.90zM499.80,397.33h2.90V494.4h-2.90zM503.25,400.76h2.90V494.4h-2.90zM506.70,406.08h2.90V494.4h-2.90zM510.15,412.43h2.90V494.4h-2.90zM513.60,422.19h2.90V494.4h-2.90zM517.05,432.98h2.90V494.4h-2.90zM520.50,447.45h2.90V494.4h-2.90zM523.95,459.84h2.90V494.4h-2.90zM527.40,470.25h2.90V494.4h-2.90zM530.85,477.70h2.90V494.4h-2.90zM534.30,485.32h2.90V494.4h-2.90zM537.75,489.94h2.90V494.4h-2.90zM541.20,492.32h2.90V494.4h-2.90zM544.65,493.68h2.90V494.4h-2.90z" fill="#b1cbe7"/>
<path d="M382.50,492.04h2.90V492.20h-2.90zM385.95,491.63h2.90V491.92h-2.90zM389.40,491.27h2.90V491.67h-2.90zM392.85,491.04h2.90V491.54h-2.90zM396.30,490.82h2.90V491.41h-2.90zM399.75,490.60h2.90V491.29h-2.90zM403.20,490.40h2.90V491.17h-2.90zM406.65,490.44h2.90V491.27h-2.90zM410.10,490.48h2.90V491.36h-2.90zM413.55,490.53h2.90V491.46h-2.90zM417.00,490.49h2.90V491.51h-2.90zM420.45,490.36h2.90V491.51h-2.90zM423.90,490.18h2.90V491.46h-2.90zM427.35,489.55h2.90V490.98h-2.90zM430.80,488.92h2.90V490.50h-2.90zM434.25,488.60h2.90V489.95h-2.90zM437.70,488.51h2.90V489.74h-2.90zM441.15,488.09h2.90V489.46h-2.90zM444.60,486.11h2.90V488.06h-2.90zM448.05,483.00h2.90V485.68h-2.90zM451.50,478.40h2.90V481.92h-2.90zM454.95,469.67h2.90V475.86h-2.90zM458.40,462.45h2.90V471.10h-2.90zM461.85,450.99h2.90V462.73h-2.90zM465.30,441.07h2.90V455.47h-2.90zM468.75,429.86h2.90V446.77h-2.90zM472.20,416.86h2.90V436.24h-2.90zM475.65,405.33h2.90V426.99h-2.90zM479.10,393.16h2.90V417.76h-2.90zM482.55,384.06h2.90V409.74h-2.90zM486.00,379.11h2.90V404.51h-2.90zM489.45,376.49h2.90V402.25h-2.90zM492.90,375.88h2.90V399.82h-2.90zM496.35,374.33h2.90V396.54h-2.90zM499.80,376.42h2.90V397.33h-2.90zM503.25,381.08h2.90V400.76h-2.90zM506.70,388.68h2.90V406.08h-2.90zM510.15,397.99h2.90V412.43h-2.90zM513.60,409.80h2.90V422.19h-2.90zM517.05,423.12h2.90V432.98h-2.90zM520.50,441.06h2.90V447.45h-2.90zM523.95,454.68h2.90V459.84h-2.90zM527.40,467.28h2.90V470.25h-2.90zM530.85,475.82h2.90V477.70h-2.90zM534.30,484.28h2.90V485.32h-2.90z" fill="#f5aea8"/>
<rect x="307.4" y="366.2" width="245.60000000000002" height="128.2" fill="none" stroke="#333333" stroke-width="0.75"/>
<line x1="305.4" y1="494.40" x2="307.4" y2="494.40" stroke="#333333" stroke-width="0.6"/>
<text transform="translate(303.80,496.70)" font-size="6.6" text-anchor="end" fill="#1a1a1a">0</text>
<line x1="305.4" y1="475.15" x2="307.4" y2="475.15" stroke="#333333" stroke-width="0.6"/>
<text transform="translate(303.80,477.45)" font-size="6.6" text-anchor="end" fill="#1a1a1a">500</text>
<line x1="305.4" y1="455.90" x2="307.4" y2="455.90" stroke="#333333" stroke-width="0.6"/>
<text transform="translate(303.80,458.20)" font-size="6.6" text-anchor="end" fill="#1a1a1a">1000</text>
<line x1="305.4" y1="436.65" x2="307.4" y2="436.65" stroke="#333333" stroke-width="0.6"/>
<text transform="translate(303.80,438.95)" font-size="6.6" text-anchor="end" fill="#1a1a1a">1500</text>
<line x1="305.4" y1="417.40" x2="307.4" y2="417.40" stroke="#333333" stroke-width="0.6"/>
<text transform="translate(303.80,419.70)" font-size="6.6" text-anchor="end" fill="#1a1a1a">2000</text>
<line x1="305.4" y1="398.15" x2="307.4" y2="398.15" stroke="#333333" stroke-width="0.6"/>
<text transform="translate(303.80,400.45)" font-size="6.6" text-anchor="end" fill="#1a1a1a">2500</text>
<line x1="305.4" y1="378.90" x2="307.4" y2="378.90" stroke="#333333" stroke-width="0.6"/>
<text transform="translate(303.80,381.20)" font-size="6.6" text-anchor="end" fill="#1a1a1a">3000</text>
<line x1="318.40" y1="494.4" x2="318.40" y2="496.4" stroke="#333333" stroke-width="0.6"/>
<text transform="translate(318.40,503.40)" font-size="6.6" text-anchor="middle" fill="#1a1a1a">0.1</text>
<line x1="361.40" y1="494.4" x2="361.40" y2="496.4" stroke="#333333" stroke-width="0.6"/>
<text transform="translate(361.40,503.40)" font-size="6.6" text-anchor="middle" fill="#1a1a1a">0.2</text>
<line x1="404.40" y1="494.4" x2="404.40" y2="496.4" stroke="#333333" stroke-width="0.6"/>
<text transform="translate(404.40,503.40)" font-size="6.6" text-anchor="middle" fill="#1a1a1a">0.3</text>
<line x1="447.40" y1="494.4" x2="447.40" y2="496.4" stroke="#333333" stroke-width="0.6"/>
<text transform="translate(447.40,503.40)" font-size="6.6" text-anchor="middle" fill="#1a1a1a">0.4</text>
<line x1="490.40" y1="494.4" x2="490.40" y2="496.4" stroke="#333333" stroke-width="0.6"/>
<text transform="translate(490.40,503.40)" font-size="6.6" text-anchor="middle" fill="#1a1a1a">0.5</text>
<line x1="533.40" y1="494.4" x2="533.40" y2="496.4" stroke="#333333" stroke-width="0.6"/>
<text transform="translate(533.40,503.40)" font-size="6.6" text-anchor="middle" fill="#1a1a1a">0.6</text>
<path d="M310.79999999999995,496.4 l1.6,-4.0 M312.79999999999995,496.4 l1.6,-4.0" stroke="#222" stroke-width="0.7" fill="none"/>
<text transform="translate(423.40,512.00)" font-size="6.2" text-anchor="middle" fill="#1a1a1a" letter-spacing="0.25">Spearman Correlation Between Aligned Cell Pairs</text>
<text transform="translate(285.00,431.30) rotate(-90)" font-size="6.0" text-anchor="middle" fill="#1a1a1a">Count</text>
<text transform="translate(438.70,371.60)" font-size="6.6" text-anchor="middle" fill="#1a1a1a">PBMC Multiome (P8)</text>
<rect x="311" y="369" width="92" height="19" rx="1.2" fill="#fff" stroke="#d4d4d4" stroke-width="0.5"/>
<text transform="translate(313.60,380.90)" font-size="5.6" text-anchor="start" fill="#1a1a1a" letter-spacing="0.35">scGALA</text>
<path d="M340.30,373.80 C338.90,373.90 338.60,374.80 338.60,376.50 L338.60,377.60 C338.60,378.40 338.10,378.60 337.30,378.70 C338.10,378.80 338.60,379.10 338.60,379.90 L338.60,381.00 C338.60,382.60 338.90,383.40 340.30,383.50" fill="none" stroke="#111" stroke-width="0.7"/>
<rect x="341.60" y="372.40" width="11" height="3.6" fill="#b1cbe7"/>
<rect x="341.60" y="381.40" width="11" height="3.2" fill="#f5aea8"/>
<text transform="translate(357.40,376.40)" font-size="5.6" text-anchor="start" fill="#1a1a1a">MNN</text>
<text transform="translate(357.40,385.30)" font-size="5.6" text-anchor="start" fill="#1a1a1a">scGALA Unique</text>
<path d="M671.94,406.39 A45.9,45.9 0 1 1 628.20,374.40 L628.20,397.40 A22.9,22.9 0 1 0 650.02,413.36 Z" fill="#92b8df" stroke="#444" stroke-width="0.5"/>
<path d="M633.75,366.81 A45.9,45.9 0 0 1 677.49,398.80 L655.57,405.77 A22.9,22.9 0 0 0 633.75,389.81 Z" fill="#f1958a" stroke="#444" stroke-width="0.5"/>
<text class="s" transform="translate(651.80,385.40)" font-size="5.0" text-anchor="middle" fill="#1a1a1a">20.1%</text>
<text class="s" transform="translate(606.00,448.00)" font-size="5.0" text-anchor="middle" fill="#1a1a1a">79.9%</text>
<text class="s" transform="translate(628.50,418.80)" font-size="4.9" text-anchor="middle" fill="#1a1a1a">scGALA</text>
<text class="s" transform="translate(628.50,424.60)" font-size="4.9" text-anchor="middle" fill="#1a1a1a">Alignments</text>
<text transform="translate(630.00,471.80)" font-size="6.4" text-anchor="middle" fill="#1a1a1a">PBMC Multiome (P8)</text>
<rect x="594" y="475.6" width="70.3" height="19.3" rx="1.2" fill="#fff" stroke="#333" stroke-width="0.5"/>
<rect x="596.4" y="480" width="13.2" height="3.4" fill="#f1958a" stroke="#333" stroke-width="0.35"/>
<rect x="596.4" y="487.6" width="13.2" height="3.4" fill="#92b8df" stroke="#333" stroke-width="0.35"/>
<text transform="translate(617.00,484.00)" font-size="6.0" text-anchor="start" fill="#1a1a1a">scGALA Unique</text>
<text transform="translate(617.00,491.70)" font-size="6.0" text-anchor="start" fill="#1a1a1a">MNN</text>
<text transform="translate(575.80,372.90)" font-size="11" text-anchor="start" fill="#1a1a1a">d</text>
<text transform="translate(-0.60,527.40)" font-size="11.5" text-anchor="start" fill="#1a1a1a">e</text>
<line x1="38.60" y1="521.0" x2="38.60" y2="657.7" stroke="#c4c4c4" stroke-width="0.55"/>
<line x1="31.4" y1="651.50" x2="197.5" y2="651.50" stroke="#c4c4c4" stroke-width="0.55"/>
<line x1="68.80" y1="521.0" x2="68.80" y2="657.7" stroke="#c4c4c4" stroke-width="0.55"/>
<line x1="31.4" y1="626.64" x2="197.5" y2="626.64" stroke="#c4c4c4" stroke-width="0.55"/>
<line x1="99.00" y1="521.0" x2="99.00" y2="657.7" stroke="#c4c4c4" stroke-width="0.55"/>
<line x1="31.4" y1="601.78" x2="197.5" y2="601.78" stroke="#c4c4c4" stroke-width="0.55"/>
<line x1="129.20" y1="521.0" x2="129.20" y2="657.7" stroke="#c4c4c4" stroke-width="0.55"/>
<line x1="31.4" y1="576.92" x2="197.5" y2="576.92" stroke="#c4c4c4" stroke-width="0.55"/>
<line x1="159.40" y1="521.0" x2="159.40" y2="657.7" stroke="#c4c4c4" stroke-width="0.55"/>
<line x1="31.4" y1="552.06" x2="197.5" y2="552.06" stroke="#c4c4c4" stroke-width="0.55"/>
<line x1="189.60" y1="521.0" x2="189.60" y2="657.7" stroke="#c4c4c4" stroke-width="0.55"/>
<line x1="31.4" y1="527.20" x2="197.5" y2="527.20" stroke="#c4c4c4" stroke-width="0.55"/>
<line x1="38.60" y1="651.50" x2="189.60" y2="527.20" stroke="#111" stroke-width="0.95" stroke-dasharray="2.4,1.3"/>
<path d="M38.60,651.50 L38.60,649.50 L38.60,647.50 L38.61,645.50 L38.62,643.50 L38.64,641.49 L38.67,639.49 L38.71,637.49 L38.76,635.49 L38.84,633.49 L38.94,631.49 L39.06,629.49 L39.20,627.49 L39.38,625.48 L39.59,623.48 L39.83,621.48 L40.12,619.48 L40.44,617.48 L40.81,615.48 L41.23,613.48 L41.69,611.48 L42.22,609.47 L42.80,607.47 L43.44,605.47 L44.15,603.47 L44.92,601.47 L45.76,599.47 L46.68,597.47 L47.68,595.47 L48.76,593.46 L49.92,591.46 L189.60,527.20" fill="none" stroke="#4d62c8" stroke-width="0.8" stroke-linejoin="round"/>
<path d="M38.60,651.50 L38.60,649.43 L38.60,647.36 L38.61,645.28 L38.62,643.21 L38.63,641.14 L38.66,639.07 L38.69,637.00 L38.75,634.93 L38.81,632.86 L38.90,630.78 L39.00,628.71 L39.13,626.64 L39.29,624.57 L39.47,622.50 L39.68,620.42 L39.93,618.35 L40.22,616.28 L40.54,614.21 L40.91,612.14 L41.32,610.07 L41.78,608.00 L42.29,605.92 L42.86,603.85 L43.48,601.78 L44.16,599.71 L44.90,597.64 L45.71,595.57 L46.59,593.49 L47.54,591.42 L48.57,589.35 L189.60,527.20" fill="none" stroke="#2a9a48" stroke-width="0.8" stroke-linejoin="round"/>
<path d="M38.60,651.50 L38.60,649.13 L38.60,646.76 L38.60,644.39 L38.60,642.02 L38.60,639.65 L38.60,637.28 L38.61,634.91 L38.61,632.54 L38.62,630.17 L38.63,627.80 L38.65,625.43 L38.67,623.06 L38.70,620.69 L38.74,618.32 L38.79,615.95 L38.86,613.58 L38.94,611.21 L39.04,608.84 L39.16,606.47 L39.31,604.10 L39.48,601.73 L39.68,599.36 L39.92,596.99 L40.20,594.62 L40.53,592.25 L40.90,589.88 L41.33,587.51 L41.81,585.14 L42.36,582.77 L42.98,580.40 L189.60,527.20" fill="none" stroke="#e8282b" stroke-width="0.8" stroke-linejoin="round"/>
<rect x="31.4" y="521.0" width="166.1" height="136.70000000000005" fill="none" stroke="#333333" stroke-width="0.7"/>
<line x1="38.60" y1="657.7" x2="38.60" y2="659.3000000000001" stroke="#333333" stroke-width="0.5"/>
<text class="s" transform="translate(38.60,664.50)" font-size="4.8" text-anchor="middle" fill="#1a1a1a">0.0</text>
<line x1="29.799999999999997" y1="651.50" x2="31.4" y2="651.50" stroke="#333333" stroke-width="0.5"/>
<text class="s" transform="translate(28.20,653.25)" font-size="4.8" text-anchor="end" fill="#1a1a1a">0.0</text>
<line x1="68.80" y1="657.7" x2="68.80" y2="659.3000000000001" stroke="#333333" stroke-width="0.5"/>
<text class="s" transform="translate(68.80,664.50)" font-size="4.8" text-anchor="middle" fill="#1a1a1a">0.2</text>
<line x1="29.799999999999997" y1="626.64" x2="31.4" y2="626.64" stroke="#333333" stroke-width="0.5"/>
<text class="s" transform="translate(28.20,628.39)" font-size="4.8" text-anchor="end" fill="#1a1a1a">0.2</text>
<line x1="99.00" y1="657.7" x2="99.00" y2="659.3000000000001" stroke="#333333" stroke-width="0.5"/>
<text class="s" transform="translate(99.00,664.50)" font-size="4.8" text-anchor="middle" fill="#1a1a1a">0.4</text>
<line x1="29.799999999999997" y1="601.78" x2="31.4" y2="601.78" stroke="#333333" stroke-width="0.5"/>
<text class="s" transform="translate(28.20,603.53)" font-size="4.8" text-anchor="end" fill="#1a1a1a">0.4</text>
<line x1="129.20" y1="657.7" x2="129.20" y2="659.3000000000001" stroke="#333333" stroke-width="0.5"/>
<text class="s" transform="translate(129.20,664.50)" font-size="4.8" text-anchor="middle" fill="#1a1a1a">0.6</text>
<line x1="29.799999999999997" y1="576.92" x2="31.4" y2="576.92" stroke="#333333" stroke-width="0.5"/>
<text class="s" transform="translate(28.20,578.67)" font-size="4.8" text-anchor="end" fill="#1a1a1a">0.6</text>
<line x1="159.40" y1="657.7" x2="159.40" y2="659.3000000000001" stroke="#333333" stroke-width="0.5"/>
<text class="s" transform="translate(159.40,664.50)" font-size="4.8" text-anchor="middle" fill="#1a1a1a">0.8</text>
<line x1="29.799999999999997" y1="552.06" x2="31.4" y2="552.06" stroke="#333333" stroke-width="0.5"/>
<text class="s" transform="translate(28.20,553.81)" font-size="4.8" text-anchor="end" fill="#1a1a1a">0.8</text>
<line x1="189.60" y1="657.7" x2="189.60" y2="659.3000000000001" stroke="#333333" stroke-width="0.5"/>
<text class="s" transform="translate(189.60,664.50)" font-size="4.8" text-anchor="middle" fill="#1a1a1a">1.0</text>
<line x1="29.799999999999997" y1="527.20" x2="31.4" y2="527.20" stroke="#333333" stroke-width="0.5"/>
<text class="s" transform="translate(28.20,528.95)" font-size="4.8" text-anchor="end" fill="#1a1a1a">1.0</text>
<text class="s" transform="translate(114.45,518.20)" font-size="5.4" text-anchor="middle" fill="#1a1a1a">ROC Curve</text>
<text class="s" transform="translate(114.45,671.20)" font-size="4.8" text-anchor="middle" fill="#1a1a1a">False Positive Rate</text>
<rect x="104.4" y="626.6" width="91.19999999999999" height="28.399999999999977" rx="1" fill="#fff" fill-opacity="0.9" stroke="#c4c4c4" stroke-width="0.55"/>
<line x1="106.20" y1="630.60" x2="115.80" y2="630.60" stroke="#4d62c8" stroke-width="0.8"/>
<text class="s" transform="translate(119.00,632.10)" font-size="4.9" text-anchor="start" fill="#1a1a1a">MNN (AUROC= 0.716)</text>
<line x1="106.20" y1="637.51" x2="115.80" y2="637.51" stroke="#2a9a48" stroke-width="0.8"/>
<text class="s" transform="translate(119.00,639.01)" font-size="4.9" text-anchor="start" fill="#1a1a1a">scGALA (AUROC= 0.735)</text>
<line x1="106.20" y1="644.42" x2="115.80" y2="644.42" stroke="#e8282b" stroke-width="0.8"/>
<text class="s" transform="translate(119.00,645.92)" font-size="4.9" text-anchor="start" fill="#1a1a1a">scGALA Unique (AUROC= 0.774)</text>
<line x1="106.20" y1="651.33" x2="115.80" y2="651.33" stroke="#222" stroke-width="0.8" stroke-dasharray="1.8,1.1"/>
<text class="s" transform="translate(119.00,652.83)" font-size="4.9" text-anchor="start" fill="#1a1a1a">Random</text>
<text transform="translate(12.70,590.00) rotate(-90)" font-size="6.6" text-anchor="middle" fill="#1a1a1a">PBMC Multiome (P7)</text>
<text class="s" transform="translate(18.70,589.50) rotate(-90)" font-size="5.0" text-anchor="middle" fill="#1a1a1a">True Positive Rate</text>
<line x1="38.60" y1="680.1" x2="38.60" y2="816.1" stroke="#c4c4c4" stroke-width="0.55"/>
<line x1="31.4" y1="810.40" x2="197.5" y2="810.40" stroke="#c4c4c4" stroke-width="0.55"/>
<line x1="68.80" y1="680.1" x2="68.80" y2="816.1" stroke="#c4c4c4" stroke-width="0.55"/>
<line x1="31.4" y1="785.36" x2="197.5" y2="785.36" stroke="#c4c4c4" stroke-width="0.55"/>
<line x1="99.00" y1="680.1" x2="99.00" y2="816.1" stroke="#c4c4c4" stroke-width="0.55"/>
<line x1="31.4" y1="760.32" x2="197.5" y2="760.32" stroke="#c4c4c4" stroke-width="0.55"/>
<line x1="129.20" y1="680.1" x2="129.20" y2="816.1" stroke="#c4c4c4" stroke-width="0.55"/>
<line x1="31.4" y1="735.28" x2="197.5" y2="735.28" stroke="#c4c4c4" stroke-width="0.55"/>
<line x1="159.40" y1="680.1" x2="159.40" y2="816.1" stroke="#c4c4c4" stroke-width="0.55"/>
<line x1="31.4" y1="710.24" x2="197.5" y2="710.24" stroke="#c4c4c4" stroke-width="0.55"/>
<line x1="189.60" y1="680.1" x2="189.60" y2="816.1" stroke="#c4c4c4" stroke-width="0.55"/>
<line x1="31.4" y1="685.20" x2="197.5" y2="685.20" stroke="#c4c4c4" stroke-width="0.55"/>
<line x1="38.60" y1="810.40" x2="189.60" y2="685.20" stroke="#111" stroke-width="0.95" stroke-dasharray="2.4,1.3"/>
<path d="M38.60,810.40 L38.60,808.61 L38.60,806.81 L38.61,805.02 L38.62,803.22 L38.64,801.43 L38.67,799.63 L38.71,797.84 L38.76,796.04 L38.83,794.25 L38.91,792.45 L39.02,790.66 L39.14,788.87 L39.29,787.07 L39.46,785.28 L39.66,783.48 L39.88,781.69 L40.14,779.89 L40.43,778.10 L40.75,776.30 L41.11,774.51 L41.50,772.71 L41.93,770.92 L42.41,769.13 L42.93,767.33 L43.49,765.54 L44.10,763.74 L44.76,761.95 L45.48,760.15 L46.24,758.36 L47.06,756.56 L189.60,685.20" fill="none" stroke="#2a9a48" stroke-width="0.8" stroke-linejoin="round"/>
<path d="M38.60,810.40 L38.60,808.50 L38.60,806.60 L38.61,804.70 L38.62,802.80 L38.64,800.91 L38.67,799.01 L38.71,797.11 L38.76,795.21 L38.83,793.31 L38.91,791.41 L39.02,789.51 L39.14,787.61 L39.29,785.71 L39.46,783.82 L39.66,781.92 L39.88,780.02 L40.14,778.12 L40.43,776.22 L40.75,774.32 L41.11,772.42 L41.50,770.52 L41.93,768.62 L42.41,766.73 L42.93,764.83 L43.49,762.93 L44.10,761.03 L44.76,759.13 L45.48,757.23 L46.24,755.33 L47.06,753.43 L189.60,685.20" fill="none" stroke="#4d62c8" stroke-width="0.8" stroke-linejoin="round"/>
<path d="M38.60,810.40 L38.60,808.32 L38.60,806.24 L38.60,804.17 L38.60,802.09 L38.61,800.01 L38.61,797.93 L38.62,795.85 L38.63,793.77 L38.65,791.70 L38.68,789.62 L38.72,787.54 L38.77,785.46 L38.83,783.38 L38.92,781.30 L39.02,779.23 L39.14,777.15 L39.29,775.07 L39.46,772.99 L39.67,770.91 L39.91,768.83 L40.20,766.76 L40.52,764.68 L40.90,762.60 L41.32,760.52 L41.80,758.44 L42.35,756.36 L42.96,754.29 L43.64,752.21 L44.40,750.13 L45.24,748.05 L189.60,685.20" fill="none" stroke="#e8282b" stroke-width="0.8" stroke-linejoin="round"/>
<rect x="31.4" y="680.1" width="166.1" height="136.0" fill="none" stroke="#333333" stroke-width="0.7"/>
<line x1="38.60" y1="816.1" x2="38.60" y2="817.7" stroke="#333333" stroke-width="0.5"/>
<text class="s" transform="translate(38.60,822.90)" font-size="4.8" text-anchor="middle" fill="#1a1a1a">0.0</text>
<line x1="29.799999999999997" y1="810.40" x2="31.4" y2="810.40" stroke="#333333" stroke-width="0.5"/>
<text class="s" transform="translate(28.20,812.15)" font-size="4.8" text-anchor="end" fill="#1a1a1a">0.0</text>
<line x1="68.80" y1="816.1" x2="68.80" y2="817.7" stroke="#333333" stroke-width="0.5"/>
<text class="s" transform="translate(68.80,822.90)" font-size="4.8" text-anchor="middle" fill="#1a1a1a">0.2</text>
<line x1="29.799999999999997" y1="785.36" x2="31.4" y2="785.36" stroke="#333333" stroke-width="0.5"/>
<text class="s" transform="translate(28.20,787.11)" font-size="4.8" text-anchor="end" fill="#1a1a1a">0.2</text>
<line x1="99.00" y1="816.1" x2="99.00" y2="817.7" stroke="#333333" stroke-width="0.5"/>
<text class="s" transform="translate(99.00,822.90)" font-size="4.8" text-anchor="middle" fill="#1a1a1a">0.4</text>
<line x1="29.799999999999997" y1="760.32" x2="31.4" y2="760.32" stroke="#333333" stroke-width="0.5"/>
<text class="s" transform="translate(28.20,762.07)" font-size="4.8" text-anchor="end" fill="#1a1a1a">0.4</text>
<line x1="129.20" y1="816.1" x2="129.20" y2="817.7" stroke="#333333" stroke-width="0.5"/>
<text class="s" transform="translate(129.20,822.90)" font-size="4.8" text-anchor="middle" fill="#1a1a1a">0.6</text>
<line x1="29.799999999999997" y1="735.28" x2="31.4" y2="735.28" stroke="#333333" stroke-width="0.5"/>
<text class="s" transform="translate(28.20,737.03)" font-size="4.8" text-anchor="end" fill="#1a1a1a">0.6</text>
<line x1="159.40" y1="816.1" x2="159.40" y2="817.7" stroke="#333333" stroke-width="0.5"/>
<text class="s" transform="translate(159.40,822.90)" font-size="4.8" text-anchor="middle" fill="#1a1a1a">0.8</text>
<line x1="29.799999999999997" y1="710.24" x2="31.4" y2="710.24" stroke="#333333" stroke-width="0.5"/>
<text class="s" transform="translate(28.20,711.99)" font-size="4.8" text-anchor="end" fill="#1a1a1a">0.8</text>
<line x1="189.60" y1="816.1" x2="189.60" y2="817.7" stroke="#333333" stroke-width="0.5"/>
<text class="s" transform="translate(189.60,822.90)" font-size="4.8" text-anchor="middle" fill="#1a1a1a">1.0</text>
<line x1="29.799999999999997" y1="685.20" x2="31.4" y2="685.20" stroke="#333333" stroke-width="0.5"/>
<text class="s" transform="translate(28.20,686.95)" font-size="4.8" text-anchor="end" fill="#1a1a1a">1.0</text>
<text class="s" transform="translate(114.45,676.80)" font-size="5.4" text-anchor="middle" fill="#1a1a1a">ROC Curve</text>
<text class="s" transform="translate(114.45,829.60)" font-size="4.8" text-anchor="middle" fill="#1a1a1a">False Positive Rate</text>
<rect x="32.2" y="681.2" width="87.6" height="29.59999999999991" rx="1" fill="#fff" fill-opacity="0.9" stroke="#c4c4c4" stroke-width="0.55"/>
<line x1="34.40" y1="685.20" x2="44.60" y2="685.20" stroke="#e8282b" stroke-width="0.8"/>
<text class="s" transform="translate(47.80,686.70)" font-size="4.3" text-anchor="start" fill="#1a1a1a">scGALA Unique (AUROC= 0.732)</text>
<line x1="34.40" y1="692.47" x2="44.60" y2="692.47" stroke="#2a9a48" stroke-width="0.8"/>
<text class="s" transform="translate(47.80,693.97)" font-size="4.3" text-anchor="start" fill="#1a1a1a">scGALA Enhanced (AUROC= 0.686)</text>
<line x1="34.40" y1="699.75" x2="44.60" y2="699.75" stroke="#4d62c8" stroke-width="0.8"/>
<text class="s" transform="translate(47.80,701.25)" font-size="4.3" text-anchor="start" fill="#1a1a1a">MNN (AUROC= 0.710)</text>
<line x1="34.40" y1="707.02" x2="44.60" y2="707.02" stroke="#222" stroke-width="0.8" stroke-dasharray="1.8,1.1"/>
<text class="s" transform="translate(47.80,708.52)" font-size="4.3" text-anchor="start" fill="#1a1a1a">Random</text>
<text transform="translate(12.70,749.00) rotate(-90)" font-size="6.6" text-anchor="middle" fill="#1a1a1a">PBMC Multiome (P8)</text>
<text class="s" transform="translate(18.70,749.00) rotate(-90)" font-size="5.0" text-anchor="middle" fill="#1a1a1a">True Positive Rate</text>
<defs>
<filter id="rough" x="-5%" y="-5%" width="110%" height="110%"><feTurbulence type="fractalNoise" baseFrequency="1.6" numOctaves="1" seed="3" result="n"/><feDisplacementMap in="SourceGraphic" in2="n" scale="1.3" xChannelSelector="R" yChannelSelector="G"/></filter>
<g id="tu"><path d="M317.2,578.3C317.2,579.6 316.0,583.0 315.1,584.7C314.3,586.4 313.6,587.1 311.8,588.4C310.1,589.6 306.7,591.5 304.8,592.0C302.8,592.6 302.2,592.0 300.0,591.7C297.8,591.4 293.2,591.1 291.5,590.2C289.9,589.4 290.6,587.7 290.2,586.4C289.9,585.2 289.0,584.2 289.4,582.9C289.8,581.6 290.4,579.9 292.6,578.7C294.8,577.5 300.2,576.3 302.4,575.5C304.6,574.8 304.0,574.2 306.0,574.4C308.0,574.6 312.7,576.1 314.6,576.8C316.5,577.5 317.1,577.0 317.2,578.3Z" fill="#d62728"/><path d="M308.5,591.0h0.01M317.2,580.9h0.01M290.0,590.8h0.01M306.8,591.2h0.01M308.4,591.2h0.01M301.9,591.8h0.01M308.8,573.4h0.01M292.5,579.6h0.01M319.5,578.2h0.01M315.1,586.2h0.01M297.5,575.0h0.01M315.7,576.1h0.01M308.3,573.1h0.01M300.4,593.4h0.01M313.4,573.3h0.01M287.4,587.5h0.01M317.2,581.2h0.01M305.0,573.9h0.01M312.4,589.3h0.01M295.8,575.8h0.01" stroke="#d62728" stroke-width="0.7" stroke-linecap="round"/>
<path d="M318.1,571.4C317.9,572.4 316.4,572.1 315.3,572.8C314.3,573.4 312.8,575.4 311.8,575.5C310.7,575.6 309.8,574.1 309.1,573.3C308.3,572.5 307.2,571.4 307.2,570.6C307.3,569.7 308.7,568.8 309.6,568.1C310.4,567.5 311.0,566.8 312.2,566.6C313.4,566.5 315.8,566.4 316.8,567.2C317.8,568.0 318.4,570.5 318.1,571.4Z" fill="#9467bd"/><path d="M317.4,569.2h0.01M307.6,572.2h0.01M316.8,571.6h0.01M307.4,571.7h0.01M308.0,574.3h0.01M307.0,569.9h0.01" stroke="#9467bd" stroke-width="0.7" stroke-linecap="round"/>
<path d="M316.6,578.2L334.1,567.7M297.3,571.2L307.8,569.4" stroke="#c5b0d5" stroke-width="1.3" stroke-linecap="round"/>
<path d="M336.2,565.6C336.3,565.8 336.4,566.2 336.1,566.6C335.8,567.0 334.9,567.5 334.4,567.9C333.9,568.3 333.6,568.7 333.2,568.9C332.7,569.1 332.0,569.0 331.7,568.8C331.3,568.7 331.0,568.3 331.1,568.0C331.1,567.7 331.6,567.2 332.0,566.9C332.4,566.5 333.0,566.3 333.6,566.0C334.2,565.7 335.1,565.2 335.5,565.1C335.9,565.1 336.1,565.3 336.2,565.6Z" fill="#f7b6d2"/>
<path d="M295.7,571.2C295.6,571.8 295.3,572.4 294.8,572.8C294.3,573.2 293.7,573.6 292.6,573.7C291.6,573.7 289.0,573.5 288.3,573.0C287.6,572.6 288.1,571.8 288.3,571.2C288.5,570.7 288.8,570.1 289.4,569.8C289.9,569.5 290.7,569.5 291.7,569.4C292.7,569.3 294.7,568.9 295.3,569.2C296.0,569.6 295.8,570.6 295.7,571.2Z" fill="#d62728"/><path d="M294.5,568.9h0.01M293.5,569.1h0.01M290.3,573.9h0.01M291.5,568.5h0.01M295.2,569.8h0.01" stroke="#d62728" stroke-width="0.7" stroke-linecap="round"/>
<path d="M294.8,567.9C294.9,568.2 294.7,568.5 294.4,568.7C294.1,568.9 293.5,569.0 293.2,569.0C292.9,569.1 292.7,569.0 292.4,568.8C292.0,568.7 291.4,568.3 291.3,568.1C291.1,567.9 291.5,567.7 291.7,567.5C291.9,567.3 291.9,567.2 292.2,567.1C292.5,567.0 293.0,566.9 293.3,566.9C293.6,566.9 293.8,567.1 294.0,567.2C294.3,567.4 294.8,567.7 294.8,567.9Z" fill="#2ca02c"/>
<path d="M306.8,545.6C306.7,546.2 305.4,546.6 304.9,547.0C304.3,547.5 304.0,548.2 303.2,548.3C302.3,548.4 300.5,548.0 299.7,547.6C299.0,547.1 298.6,546.2 298.5,545.4C298.5,544.7 298.8,543.6 299.5,543.2C300.2,542.7 301.8,542.6 302.8,542.6C303.8,542.6 304.8,542.7 305.4,543.2C306.1,543.7 306.9,544.9 306.8,545.6Z" fill="#ff7f0e"/><path d="M304.0,548.2h0.01M303.9,542.6h0.01M304.0,542.2h0.01M304.7,542.9h0.01" stroke="#ff7f0e" stroke-width="0.7" stroke-linecap="round"/>
<path d="M314.8,547.9C314.8,548.5 313.9,549.2 313.2,549.7C312.5,550.2 311.4,550.6 310.3,550.7C309.3,550.8 308.0,550.7 307.2,550.3C306.3,549.9 305.3,549.0 305.3,548.4C305.3,547.8 306.2,547.2 307.1,546.6C307.9,546.0 309.2,544.7 310.3,544.6C311.3,544.5 312.5,545.5 313.2,546.0C314.0,546.6 314.8,547.3 314.8,547.9Z" fill="#1f77b4"/><path d="M305.8,545.4h0.01M305.4,546.6h0.01M315.5,547.6h0.01M313.9,545.7h0.01M313.6,550.2h0.01" stroke="#1f77b4" stroke-width="0.7" stroke-linecap="round"/>
<path d="M309.8,549.9C309.9,550.2 309.5,550.6 309.1,550.8C308.8,551.1 308.2,551.2 307.6,551.2C307.0,551.2 306.0,551.1 305.5,551.0C305.0,550.8 304.7,550.7 304.6,550.4C304.4,550.2 304.4,549.8 304.5,549.5C304.7,549.3 304.9,548.9 305.3,548.7C305.7,548.6 306.5,548.7 307.0,548.7C307.5,548.8 308.0,548.9 308.4,549.0C308.9,549.2 309.7,549.6 309.8,549.9Z" fill="#2ca02c"/>
<path d="M317.1,560.6C317.2,560.8 317.3,561.1 317.1,561.2C317.0,561.4 316.7,561.5 316.4,561.5C316.1,561.6 315.6,561.4 315.4,561.3C315.1,561.2 314.9,561.1 314.8,560.9C314.7,560.8 314.8,560.6 314.9,560.4C315.0,560.2 315.2,559.8 315.5,559.7C315.7,559.6 316.0,559.7 316.3,559.7C316.5,559.8 316.6,559.9 316.7,560.0C316.9,560.1 317.1,560.4 317.1,560.6Z" fill="#1f77b4"/>
<path d="M318.7,561.8C318.7,562.0 318.5,562.1 318.4,562.3C318.3,562.4 318.1,562.7 317.9,562.7C317.7,562.7 317.5,562.5 317.4,562.4C317.2,562.3 317.1,562.2 317.0,562.1C316.9,561.9 316.7,561.7 316.8,561.5C316.9,561.4 317.3,561.3 317.5,561.2C317.7,561.1 317.9,561.0 318.1,561.0C318.2,561.0 318.3,561.2 318.4,561.3C318.5,561.4 318.7,561.7 318.7,561.8Z" fill="#ff7f0e"/>
<path d="M282.1,561.8C281.6,562.3 279.4,562.7 277.9,562.8C276.3,562.9 274.8,562.8 272.9,562.6C270.9,562.3 268.9,561.8 266.3,561.1C263.7,560.4 258.8,559.0 257.5,558.3C256.2,557.7 258.5,557.7 258.5,557.2C258.5,556.6 255.9,555.2 257.4,555.2C259.0,555.1 264.3,556.4 267.5,556.8C270.7,557.2 274.6,557.3 276.8,557.8C279.0,558.3 279.7,559.3 280.6,560.0C281.5,560.7 282.6,561.4 282.1,561.8Z" fill="#aec7e8"/><path d="M275.5,562.6h0.01M257.9,556.3h0.01M273.6,562.6h0.01M282.5,562.5h0.01M255.6,557.4h0.01M255.7,555.9h0.01M255.5,556.2h0.01M257.2,557.3h0.01M284.8,562.4h0.01M277.7,558.3h0.01M264.0,560.5h0.01M266.1,561.0h0.01M271.4,556.8h0.01M277.4,558.6h0.01" stroke="#aec7e8" stroke-width="0.7" stroke-linecap="round"/>
<path d="M282.5,555.6C282.3,556.1 280.2,556.8 279.3,557.3C278.4,557.7 278.4,558.0 277.1,558.3C275.8,558.6 272.9,559.3 271.7,559.2C270.4,559.1 269.8,558.3 269.7,557.8C269.7,557.3 270.4,556.6 271.3,556.2C272.1,555.8 273.6,555.5 275.1,555.2C276.6,554.9 279.1,554.2 280.3,554.3C281.6,554.3 282.6,555.1 282.5,555.6Z" fill="#aec7e8"/>
<path d="M295.2,560.7C295.5,561.2 294.9,562.6 294.1,563.1C293.2,563.6 291.4,563.6 290.2,563.7C289.0,563.9 287.7,564.2 286.6,564.1C285.6,564.0 284.3,563.5 283.8,563.1C283.2,562.7 283.3,562.2 283.5,561.7C283.7,561.2 283.9,560.7 284.9,560.2C286.0,559.7 288.7,559.0 289.9,558.9C291.1,558.8 291.0,559.3 291.9,559.6C292.8,559.9 294.8,560.1 295.2,560.7Z" fill="#98df8a"/><path d="M293.3,563.7h0.01M290.8,558.6h0.01M291.4,558.7h0.01M295.3,559.9h0.01M288.6,564.9h0.01M281.3,563.1h0.01" stroke="#98df8a" stroke-width="0.7" stroke-linecap="round"/>
<path d="M269.8,555.1C269.8,555.7 269.5,557.1 268.9,557.5C268.4,557.8 267.3,557.4 266.5,557.3C265.6,557.2 264.3,557.3 263.7,557.0C263.1,556.7 262.9,556.1 262.9,555.5C262.9,555.0 263.1,554.0 263.7,553.6C264.2,553.3 265.2,553.5 266.0,553.6C266.8,553.7 267.9,553.9 268.5,554.2C269.2,554.4 269.7,554.6 269.8,555.1Z" fill="#ffbb78"/><path d="M266.1,558.0h0.01M264.2,553.8h0.01M262.9,554.6h0.01" stroke="#ffbb78" stroke-width="0.7" stroke-linecap="round"/>
<path d="M259.8,556.7C259.8,557.2 259.5,557.6 258.9,557.9C258.3,558.1 257.1,558.2 256.1,558.2C255.2,558.2 254.0,558.2 253.2,557.9C252.5,557.6 251.7,556.7 251.8,556.2C251.9,555.8 252.9,555.5 253.8,555.2C254.6,555.0 256.0,554.6 256.8,554.6C257.7,554.6 258.4,554.7 258.9,555.1C259.4,555.4 259.8,556.3 259.8,556.7Z" fill="#bcbd22" opacity="0.9"/>
<path d="M256.1,559.1C256.1,560.0 255.9,561.3 255.2,562.3C254.5,563.3 253.2,564.5 251.9,565.1C250.6,565.7 248.6,566.1 247.2,566.0C245.8,566.0 244.6,565.5 243.6,564.9C242.6,564.2 241.6,563.2 241.3,562.2C241.1,561.1 241.4,559.8 242.1,558.7C242.8,557.6 244.1,556.2 245.3,555.6C246.5,555.0 247.8,554.8 249.5,555.0C251.1,555.2 253.8,556.1 254.9,556.8C256.1,557.5 256.1,558.2 256.1,559.1Z" fill="#e377c2"/><path d="M256.9,560.1h0.01M241.9,558.1h0.01M250.5,565.5h0.01M248.8,566.6h0.01M244.2,565.9h0.01M241.4,557.0h0.01M247.1,565.6h0.01M257.5,558.1h0.01M249.6,555.0h0.01M249.9,565.5h0.01" stroke="#e377c2" stroke-width="0.7" stroke-linecap="round"/>
<path d="M247.1,566.2C247.1,567.3 245.3,568.8 244.3,569.9C243.3,570.9 242.5,571.9 241.2,572.3C239.9,572.7 237.8,572.4 236.4,572.4C235.1,572.4 234.2,572.8 233.2,572.3C232.3,571.8 230.9,570.3 230.6,569.4C230.3,568.5 230.7,567.9 231.5,566.9C232.2,565.9 233.8,564.2 235.2,563.5C236.6,562.8 238.3,562.6 239.8,562.6C241.2,562.5 242.7,562.7 243.9,563.3C245.1,564.0 247.0,565.2 247.1,566.2Z" fill="#8c564b"/><path d="M243.3,563.7h0.01M234.7,563.8h0.01M245.8,565.2h0.01M228.4,568.8h0.01M232.0,565.7h0.01M247.5,569.0h0.01M228.4,571.1h0.01M245.2,571.0h0.01M241.0,562.2h0.01M246.9,566.8h0.01" stroke="#8c564b" stroke-width="0.7" stroke-linecap="round"/>
<path d="M259.6,573.1C259.5,573.9 258.6,575.2 257.5,576.0C256.5,576.9 254.9,577.9 253.2,578.4C251.6,578.8 249.1,578.9 247.5,578.7C245.8,578.6 244.5,578.2 243.4,577.5C242.3,576.8 241.2,575.5 240.9,574.6C240.7,573.6 241.0,572.5 242.1,571.7C243.2,570.8 246.0,569.8 247.6,569.5C249.2,569.1 250.0,569.5 251.8,569.8C253.5,570.1 256.6,570.6 257.9,571.2C259.2,571.7 259.7,572.3 259.6,573.1Z" fill="#17becf"/><path d="M253.6,579.0h0.01M257.6,569.7h0.01M252.4,578.7h0.01M261.7,573.6h0.01M252.4,579.3h0.01M239.6,573.7h0.01M238.9,574.1h0.01M241.9,571.9h0.01M257.9,577.0h0.01M258.1,571.5h0.01" stroke="#17becf" stroke-width="0.7" stroke-linecap="round"/></g>
<g id="tl"><path d="M287.2,613.4C287.6,614.5 286.3,616.5 285.6,617.7C284.9,618.8 284.8,619.3 282.9,620.1C281.1,621.0 276.7,622.1 274.5,622.5C272.3,622.9 271.0,622.5 269.5,622.3C268.1,622.2 266.8,622.3 265.7,621.6C264.7,621.0 263.3,619.3 263.0,618.2C262.8,617.0 263.6,615.6 264.3,614.7C265.0,613.8 265.4,613.7 267.3,612.9C269.1,612.0 273.1,610.3 275.4,609.8C277.8,609.3 279.9,609.8 281.2,610.1C282.6,610.3 282.5,610.5 283.5,611.0C284.5,611.6 286.9,612.3 287.2,613.4Z" fill="#d62728"/><path d="M262.4,618.5h0.01M286.8,612.2h0.01M284.0,620.8h0.01M286.3,619.6h0.01M261.7,620.6h0.01M268.1,623.1h0.01M280.1,620.8h0.01M282.2,610.2h0.01M275.9,609.9h0.01M289.2,612.3h0.01M273.8,609.1h0.01M261.3,615.1h0.01M285.1,619.2h0.01M279.5,609.9h0.01" stroke="#d62728" stroke-width="0.7" stroke-linecap="round"/>
<path d="M289.5,608.5C289.6,609.4 291.4,610.5 290.9,610.8C290.5,611.1 287.9,610.6 286.7,610.5C285.5,610.4 284.2,610.6 283.6,610.1C283.0,609.7 282.9,608.6 283.0,607.9C283.1,607.2 283.6,606.6 284.2,606.0C284.8,605.3 285.5,604.1 286.6,604.0C287.6,603.9 290.0,604.7 290.5,605.4C291.0,606.2 289.4,607.6 289.5,608.5Z" fill="#9467bd"/><path d="M285.3,605.2h0.01M289.9,605.8h0.01M284.8,611.2h0.01M289.2,605.3h0.01" stroke="#9467bd" stroke-width="0.7" stroke-linecap="round"/>
<path d="M287.3,611.2L296,611.8" stroke="#c5b0d5" stroke-width="1.4" stroke-linecap="round"/>
<path d="M331.8,610.9C331.5,611.8 327.8,612.7 326.6,613.5C325.3,614.3 325.2,615.3 324.1,615.6C323.0,615.9 321.2,615.5 319.9,615.4C318.6,615.4 316.9,615.6 316.1,615.2C315.3,614.8 314.7,613.6 315.1,612.8C315.5,612.1 317.0,611.6 318.4,610.8C319.7,610.1 321.6,608.9 323.2,608.5C324.9,608.1 326.8,607.8 328.2,608.2C329.7,608.6 332.1,610.0 331.8,610.9Z" fill="#98df8a"/><path d="M318.3,616.1h0.01M323.2,607.8h0.01M316.9,609.7h0.01M329.9,609.9h0.01M321.9,608.3h0.01" stroke="#98df8a" stroke-width="0.7" stroke-linecap="round"/>
<path d="M336.3,615.6C336.8,616.2 336.6,617.5 335.8,618.2C335.1,619.0 333.1,619.6 331.7,619.9C330.4,620.2 328.8,620.3 327.8,619.9C326.7,619.6 325.6,618.6 325.4,617.6C325.2,616.6 325.7,614.9 326.5,614.0C327.2,613.1 328.7,612.2 329.8,612.2C330.9,612.3 332.2,613.7 333.2,614.2C334.3,614.8 335.9,614.9 336.3,615.6Z" fill="#aec7e8"/><path d="M324.7,616.9h0.01M329.6,612.7h0.01M329.3,620.5h0.01M335.7,617.5h0.01" stroke="#aec7e8" stroke-width="0.7" stroke-linecap="round"/>
<path d="M331.9,621.0C331.8,621.9 329.2,623.4 328.0,624.4C326.8,625.3 325.7,626.2 324.5,626.6C323.3,627.1 321.5,627.6 320.6,627.1C319.8,626.6 319.5,624.7 319.3,623.7C319.2,622.6 318.9,621.4 319.5,620.6C320.1,619.7 321.5,618.7 323.0,618.5C324.6,618.3 327.2,618.9 328.7,619.3C330.2,619.7 332.0,620.2 331.9,621.0Z" fill="#c5b0d5" opacity="0.85"/>
<path d="M327.2,624.1C327.1,624.7 327.7,625.1 327.2,625.6C326.7,626.0 325.2,626.7 324.2,626.7C323.2,626.6 321.9,625.5 321.0,625.1C320.2,624.6 319.2,624.4 319.0,623.9C318.8,623.3 318.8,622.2 319.6,621.8C320.5,621.5 322.8,621.8 324.1,621.8C325.4,621.9 327.1,621.9 327.6,622.3C328.1,622.7 327.3,623.6 327.2,624.1Z" fill="#e377c2" opacity="0.9"/>
<path d="M334.2,622.6C334.0,622.8 333.3,623.1 333.0,623.4C332.7,623.6 332.8,623.8 332.3,623.9C331.9,623.9 330.9,623.8 330.4,623.6C329.9,623.4 329.5,623.1 329.4,622.8C329.2,622.5 329.2,622.2 329.3,621.9C329.3,621.7 329.3,621.4 329.8,621.3C330.2,621.2 331.2,621.4 331.9,621.4C332.6,621.5 333.4,621.5 333.8,621.7C334.2,621.9 334.3,622.3 334.2,622.6Z" fill="#ffbb78"/>
<path d="M336.7,626.5C336.8,627.2 336.5,628.2 336.1,628.8C335.6,629.4 335.0,630.0 334.1,630.2C333.2,630.5 331.6,630.4 330.6,630.3C329.6,630.1 328.3,629.7 328.1,629.2C327.9,628.7 328.8,627.7 329.4,627.1C330.0,626.5 330.7,626.0 331.7,625.6C332.7,625.2 334.5,624.5 335.3,624.6C336.2,624.8 336.5,625.8 336.7,626.5Z" fill="#8c564b"/>
<path d="M330.8,628.7C330.9,629.5 330.3,630.6 329.7,631.2C329.1,631.9 328.2,632.2 327.2,632.4C326.2,632.6 324.5,632.9 323.8,632.6C323.0,632.3 322.6,631.3 322.5,630.5C322.4,629.7 322.5,628.7 323.2,628.0C323.9,627.3 325.8,626.5 326.8,626.3C327.8,626.1 328.7,626.4 329.4,626.8C330.1,627.1 330.8,628.0 330.8,628.7Z" fill="#17becf"/>
<path d="M287.6,635.8C287.8,636.2 288.3,636.6 287.8,637.0C287.2,637.5 285.6,638.0 284.4,638.4C283.2,638.8 281.6,639.3 280.7,639.2C279.9,639.1 279.4,638.3 279.2,637.7C279.1,637.1 279.2,636.1 279.8,635.7C280.4,635.4 281.8,635.6 282.9,635.4C284.0,635.1 285.6,634.1 286.4,634.2C287.2,634.2 287.4,635.3 287.6,635.8Z" fill="#2ca02c"/>
<path d="M292.1,638.8C292.0,639.3 292.3,640.1 291.9,640.5C291.5,640.8 290.4,640.6 289.6,640.7C288.8,640.7 287.6,640.9 286.9,640.7C286.3,640.4 285.6,639.7 285.7,639.2C285.8,638.7 286.8,638.1 287.4,637.7C288.0,637.4 288.6,637.1 289.3,637.0C290.1,637.0 291.6,637.0 292.0,637.3C292.5,637.5 292.1,638.2 292.1,638.8Z" fill="#1f77b4"/>
<path d="M290.9,642.0C291.0,642.6 291.2,643.9 290.6,644.5C289.9,645.1 288.0,645.5 286.9,645.5C285.8,645.5 284.9,645.3 284.2,644.7C283.4,644.1 282.5,642.8 282.5,642.0C282.5,641.2 283.2,640.0 283.9,639.6C284.6,639.3 285.8,639.6 286.8,639.8C287.7,639.9 289.2,640.2 289.9,640.6C290.6,640.9 290.8,641.3 290.9,642.0Z" fill="#ff7f0e"/>
<path d="M265.3,642.3C265.3,642.5 264.9,642.8 264.6,643.0C264.4,643.1 264.1,643.4 263.8,643.4C263.5,643.4 263.0,643.1 262.7,643.0C262.4,642.9 262.2,642.8 262.0,642.6C261.9,642.4 261.7,642.1 261.8,641.9C262.0,641.7 262.5,641.5 262.8,641.4C263.2,641.3 263.8,641.3 264.1,641.3C264.4,641.3 264.5,641.5 264.7,641.7C264.9,641.8 265.3,642.1 265.3,642.3Z" fill="#f7b6d2"/></g>
<g id="bu"><path d="M288.7,681.5C289.2,682.6 290.6,683.3 289.6,684.3C288.6,685.4 285.0,687.1 282.6,687.9C280.2,688.6 277.6,688.8 275.0,689.1C272.3,689.3 269.0,689.4 266.7,689.1C264.3,688.8 262.1,688.1 260.9,687.3C259.8,686.5 259.7,685.0 259.9,684.1C260.0,683.3 260.4,683.2 261.7,682.3C263.0,681.4 265.8,679.7 267.9,678.8C270.1,678.0 272.7,677.4 274.7,677.0C276.7,676.7 278.0,676.6 280.0,676.7C282.0,676.9 285.4,677.1 286.8,677.9C288.2,678.7 288.2,680.5 288.7,681.5Z" fill="#d62728"/><path d="M282.3,677.2h0.01M271.3,676.6h0.01M287.3,686.8h0.01M288.1,687.0h0.01M266.9,677.0h0.01M289.5,683.7h0.01M261.8,679.9h0.01M282.8,689.0h0.01M282.9,677.2h0.01M285.6,687.6h0.01M260.7,688.5h0.01M258.7,685.1h0.01M289.3,682.5h0.01M257.9,686.8h0.01M259.3,688.0h0.01M256.9,683.3h0.01M265.3,679.0h0.01M284.4,686.7h0.01M292.3,683.1h0.01M286.4,676.9h0.01M288.3,686.2h0.01M287.8,687.1h0.01" stroke="#d62728" stroke-width="0.7" stroke-linecap="round"/>
<path d="M257.1,691.7C257.2,692.3 257.4,692.8 256.9,693.4C256.3,694.1 254.7,695.5 253.7,695.7C252.7,695.8 251.5,694.7 250.8,694.3C250.2,693.8 250.1,693.5 249.9,692.9C249.7,692.3 249.1,691.3 249.5,690.8C249.9,690.3 251.3,689.9 252.5,689.7C253.7,689.4 255.9,689.1 256.7,689.4C257.5,689.7 257.1,691.0 257.1,691.7Z" fill="#9467bd"/><path d="M255.1,695.5h0.01M254.6,689.1h0.01M254.8,688.4h0.01M251.4,695.3h0.01" stroke="#9467bd" stroke-width="0.7" stroke-linecap="round"/>
<path d="M273.9,692.2C274.2,692.7 273.4,693.7 272.5,694.5C271.6,695.2 269.8,696.4 268.5,696.7C267.3,696.9 265.9,696.4 265.1,696.1C264.2,695.8 263.8,695.4 263.5,694.8C263.2,694.2 262.7,693.0 263.4,692.3C264.1,691.6 266.6,690.7 267.9,690.6C269.1,690.5 269.9,691.3 270.9,691.6C271.9,691.9 273.6,691.7 273.9,692.2Z" fill="#c49c94"/><path d="M271.5,690.5h0.01M265.0,696.0h0.01M262.7,694.4h0.01M268.6,690.6h0.01" stroke="#c49c94" stroke-width="0.7" stroke-linecap="round"/>
<path d="M285.8,691.8C285.8,692.5 284.4,693.9 283.7,694.5C282.9,695.1 282.2,695.2 281.4,695.3C280.5,695.4 279.5,695.4 278.5,695.2C277.6,695.0 275.8,694.8 275.5,694.1C275.2,693.3 276.0,691.2 276.7,690.4C277.5,689.7 278.7,689.7 279.9,689.6C281.0,689.6 282.7,689.8 283.7,690.2C284.7,690.5 285.8,691.1 285.8,691.8Z" fill="#d62728"/><path d="M286.4,693.6h0.01M276.5,691.2h0.01M285.4,693.4h0.01M285.3,691.1h0.01M275.6,690.6h0.01M286.1,692.6h0.01" stroke="#d62728" stroke-width="0.7" stroke-linecap="round"/>
<path d="M278.4,694.7C278.3,695.0 278.2,695.3 277.9,695.5C277.5,695.6 276.9,695.8 276.4,695.8C275.9,695.9 275.3,695.9 274.8,695.8C274.3,695.7 273.5,695.6 273.2,695.4C272.9,695.1 273.0,694.8 273.1,694.5C273.3,694.2 273.6,693.8 274.1,693.6C274.6,693.5 275.7,693.6 276.4,693.7C277.0,693.7 277.8,693.8 278.1,694.0C278.5,694.2 278.4,694.5 278.4,694.7Z" fill="#9467bd"/>
<path d="M251.6,704.5L257,700" stroke="#bcbd22" stroke-width="1.3" stroke-linecap="round" opacity="0.8"/>
<path d="M267.4,717.8C267.5,718.6 267.6,719.8 266.7,720.5C265.9,721.1 264.2,721.5 262.5,721.7C260.8,721.9 257.7,722.2 256.7,721.8C255.7,721.4 256.6,720.3 256.5,719.3C256.4,718.4 255.1,716.9 256.0,716.2C256.8,715.5 259.9,715.3 261.6,715.1C263.3,714.9 265.1,714.9 266.1,715.3C267.1,715.7 267.3,716.9 267.4,717.8Z" fill="#1f77b4"/><path d="M268.8,716.3h0.01M268.2,719.7h0.01M255.5,719.5h0.01M255.8,719.8h0.01" stroke="#1f77b4" stroke-width="0.7" stroke-linecap="round"/>
<path d="M269.3,714.1C269.3,714.5 268.9,715.0 268.4,715.3C267.9,715.6 267.0,715.9 266.4,716.0C265.7,716.1 265.0,716.1 264.5,715.9C263.9,715.7 263.5,715.4 263.1,715.0C262.6,714.6 261.6,714.0 261.8,713.6C261.9,713.2 263.1,712.8 264.0,712.5C264.8,712.3 266.3,712.0 267.0,712.1C267.7,712.2 267.9,712.8 268.3,713.1C268.7,713.5 269.3,713.7 269.3,714.1Z" fill="#2ca02c"/>
<path d="M276.6,719.8C276.5,720.5 276.2,721.6 275.5,722.0C274.8,722.5 273.2,722.7 272.3,722.6C271.4,722.5 270.7,722.1 269.9,721.6C269.2,721.1 267.9,719.9 267.8,719.3C267.7,718.6 268.4,718.1 269.1,717.7C269.9,717.3 271.3,716.5 272.4,716.6C273.5,716.7 275.1,717.5 275.7,718.1C276.4,718.6 276.6,719.2 276.6,719.8Z" fill="#ff7f0e"/>
<path d="M304.6,708.8C305.2,709.5 306.1,711.0 305.3,711.8C304.6,712.5 301.4,712.6 300.0,713.2C298.6,713.8 298.0,715.2 296.7,715.3C295.4,715.4 293.1,714.8 292.4,714.0C291.7,713.1 291.9,711.5 292.3,710.4C292.7,709.3 293.9,708.0 295.0,707.4C296.1,706.8 297.9,706.7 299.0,706.7C300.1,706.8 300.8,707.3 301.8,707.7C302.7,708.0 304.0,708.2 304.6,708.8Z" fill="#ff9896"/><path d="M292.9,713.8h0.01M298.7,706.4h0.01M292.8,714.8h0.01M292.5,708.7h0.01M294.7,706.8h0.01M301.6,714.6h0.01M305.0,710.9h0.01M292.5,709.5h0.01" stroke="#ff9896" stroke-width="0.7" stroke-linecap="round"/>
<path d="M326.9,702.0C327.0,703.2 326.6,704.2 326.4,705.5C326.3,706.8 326.9,709.2 325.9,710.0C324.8,710.9 321.9,710.6 320.1,710.6C318.3,710.6 316.8,710.1 315.0,710.1C313.3,710.2 310.0,711.8 309.6,710.9C309.1,710.0 312.1,706.5 312.5,704.9C313.0,703.4 311.2,702.5 312.3,701.6C313.5,700.6 317.2,699.6 319.4,699.2C321.7,698.7 324.5,698.4 325.8,698.8C327.0,699.3 326.8,700.9 326.9,702.0Z" fill="#aec7e8" opacity="0.95"/><path d="M327.2,698.0h0.01M313.2,701.5h0.01M319.6,698.7h0.01M312.6,711.4h0.01M321.3,712.2h0.01M314.7,702.0h0.01M325.7,699.2h0.01M313.8,701.9h0.01M320.8,711.1h0.01M310.2,706.7h0.01M310.5,704.7h0.01M321.3,697.9h0.01M309.9,704.5h0.01M309.1,710.5h0.01" stroke="#aec7e8" stroke-width="0.7" stroke-linecap="round" opacity="0.95"/>
<path d="M310.3,703.6C310.4,704.1 310.6,704.9 310.0,705.3C309.4,705.7 307.7,705.9 306.6,705.9C305.5,705.8 304.1,705.3 303.3,704.9C302.5,704.6 301.8,703.9 301.8,703.5C301.8,703.0 302.5,702.5 303.3,702.3C304.1,702.0 305.4,701.9 306.4,702.0C307.4,702.0 308.7,702.4 309.3,702.7C310.0,703.0 310.2,703.2 310.3,703.6Z" fill="#bcbd22" opacity="0.85"/>
<path d="M308.5,707.0C308.6,707.3 308.6,707.7 308.1,707.9C307.6,708.1 306.4,708.3 305.6,708.3C304.9,708.3 304.2,708.1 303.6,707.9C303.0,707.7 302.3,707.4 302.1,707.1C301.9,706.9 301.9,706.7 302.2,706.4C302.5,706.2 303.5,705.8 304.1,705.6C304.7,705.5 305.3,705.5 305.9,705.5C306.5,705.5 307.2,705.5 307.6,705.8C308.1,706.0 308.4,706.6 308.5,707.0Z" fill="#98df8a"/>
<path d="M323.5,696.4C324.0,697.3 322.8,698.5 321.4,699.5C319.9,700.4 316.7,701.6 314.5,702.2C312.4,702.8 310.2,703.3 308.5,703.1C306.9,702.9 306.0,701.4 304.6,700.9C303.2,700.4 300.3,700.8 300.3,700.0C300.3,699.2 302.8,697.0 304.3,696.0C305.8,695.0 307.6,694.5 309.2,694.0C310.8,693.4 312.5,692.9 314.1,692.9C315.7,692.9 317.0,693.5 318.6,694.1C320.1,694.6 323.1,695.5 323.5,696.4Z" fill="#e377c2"/><path d="M300.2,699.2h0.01M307.8,703.5h0.01M321.8,695.9h0.01M310.9,702.6h0.01M306.5,693.9h0.01M302.5,701.0h0.01M313.3,692.0h0.01M300.6,701.3h0.01M314.0,702.6h0.01M321.9,695.1h0.01M318.6,700.5h0.01M305.5,693.6h0.01" stroke="#e377c2" stroke-width="0.7" stroke-linecap="round"/>
<path d="M332.3,692.3C332.4,693.0 332.7,693.6 331.7,694.3C330.6,694.9 327.7,695.8 326.1,696.2C324.4,696.5 323.4,696.7 321.8,696.6C320.2,696.6 317.5,696.6 316.3,696.0C315.1,695.4 314.7,693.8 314.4,693.0C314.2,692.2 313.7,692.0 314.8,691.3C315.9,690.6 319.1,689.5 321.1,689.0C323.1,688.6 325.1,688.4 326.8,688.6C328.6,688.8 330.6,689.6 331.5,690.2C332.5,690.8 332.3,691.6 332.3,692.3Z" fill="#8c564b"/><path d="M331.7,695.8h0.01M323.9,696.7h0.01M314.0,695.3h0.01M318.2,695.7h0.01M323.6,696.6h0.01M335.3,692.2h0.01M322.9,688.9h0.01M325.1,697.4h0.01" stroke="#8c564b" stroke-width="0.7" stroke-linecap="round"/>
<path d="M350.3,695.5C350.7,696.2 350.0,697.5 348.7,698.4C347.3,699.4 344.1,700.7 342.3,701.1C340.5,701.5 339.8,701.1 337.9,701.0C336.0,700.8 332.2,700.8 331.0,700.3C329.7,699.7 330.1,698.4 330.3,697.6C330.5,696.8 330.9,696.2 332.1,695.4C333.2,694.7 335.5,693.8 337.2,693.3C339.0,692.9 341.0,692.5 342.6,692.7C344.1,692.9 345.1,694.0 346.3,694.5C347.6,694.9 349.9,694.8 350.3,695.5Z" fill="#17becf"/><path d="M341.5,701.6h0.01M329.4,695.8h0.01M349.0,697.6h0.01M328.8,697.9h0.01M343.9,701.2h0.01M331.7,700.0h0.01M343.9,693.1h0.01M348.6,694.5h0.01" stroke="#17becf" stroke-width="0.7" stroke-linecap="round"/></g>
<g id="bl"><path d="M329.3,774.5C329.0,775.6 326.4,776.9 325.3,777.8C324.2,778.6 324.6,779.3 322.8,779.6C320.9,779.9 316.8,779.8 314.1,779.6C311.5,779.5 309.2,779.0 306.9,778.6C304.6,778.2 302.6,778.2 300.3,777.1C298.0,776.0 294.2,773.4 293.2,772.1C292.2,770.8 293.5,770.1 294.1,769.3C294.7,768.5 295.4,767.8 296.8,767.1C298.2,766.3 300.7,765.4 302.4,764.8C304.0,764.1 304.5,763.2 306.7,763.2C308.9,763.1 312.9,763.5 315.9,764.2C318.8,765.0 322.6,766.5 324.4,767.7C326.2,768.8 325.9,770.2 326.7,771.3C327.5,772.5 329.5,773.5 329.3,774.5Z" fill="#d62728"/><path d="M308.0,763.9h0.01M295.9,774.0h0.01M328.4,777.3h0.01M330.0,775.4h0.01M325.4,766.2h0.01M295.2,773.3h0.01M300.5,776.6h0.01M314.1,781.0h0.01M299.2,765.4h0.01M292.0,769.9h0.01M296.4,774.5h0.01M296.9,774.7h0.01M304.3,762.9h0.01M298.8,764.3h0.01M329.7,772.4h0.01M315.5,780.4h0.01M326.9,770.2h0.01M314.4,763.0h0.01M323.7,767.1h0.01M290.3,771.9h0.01M307.2,762.6h0.01M318.9,780.9h0.01M310.9,764.1h0.01M315.7,781.5h0.01" stroke="#d62728" stroke-width="0.7" stroke-linecap="round"/>
<path d="M299,768 L300.4,762 L302,768 Z" fill="#d62728"/>
<path d="M291.8,771.3C291.6,771.9 291.0,772.3 290.4,772.9C289.7,773.5 289.0,774.5 287.9,774.8C286.8,775.0 285.0,774.6 283.7,774.5C282.4,774.3 280.0,774.4 280.1,773.8C280.1,773.3 283.2,771.8 284.2,771.1C285.2,770.5 284.9,770.3 286.1,769.9C287.3,769.6 290.6,768.9 291.5,769.2C292.5,769.4 292.0,770.6 291.8,771.3Z" fill="#9467bd"/><path d="M284.1,774.9h0.01M290.7,773.3h0.01M293.0,772.0h0.01" stroke="#9467bd" stroke-width="0.7" stroke-linecap="round"/>
<path d="M262.2,771.2C261.8,772.1 260.9,773.8 260.1,774.6C259.2,775.5 258.8,775.9 257.0,776.3C255.3,776.6 252.0,776.7 249.6,776.7C247.3,776.8 244.4,777.2 242.7,776.6C240.9,776.0 239.6,774.1 239.1,773.2C238.6,772.2 238.3,771.7 239.9,770.9C241.4,770.1 246.2,769.0 248.5,768.4C250.8,767.8 251.4,767.4 253.7,767.4C256.1,767.5 261.2,768.1 262.6,768.8C264.0,769.4 262.6,770.2 262.2,771.2Z" fill="#ff9896"/><path d="M260.6,767.6h0.01M253.6,777.3h0.01M239.4,776.0h0.01M239.4,774.0h0.01M260.0,768.8h0.01M244.9,777.1h0.01M262.4,770.3h0.01M238.2,771.1h0.01M239.8,769.9h0.01M241.5,776.5h0.01" stroke="#ff9896" stroke-width="0.7" stroke-linecap="round"/>
<path d="M259.7,762.1C260.6,762.8 260.6,764.3 260.1,765.3C259.6,766.4 258.7,767.6 256.7,768.4C254.6,769.3 249.8,770.5 247.8,770.5C245.8,770.4 245.9,768.7 244.7,768.1C243.5,767.5 241.4,767.3 240.7,766.7C240.0,766.0 239.6,765.4 240.4,764.4C241.3,763.4 244.1,761.5 245.8,760.7C247.5,759.9 249.4,759.2 250.8,759.3C252.2,759.3 252.8,760.6 254.3,761.1C255.7,761.5 258.7,761.3 259.7,762.1Z" fill="#aec7e8" opacity="0.95"/><path d="M257.6,765.5h0.01M242.2,764.2h0.01M255.1,768.7h0.01M250.2,759.6h0.01M254.0,769.1h0.01M241.2,765.5h0.01M248.3,769.9h0.01M241.7,767.3h0.01" stroke="#aec7e8" stroke-width="0.7" stroke-linecap="round" opacity="0.95"/>
<path d="M255.7,755.4C255.9,755.9 255.3,757.0 254.7,757.6C254.0,758.2 252.8,758.6 251.6,758.8C250.5,759.1 248.5,759.3 247.8,758.9C247.1,758.5 247.4,757.3 247.4,756.6C247.4,756.0 247.3,755.7 247.9,755.2C248.5,754.6 250.1,753.6 251.0,753.4C251.9,753.3 252.5,753.9 253.3,754.2C254.1,754.5 255.4,754.8 255.7,755.4Z" fill="#bcbd22" opacity="0.8"/>
<path d="M256.4,758.6C256.4,758.9 256.1,759.4 255.7,759.7C255.2,760.0 254.5,760.5 253.6,760.6C252.7,760.6 251.1,760.5 250.3,760.3C249.4,760.1 248.8,759.5 248.6,759.2C248.4,758.8 248.8,758.6 249.2,758.3C249.6,758.1 250.4,757.7 251.1,757.6C251.7,757.4 252.2,757.4 253.0,757.4C253.7,757.5 255.1,757.7 255.7,757.9C256.3,758.1 256.4,758.3 256.4,758.6Z" fill="#98df8a"/>
<path d="M324.7,744.0C324.8,744.5 322.9,745.7 321.8,746.2C320.7,746.7 319.4,746.9 318.1,747.2C316.8,747.5 314.4,748.0 313.8,747.8C313.2,747.6 314.4,746.6 314.6,746.2C314.9,745.8 314.7,745.5 315.3,745.1C315.9,744.8 317.2,744.3 318.2,744.0C319.2,743.8 320.2,743.6 321.2,743.6C322.3,743.6 324.6,743.6 324.7,744.0Z" fill="#1f77b4"/>
<path d="M318.0,746.9C318.1,747.2 317.5,747.6 317.1,747.8C316.8,747.9 316.3,748.0 315.8,748.0C315.2,748.0 314.4,747.9 313.9,747.8C313.3,747.6 312.8,747.3 312.6,747.1C312.5,746.8 312.7,746.5 312.8,746.3C313.0,746.0 313.2,745.7 313.6,745.6C314.1,745.6 315.0,745.7 315.6,745.8C316.1,745.9 316.4,746.0 316.8,746.2C317.2,746.4 317.9,746.6 318.0,746.9Z" fill="#2ca02c"/>
<path d="M324.6,746.3C324.7,746.5 324.9,746.7 324.6,746.9C324.4,747.1 323.7,747.5 323.1,747.5C322.4,747.6 321.3,747.5 320.7,747.3C320.2,747.2 319.9,747.0 319.7,746.7C319.5,746.4 319.5,746.0 319.7,745.7C319.9,745.5 320.4,745.3 321.0,745.2C321.5,745.1 322.2,745.0 322.8,745.1C323.3,745.1 324.0,745.2 324.3,745.4C324.6,745.6 324.6,746.0 324.6,746.3Z" fill="#ff7f0e"/>
<path d="M268.6,752.9C268.8,753.6 268.0,753.9 267.0,754.5C266.0,755.1 264.0,755.9 262.6,756.4C261.2,756.9 259.7,757.4 258.4,757.4C257.0,757.4 255.4,756.8 254.5,756.3C253.6,755.9 253.1,755.4 253.0,754.8C253.0,754.3 253.3,753.7 254.0,753.0C254.7,752.3 255.6,750.9 257.1,750.5C258.5,750.1 261.1,750.5 262.7,750.5C264.2,750.5 265.3,750.2 266.3,750.6C267.3,750.9 268.5,752.3 268.6,752.9Z" fill="#e377c2" opacity="0.95"/><path d="M268.9,752.2h0.01M251.8,756.2h0.01M268.6,755.4h0.01M268.0,749.8h0.01M268.3,755.8h0.01M262.9,757.5h0.01" stroke="#e377c2" stroke-width="0.7" stroke-linecap="round" opacity="0.95"/>
<path d="M276.4,751.9C276.8,752.6 277.2,753.4 276.2,754.2C275.2,755.0 272.0,756.4 270.5,756.6C269.0,756.9 268.2,756.1 267.2,755.8C266.2,755.4 265.2,755.2 264.4,754.6C263.7,754.1 262.6,753.3 262.7,752.5C262.9,751.7 264.1,750.3 265.5,749.8C266.8,749.3 269.5,749.3 270.9,749.3C272.3,749.4 272.9,749.5 273.8,749.9C274.7,750.4 276.0,751.2 276.4,751.9Z" fill="#8c564b"/>
<path d="M283.5,757.4C283.2,757.9 281.8,759.0 280.7,759.4C279.7,759.8 278.7,759.8 277.3,759.7C275.8,759.6 273.5,759.4 272.1,759.0C270.8,758.6 269.4,757.9 269.1,757.4C268.8,756.8 269.7,756.0 270.3,755.6C270.9,755.1 271.5,754.6 272.8,754.5C274.1,754.4 276.6,754.6 278.1,754.9C279.7,755.1 281.3,755.7 282.2,756.1C283.1,756.6 283.7,756.8 283.5,757.4Z" fill="#17becf"/></g>
<g id="bxt"><polygon points="271.4,526.7 215.9,565.6 216.7,637.9 271.8,597.5" fill="#f5f5f5"/>
<polygon points="271.4,526.7 362.5,549.0 360.7,617.0 271.8,597.5" fill="#f0efee"/>
<polygon points="216.7,637.9 310.1,668.3 360.7,617.0 271.8,597.5" fill="#f3f2f1"/>
<path d="M216.7,637.9L310.1,668.3L360.7,617.0" fill="none" stroke="#3a3a3a" stroke-width="0.5"/>
<path d="M362.5,549.0L360.7,617.0" fill="none" stroke="#666" stroke-width="0.5"/><path d="M226.4,632.4L272.5,594.0L351.2,614.5L307.4,658.4Z" fill="none" stroke="#111" stroke-width="0.85" stroke-dasharray="2.4,1.5"/><path d="M224.0,571.6L273.8,534.7L353.0,555.6L308.2,595.8Z" fill="none" stroke="#111" stroke-width="0.85" stroke-dasharray="2.4,1.5"/></g>
<g id="bxb"><polygon points="271.4,664.7 215.9,703.6 216.7,775.9 271.8,735.5" fill="#f5f5f5"/>
<polygon points="271.4,664.7 362.5,687.0 360.7,755.0 271.8,735.5" fill="#f0efee"/>
<polygon points="216.7,775.9 312.0,806.3 360.7,755.0 271.8,735.5" fill="#f3f2f1"/>
<path d="M216.7,775.9L312.0,806.3L360.7,755.0" fill="none" stroke="#3a3a3a" stroke-width="0.5"/>
<path d="M362.5,687.0L360.7,755.0" fill="none" stroke="#666" stroke-width="0.5"/><path d="M227.6,771.2L274.3,731.1L352.8,753.2L310.6,797.2Z" fill="none" stroke="#111" stroke-width="0.85" stroke-dasharray="2.4,1.5"/><path d="M225.2,710.3L274.3,672.7L354.1,692.6L309.8,734.1Z" fill="none" stroke="#111" stroke-width="0.85" stroke-dasharray="2.4,1.5"/></g>
</defs>
<text transform="translate(213.50,528.50)" font-size="11.2" text-anchor="start" fill="#1a1a1a">f</text>
<g transform="translate(0.0,0)">
<use href="#bxt"/>
<polygon points="249.0,581.0 258.0,576.0 330.0,628.0 322.0,633.0" fill="#a3d8ea" opacity="0.95"/>
<polygon points="246.7,580.0 260.2,573.2 324.7,609.4 321.3,626.3" fill="#f3a8cd" opacity="0.8"/>
<path d="M253.4,573.0L326.1,622.6M243.2,572.4L326.3,616.2M255.5,574.6L324.1,619.5M248.2,575.5L326.1,622.2M241.1,571.9L319.7,622.7M243.9,572.1L332.0,615.6M239.1,572.5L323.6,611.6M244.7,570.6L322.2,623.5M246.9,572.1L321.1,620.5M253.0,575.3L320.6,624.0M241.7,574.2L322.1,623.7M239.5,573.1L323.5,623.0M251.0,572.9L323.8,620.4M250.7,572.9L321.0,610.9M244.4,571.6L331.5,618.0M251.6,576.8L326.0,611.8M254.9,573.6L326.1,623.0M239.2,572.9L324.4,614.5M253.7,574.8L326.0,610.6M248.2,576.7L326.0,623.0M251.4,575.6L321.8,614.3M241.5,570.5L324.8,620.7M247.1,575.3L327.6,615.7M241.8,572.5L320.6,620.5M256.5,576.2L328.6,622.3M254.3,572.7L327.1,622.9M254.4,577.2L320.8,612.8M244.9,573.5L319.3,610.6M239.1,573.0L320.7,609.2M241.9,573.2L326.1,615.7M252.4,577.8L326.4,615.8M241.4,571.7L320.6,613.9M249.9,576.8L332.0,617.9M253.6,573.7L319.2,613.4M247.0,576.4L322.5,610.4M245.3,572.6L323.0,622.7M250.8,576.9L319.1,622.2M242.0,574.7L327.9,615.5M246.6,571.5L326.4,622.0M254.3,572.6L329.9,616.8M248.2,573.2L321.4,621.3M246.2,575.0L321.8,622.6M250.6,574.5L326.2,615.9M239.9,572.9L333.2,614.5M238.6,571.2L320.7,609.6M245.1,570.5L318.0,611.2M240.3,569.9L332.6,615.0M245.7,573.7L324.9,611.7M252.6,572.9L323.9,621.2M255.0,573.2L325.7,623.9M239.0,570.2L326.0,621.7M244.5,571.0L317.6,612.3M255.0,573.9L327.7,611.3M250.0,575.1L320.8,623.6M244.4,570.4L323.9,623.0M249.5,577.0L322.9,621.1M239.8,573.3L324.0,620.5M246.8,571.9L319.2,622.7M257.3,575.4L326.7,612.5M255.2,576.3L329.8,616.5" stroke="#f3a8cd" stroke-width="0.4" stroke-opacity="0.7" fill="none"/>
<path d="M249.9,578.6L286.4,638.6M245.3,575.4L282.8,638.1M251.6,577.3L286.0,636.9M246.7,577.3L287.7,638.5M250.1,578.6L286.5,638.1M250.1,576.2L284.9,636.6M252.2,576.9L284.1,639.4M247.9,579.0L287.9,638.3M245.9,577.2L285.6,637.6M247.4,575.2L285.9,639.5M249.2,575.9L284.3,638.3M247.8,576.3L285.3,638.7M249.8,578.4L285.2,639.9M246.6,578.3L282.2,638.5M244.3,577.6L286.5,639.4M247.1,578.3L286.6,639.2M245.5,577.1L284.4,638.4M244.4,576.8L284.7,639.9" stroke="#f3a8cd" stroke-width="0.3" stroke-opacity="0.7" fill="none" stroke-dasharray="1.2,0.7"/>
<path d="M247.4,575.9L263.1,642.6M243.5,578.0L263.2,641.6M245.3,576.3L264.0,642.5M245.8,577.1L262.9,641.8M246.4,576.4L262.3,642.5M243.2,577.7L264.5,642.4M246.1,575.2L263.2,641.7M246.7,575.3L264.5,641.9" stroke="#f3a8cd" stroke-width="0.3" stroke-opacity="0.7" fill="none" stroke-dasharray="1.2,0.7"/>
<path d="M256.5,576.2L278.8,614.7M248.0,576.6L276.1,618.6M254.1,575.7L270.6,619.3M253.2,575.5L279.8,618.1M252.7,577.5L273.8,617.0M256.3,577.8L267.2,615.4M252.7,578.7L274.9,618.8M256.7,577.3L270.8,617.8M253.6,575.3L276.4,614.8M253.6,577.6L271.6,614.4" stroke="#f3a8cd" stroke-width="0.35" stroke-opacity="0.85" fill="none" stroke-dasharray="1.2,0.7"/>
<g filter="url(#rough)"><use href="#tl"/><use href="#tu"/></g>
<use href="#bxb"/>
<polygon points="334.7,705.3 347.6,699.6 282.6,758.2 276.1,755.8" fill="#a3d8ea" opacity="0.95"/>
<polygon points="306.0,712.0 334.7,705.3 276.1,755.8 249.6,754.2" fill="#f3a8cd" opacity="0.85"/>
<path d="M320.9,703.6L251.1,762.1M306.6,700.0L253.3,762.1M308.9,697.8L251.6,761.3M316.6,699.7L267.0,753.6M318.6,701.6L256.5,755.3M314.7,698.2L249.5,762.2M316.8,700.7L255.5,759.3M320.9,703.9L247.3,758.2M317.0,707.3L261.1,754.0M319.5,707.9L257.0,754.2M326.7,706.5L254.0,759.8M324.7,705.6L265.0,751.4M318.3,708.4L263.2,755.9M309.9,699.2L252.3,761.0M310.4,702.8L267.9,752.1M318.9,707.2L248.7,759.8M313.0,697.1L259.7,756.2M326.8,705.1L249.7,758.5M311.9,700.2L247.4,761.9M314.9,700.3L247.4,760.7M320.4,705.3L260.4,750.9M316.3,700.5L254.2,760.8M308.4,697.9L253.7,752.7M320.8,702.2L249.6,761.6M316.6,706.6L250.4,761.1M307.8,699.6L248.1,758.1M314.9,702.2L251.4,760.8M312.3,699.7L248.6,758.2M309.1,698.3L246.8,761.0M308.6,699.2L249.5,761.8M321.2,709.7L253.1,760.2M316.5,699.2L266.3,751.9M316.4,699.5L257.1,752.1M311.9,701.8L266.0,754.8M322.2,703.6L250.4,762.4M306.6,700.3L266.1,751.8M318.4,707.1L262.9,755.8M322.6,707.0L254.0,758.8M317.6,704.7L250.4,762.7M311.8,697.4L246.7,760.1" stroke="#f3a8cd" stroke-width="0.4" stroke-opacity="0.6" fill="none"/>
<path d="M344.4,705.6L303.0,770.2M343.2,706.7L306.6,764.8M337.0,706.4L322.1,768.6M338.0,706.5L305.3,764.6M342.1,702.7L319.5,765.1M340.8,706.0L318.7,769.1M337.7,707.2L314.9,765.0M340.0,703.6L319.0,767.9M342.6,706.8L297.9,768.1M342.9,705.5L308.0,770.7M345.1,704.6L310.6,764.0M338.3,702.6L300.2,767.0M345.4,705.1L312.5,771.0M338.7,706.2L300.5,769.2" stroke="#f3a8cd" stroke-width="0.35" stroke-opacity="0.85" fill="none" stroke-dasharray="1.2,0.7"/>
<path d="M340.1,707.2L315.9,746.2M344.6,706.9L316.2,745.1M340.5,703.2L317.1,745.7M341.7,704.7L318.2,747.2M340.4,703.9L321.5,745.4M343.8,707.1L316.2,746.5" stroke="#f3a8cd" stroke-width="0.35" stroke-opacity="0.85" fill="none" stroke-dasharray="1.2,0.7"/>
<g filter="url(#rough)"><use href="#bl"/><use href="#bu"/></g>
</g>
<g transform="translate(160.7,0)">
<use href="#bxt"/>
<polygon points="249.0,581.0 258.0,576.0 330.0,628.0 322.0,633.0" fill="#a3d8ea" opacity="0.95"/>
<polygon points="246.7,580.0 260.2,573.2 324.7,609.4 321.3,626.3" fill="#f3a8cd" opacity="0.8"/>
<path d="M242.8,570.8L323.6,621.5M248.7,574.7L329.1,618.8M239.6,570.2L331.9,617.0M251.4,574.1L325.1,620.5M254.1,573.8L323.8,614.4M252.7,577.7L326.7,610.5M246.0,570.7L323.4,622.2M253.5,573.4L324.3,612.5M239.3,573.2L331.9,614.9M247.1,573.9L326.8,619.6M246.8,575.1L331.6,617.0M240.9,571.0L330.0,617.0M255.5,572.8L327.0,611.5M249.9,575.6L325.3,610.3M240.7,569.3L333.8,615.1M239.7,574.6L325.9,612.4M243.7,570.9L333.0,617.0M249.7,577.4L323.6,621.5M245.8,571.4L327.8,616.5M249.4,576.6L327.2,623.2M248.0,573.5L322.6,622.4M249.7,572.3L327.9,617.7M249.9,575.7L325.4,621.3M241.2,574.0L320.9,622.5M252.7,572.5L319.5,621.4M247.6,575.0L322.2,623.2M245.0,569.7L318.7,610.2M254.4,575.8L329.4,614.1M254.7,577.3L324.7,624.9M252.6,572.6L328.4,614.7M244.3,573.4L327.6,614.1M240.4,569.8L332.2,617.4M242.7,572.6L322.8,612.7M257.3,573.9L328.6,614.5M242.0,574.4L322.1,620.4M254.7,576.1L328.6,621.6M250.8,577.6L329.6,617.2M253.5,577.3L329.0,616.3M244.7,572.6L327.5,619.9M244.9,571.5L324.0,619.8M244.5,573.0L324.5,619.5M237.8,572.4L331.2,616.8M240.1,573.3L326.8,616.9M243.5,574.3L331.0,617.3M254.5,572.4L320.9,609.7M249.9,574.0L325.4,612.3M243.0,570.0L329.1,614.7M240.3,573.9L320.8,619.8M257.1,575.0L322.4,624.2M254.1,572.4L328.6,613.6M247.7,575.8L330.5,614.8M244.8,570.5L326.0,621.1M252.9,576.6L322.1,622.4M241.0,573.4L320.6,620.1M256.2,573.9L321.9,611.1M249.0,573.7L320.2,621.1M254.8,575.3L333.2,617.5M245.6,573.1L318.7,612.3M253.8,574.2L323.7,614.6M241.0,570.7L329.7,618.0" stroke="#f3a8cd" stroke-width="0.4" stroke-opacity="0.7" fill="none"/>
<path d="M243.2,577.2L283.4,639.5M244.3,576.2L287.7,637.2M244.9,576.5L283.9,639.4M249.1,577.6L286.1,636.7M249.8,575.8L282.1,637.8M248.3,577.5L287.0,639.0M248.2,577.4L286.7,636.9M243.5,576.9L286.1,639.7M247.7,575.4L286.9,639.0M249.0,576.4L286.7,638.5M247.9,577.6L283.2,637.1M247.2,577.3L284.1,637.5M247.4,578.8L284.0,638.1M251.5,578.3L283.4,638.5M251.4,577.0L284.9,638.3M252.5,576.5L285.7,639.2M244.4,575.8L285.1,636.6M250.1,578.5L284.1,639.3" stroke="#f3a8cd" stroke-width="0.3" stroke-opacity="0.7" fill="none" stroke-dasharray="1.2,0.7"/>
<path d="M245.0,578.9L264.0,641.6M246.2,578.1L263.2,642.6M245.4,577.4L264.9,642.3M246.7,575.9L264.7,642.0M246.5,577.6L263.1,642.7M245.1,577.1L262.3,642.2M243.5,575.9L263.4,641.7M245.1,575.4L263.4,641.6" stroke="#f3a8cd" stroke-width="0.3" stroke-opacity="0.7" fill="none" stroke-dasharray="1.2,0.7"/>
<path d="M254.8,577.1L271.0,619.0M253.9,576.9L274.8,613.1M255.7,578.2L275.6,613.3M255.7,578.1L279.1,617.1M254.1,577.1L276.0,619.8M255.6,577.2L268.5,617.4M255.7,577.4L282.3,615.2M248.9,577.1L267.4,616.9M253.0,575.1L271.8,618.5M253.0,575.3L277.0,618.6" stroke="#f3a8cd" stroke-width="0.35" stroke-opacity="0.85" fill="none" stroke-dasharray="1.2,0.7"/>
<g filter="url(#rough)"><use href="#tl"/><use href="#tu"/></g>
<use href="#bxb"/>
<polygon points="334.7,705.3 347.6,699.6 282.6,758.2 276.1,755.8" fill="#a3d8ea" opacity="0.95"/>
<polygon points="306.0,712.0 334.7,705.3 276.1,755.8 249.6,754.2" fill="#f3a8cd" opacity="0.85"/>
<path d="M324.5,702.5L261.9,751.5M312.4,700.8L249.5,757.4M308.0,699.0L262.2,753.4M315.4,702.7L256.4,755.2M317.1,698.5L262.9,756.1M326.5,706.9L261.6,752.1M319.0,708.5L253.6,752.8M323.3,705.8L260.5,756.2M315.8,697.3L248.9,759.2M308.6,699.3L248.4,762.2M312.0,700.2L255.6,761.0M309.1,701.8L250.0,758.1M306.9,698.0L262.7,751.0M318.3,698.3L260.5,754.2M320.4,700.7L257.7,760.1M326.5,708.0L251.4,761.7M324.2,706.2L252.8,759.7M317.0,706.1L251.2,762.8M323.2,702.6L256.0,761.4M307.4,699.0L266.1,754.4M324.4,707.7L249.9,759.7M318.7,705.7L252.0,758.7M318.6,703.3L265.1,752.0M319.2,698.7L254.3,757.5M320.6,704.8L257.8,760.6M315.9,698.6L260.1,755.9M313.0,702.6L255.2,754.4M317.0,699.1L257.0,754.4M309.5,702.0L247.2,761.5M320.2,702.8L261.9,755.0M317.1,706.9L263.8,754.1M320.3,706.1L257.2,758.6M317.9,699.3L251.8,759.7M309.8,700.5L246.8,759.7M308.5,700.8L262.7,752.1M317.6,701.0L258.1,751.3M304.5,701.5L256.6,753.2M316.8,699.0L247.0,759.1M317.5,699.0L253.1,758.2M313.5,697.6L265.5,754.3" stroke="#f3a8cd" stroke-width="0.4" stroke-opacity="0.6" fill="none"/>
<path d="M340.2,705.1L305.7,766.8M345.4,704.8L317.1,765.6M343.3,703.9L302.8,767.6M339.5,704.2L307.5,764.2M336.9,706.2L316.0,771.7M342.1,702.5L301.0,769.0M337.2,706.8L313.8,769.3M339.0,707.4L321.0,770.0M342.3,703.9L316.1,767.9M341.3,702.1L302.0,765.0M344.0,705.8L306.4,767.5M343.3,703.9L304.4,765.9M339.3,703.6L307.5,768.6M336.6,706.4L303.1,764.9" stroke="#f3a8cd" stroke-width="0.35" stroke-opacity="0.85" fill="none" stroke-dasharray="1.2,0.7"/>
<path d="M339.0,705.2L318.5,745.2M345.2,706.1L317.2,746.1M344.1,705.7L316.2,746.5M338.0,704.6L322.6,745.9M343.7,706.7L320.9,746.4M344.3,705.5L320.3,745.5" stroke="#f3a8cd" stroke-width="0.35" stroke-opacity="0.85" fill="none" stroke-dasharray="1.2,0.7"/>
<g filter="url(#rough)"><use href="#bl"/><use href="#bu"/></g>
</g>
<g transform="translate(321.4,0)">
<use href="#bxt"/>
<polygon points="241.0,576.0 259.0,572.0 330.0,628.0 323.0,633.0" fill="#a3d8ea" opacity="0.95"/>
<polygon points="256.0,572.0 260.0,571.5 328.0,623.0 326.0,625.0" fill="#f3a8cd" opacity="0.85"/>
<path d="M254.9,568.9L324.8,622.9M255.0,570.5L323.9,621.3M255.1,571.9L326.1,621.8M259.2,569.5L328.2,621.3M257.5,569.5L325.7,623.9M253.6,569.9L327.7,621.5M257.3,570.5L325.8,621.9M257.0,571.2L328.7,622.6M254.0,570.9L326.7,622.1M258.5,571.1L324.5,620.7M254.9,569.9L324.0,623.0M252.9,570.3L327.8,621.7M255.9,568.7L324.1,620.6M255.6,571.2L325.4,623.0" stroke="#f3a8cd" stroke-width="0.35" stroke-opacity="0.8" fill="none"/>
<path d="M239.5,578.7L263.0,644.1M244.1,578.0L264.3,643.7M239.5,579.3L263.1,643.6M239.9,579.9L265.3,643.5M241.1,579.9L263.7,644.2M241.4,579.8L265.1,644.4M241.2,577.6L266.1,643.4M242.9,578.0L264.3,643.8M241.3,579.8L262.9,644.2M241.4,579.0L264.1,644.0M242.2,578.6L264.8,643.0M243.1,580.4L265.5,644.0M241.6,577.5L265.2,643.1M241.8,579.8L264.3,643.7M239.9,579.5L266.1,644.6M242.2,577.9L265.7,644.8" stroke="#f3a8cd" stroke-width="0.3" stroke-opacity="0.6" fill="none" stroke-dasharray="1.2,0.7"/>
<g filter="url(#rough)"><use href="#tl"/><use href="#tu"/></g>
<use href="#bxb"/>
<polygon points="323.7,706.0 346.2,701.2 282.0,757.4 275.5,754.2" fill="#a3d8ea" opacity="0.95"/>
<polygon points="305.7,716.0 323.7,706.0 275.5,754.2 262.6,751.0" fill="#f3a8cd" opacity="0.45"/>
<path d="M313.7,709.7L270.2,751.8M313.9,710.1L266.7,751.0M310.2,712.1L271.1,751.6M316.3,710.0L263.9,751.3M315.7,710.1L272.0,752.5M315.7,712.3L266.7,752.2M309.8,709.1L269.9,753.4M319.2,709.5L263.6,751.2M318.5,709.3L264.7,751.6M316.0,707.2L265.3,751.0M317.6,709.3L270.7,752.8M317.7,711.4L268.0,751.6M312.4,708.9L266.9,753.4M311.4,710.3L268.4,752.1M314.5,707.1L268.8,750.4M316.8,712.0L269.0,752.0M314.1,710.9L269.9,750.3M313.1,712.9L264.5,753.1M313.9,708.6L269.0,753.6M318.0,708.8L267.2,752.8M310.5,710.0L266.4,751.8M317.0,712.6L266.7,752.3M319.9,708.5L267.1,752.4M313.3,711.3L267.6,752.8M316.0,711.5L270.6,753.1M314.2,712.9L267.9,752.4M311.6,711.0L271.1,751.2M310.3,710.2L271.2,751.8M318.6,711.7L268.0,750.9M318.1,708.9L271.1,752.2M309.2,711.4L266.6,752.8M309.5,707.7L264.9,753.0M317.4,710.7L264.8,752.8M312.1,707.3L271.0,753.2M307.4,709.8L265.4,753.0M313.8,710.5L265.2,753.5M313.1,709.8L268.9,750.3M308.8,708.0L267.4,751.8M317.9,712.0L266.6,753.0M318.1,711.2L265.3,752.7" stroke="#f3a8cd" stroke-width="0.4" stroke-opacity="0.6" fill="none"/>
<g filter="url(#rough)"><use href="#bl"/><use href="#bu"/></g>
</g>
<text transform="translate(273.80,524.80)" font-size="7.6" text-anchor="middle" fill="#1a1a1a">MNN</text>
<text transform="translate(449.00,524.80)" font-size="7.6" text-anchor="middle" fill="#1a1a1a">scGALA Enhanced</text>
<text transform="translate(610.50,524.80)" font-size="7.6" text-anchor="middle" fill="#1a1a1a">scGALA Unique</text>
<rect x="225" y="809.6" width="456.4" height="20.8" rx="2.2" fill="#fff" stroke="#3a3a3a" stroke-width="0.6"/>
<text transform="translate(229.00,822.70)" font-size="7.6" text-anchor="start" fill="#1a1a1a">Cell Type</text>
<circle cx="268.3" cy="815.2" r="2.6" fill="#17becf"/>
<text transform="translate(273.30,817.70)" font-size="7.2" text-anchor="start" fill="#1a1a1a" letter-spacing="0.42">CD8 Naive</text>
<circle cx="268.3" cy="825.2" r="2.6" fill="#1f77b4"/>
<text transform="translate(273.30,827.70)" font-size="7.2" text-anchor="start" fill="#1a1a1a" letter-spacing="0.42">B Intermediate</text>
<circle cx="337.0" cy="815.2" r="2.6" fill="#aec7e8"/>
<text transform="translate(342.00,817.70)" font-size="7.2" text-anchor="start" fill="#1a1a1a" letter-spacing="0.42">CD8 TEM</text>
<circle cx="337.0" cy="825.2" r="2.6" fill="#ff7f0e"/>
<text transform="translate(342.00,827.70)" font-size="7.2" text-anchor="start" fill="#1a1a1a" letter-spacing="0.42">B Memory</text>
<circle cx="386.7" cy="815.2" r="2.6" fill="#ffbb78"/>
<text transform="translate(391.70,817.70)" font-size="7.2" text-anchor="start" fill="#1a1a1a" letter-spacing="0.42">MAIT</text>
<circle cx="386.7" cy="825.2" r="2.6" fill="#2ca02c"/>
<text transform="translate(391.70,827.70)" font-size="7.2" text-anchor="start" fill="#1a1a1a" letter-spacing="0.42">B Naive</text>
<circle cx="429.4" cy="815.2" r="2.6" fill="#98df8a"/>
<text transform="translate(434.40,817.70)" font-size="7.2" text-anchor="start" fill="#1a1a1a" letter-spacing="0.42">NK</text>
<circle cx="429.4" cy="825.2" r="2.6" fill="#d62728"/>
<text transform="translate(434.40,827.70)" font-size="7.2" text-anchor="start" fill="#1a1a1a" letter-spacing="0.42">CD14 Mono</text>
<circle cx="484.7" cy="815.2" r="2.6" fill="#ff9896"/>
<text transform="translate(489.70,817.70)" font-size="7.2" text-anchor="start" fill="#1a1a1a" letter-spacing="0.42">Treg</text>
<circle cx="484.7" cy="825.2" r="2.6" fill="#9467bd"/>
<text transform="translate(489.70,827.70)" font-size="7.2" text-anchor="start" fill="#1a1a1a" letter-spacing="0.42">CD16 Mono</text>
<circle cx="541.2" cy="815.2" r="2.6" fill="#c5b0d5"/>
<text transform="translate(546.20,817.70)" font-size="7.2" text-anchor="start" fill="#1a1a1a" letter-spacing="0.42">cDC</text>
<circle cx="541.2" cy="825.2" r="2.6" fill="#8c564b"/>
<text transform="translate(546.20,827.70)" font-size="7.2" text-anchor="start" fill="#1a1a1a" letter-spacing="0.42">CD4 Naive</text>
<circle cx="593.8" cy="815.2" r="2.6" fill="#c49c94"/>
<text transform="translate(598.80,817.70)" font-size="7.2" text-anchor="start" fill="#1a1a1a" letter-spacing="0.42">gdT</text>
<circle cx="593.8" cy="825.2" r="2.6" fill="#e377c2"/>
<text transform="translate(598.80,827.70)" font-size="7.2" text-anchor="start" fill="#1a1a1a" letter-spacing="0.42">CD4 TCM</text>
<circle cx="642.0" cy="815.2" r="2.6" fill="#f7b6d2"/>
<text transform="translate(647.00,817.70)" font-size="7.2" text-anchor="start" fill="#1a1a1a" letter-spacing="0.42">pDC</text>
<circle cx="642.0" cy="825.2" r="2.6" fill="#bcbd22"/>
<text transform="translate(647.00,827.70)" font-size="7.2" text-anchor="start" fill="#1a1a1a" letter-spacing="0.42">CD4 TEM</text>
</svg>
</body></html>
